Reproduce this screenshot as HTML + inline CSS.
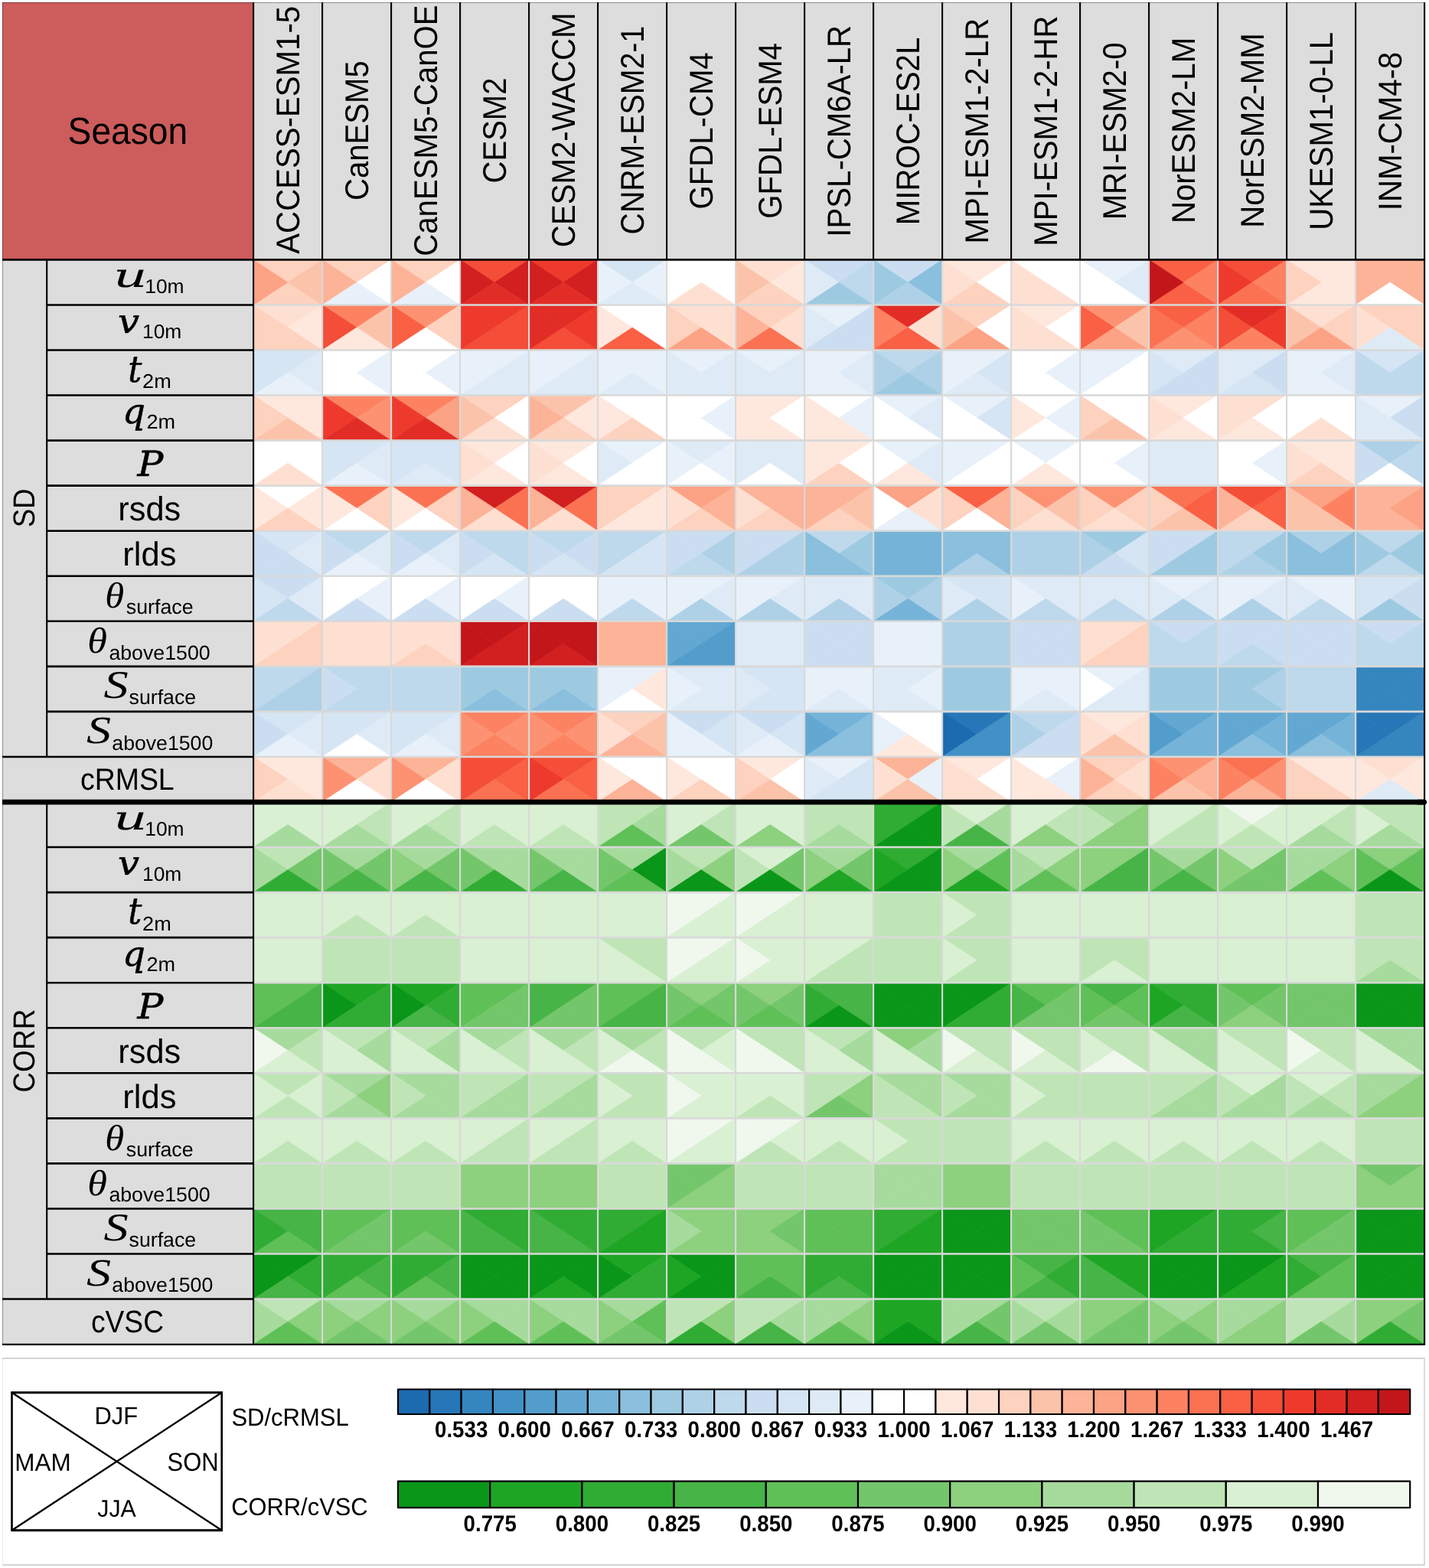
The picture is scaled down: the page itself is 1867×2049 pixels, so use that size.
<!DOCTYPE html>
<html lang="en"><head><meta charset="utf-8"><title>Seasonal performance matrix</title>
<style>html,body{margin:0;padding:0;background:#fff}svg{display:block}text{font-family:"Liberation Sans",Arial,Helvetica,sans-serif;fill:#000;text-rendering:geometricPrecision}.m{font-family:"Liberation Serif","DejaVu Serif",serif;font-style:italic}.d{font-family:"DejaVu Serif","Liberation Serif",serif;font-style:italic}.b{font-weight:bold}</style></head><body>
<svg width="1867" height="2049" viewBox="0 0 1867 2049">
<rect x="0" y="0" width="1867" height="2049" fill="#fff"/>
<g transform="translate(0 0)">
<rect x="3.0" y="3.0" width="1858.1" height="336.4" fill="#dddddd"/>
<rect x="3.0" y="3.0" width="328.1" height="336.4" fill="#cd5c5c"/>
<rect x="3.0" y="339.4" width="328.1" height="1417.2" fill="#dddddd"/>
<g stroke-width="0.6" stroke-linejoin="round">
<rect x="331.1" y="339.40" width="90.0" height="59.05" fill="#fdd2bf" stroke="#fdd2bf"/>
<path d="M331.1 339.40L376.1 368.92L331.1 398.45Z" fill="#fca285" stroke="#fca285"/>
<path d="M421.1 339.40L376.1 368.92L421.1 398.45Z" fill="#fcc3ab" stroke="#fcc3ab"/>
<rect x="421.1" y="339.40" width="90.0" height="59.05" fill="#fdd2bf" stroke="#fdd2bf"/>
<path d="M421.1 339.40L466.1 368.92L421.1 398.45Z" fill="#fcb398" stroke="#fcb398"/>
<path d="M511.1 339.40L466.1 368.92L511.1 398.45Z" fill="#ffffff" stroke="#ffffff"/>
<path d="M421.1 398.45L466.1 368.92L511.1 398.45Z" fill="#e8f1fa" stroke="#e8f1fa"/>
<rect x="511.1" y="339.40" width="90.0" height="59.05" fill="#fdd2bf" stroke="#fdd2bf"/>
<path d="M511.1 339.40L556.1 368.92L511.1 398.45Z" fill="#fcb398" stroke="#fcb398"/>
<path d="M601.1 339.40L556.1 368.92L601.1 398.45Z" fill="#ffffff" stroke="#ffffff"/>
<path d="M511.1 398.45L556.1 368.92L601.1 398.45Z" fill="#e8f1fa" stroke="#e8f1fa"/>
<rect x="601.1" y="339.40" width="90.0" height="59.05" fill="#f44d38" stroke="#f44d38"/>
<path d="M601.1 339.40L646.1 368.92L601.1 398.45Z" fill="#d21f20" stroke="#d21f20"/>
<path d="M691.1 339.40L646.1 368.92L691.1 398.45Z" fill="#d21f20" stroke="#d21f20"/>
<path d="M601.1 398.45L646.1 368.92L691.1 398.45Z" fill="#e12d26" stroke="#e12d26"/>
<rect x="691.1" y="339.40" width="90.0" height="59.05" fill="#ee3a2c" stroke="#ee3a2c"/>
<path d="M691.1 339.40L736.1 368.92L691.1 398.45Z" fill="#d21f20" stroke="#d21f20"/>
<path d="M781.1 339.40L736.1 368.92L781.1 398.45Z" fill="#d21f20" stroke="#d21f20"/>
<path d="M691.1 398.45L736.1 368.92L781.1 398.45Z" fill="#e12d26" stroke="#e12d26"/>
<rect x="781.1" y="339.40" width="90.0" height="59.05" fill="#d5e5f4" stroke="#d5e5f4"/>
<path d="M781.1 339.40L826.1 368.92L781.1 398.45Z" fill="#e8f1fa" stroke="#e8f1fa"/>
<path d="M871.1 339.40L826.1 368.92L871.1 398.45Z" fill="#e8f1fa" stroke="#e8f1fa"/>
<path d="M781.1 398.45L826.1 368.92L871.1 398.45Z" fill="#deebf7" stroke="#deebf7"/>
<rect x="871.1" y="339.40" width="90.0" height="59.05" fill="#ffffff" stroke="#ffffff"/>
<path d="M871.1 398.45L916.1 368.92L961.1 398.45Z" fill="#fee0d2" stroke="#fee0d2"/>
<rect x="961.1" y="339.40" width="90.0" height="59.05" fill="#fee0d2" stroke="#fee0d2"/>
<path d="M961.1 339.40L1006.1 368.92L961.1 398.45Z" fill="#fcc3ab" stroke="#fcc3ab"/>
<path d="M1051.1 339.40L1006.1 368.92L1051.1 398.45Z" fill="#fee8de" stroke="#fee8de"/>
<path d="M961.1 398.45L1006.1 368.92L1051.1 398.45Z" fill="#fdd2bf" stroke="#fdd2bf"/>
<rect x="1051.1" y="339.40" width="90.0" height="59.05" fill="#cbdef1" stroke="#cbdef1"/>
<path d="M1051.1 339.40L1096.1 368.92L1051.1 398.45Z" fill="#deebf7" stroke="#deebf7"/>
<path d="M1141.1 339.40L1096.1 368.92L1141.1 398.45Z" fill="#bed8ec" stroke="#bed8ec"/>
<path d="M1051.1 398.45L1096.1 368.92L1141.1 398.45Z" fill="#9dcae1" stroke="#9dcae1"/>
<rect x="1141.1" y="339.40" width="90.0" height="59.05" fill="#cbdef1" stroke="#cbdef1"/>
<path d="M1141.1 339.40L1186.1 368.92L1141.1 398.45Z" fill="#9dcae1" stroke="#9dcae1"/>
<path d="M1231.1 339.40L1186.1 368.92L1231.1 398.45Z" fill="#8abfdd" stroke="#8abfdd"/>
<path d="M1141.1 398.45L1186.1 368.92L1231.1 398.45Z" fill="#aed1e7" stroke="#aed1e7"/>
<rect x="1231.1" y="339.40" width="90.0" height="59.05" fill="#fee8de" stroke="#fee8de"/>
<path d="M1231.1 339.40L1276.1 368.92L1231.1 398.45Z" fill="#fee0d2" stroke="#fee0d2"/>
<path d="M1321.1 339.40L1276.1 368.92L1321.1 398.45Z" fill="#ffffff" stroke="#ffffff"/>
<path d="M1231.1 398.45L1276.1 368.92L1321.1 398.45Z" fill="#fdd2bf" stroke="#fdd2bf"/>
<rect x="1321.1" y="339.40" width="90.0" height="59.05" fill="#ffffff" stroke="#ffffff"/>
<path d="M1321.1 339.40L1366.1 368.92L1321.1 398.45Z" fill="#fee0d2" stroke="#fee0d2"/>
<path d="M1321.1 398.45L1366.1 368.92L1411.1 398.45Z" fill="#fee0d2" stroke="#fee0d2"/>
<rect x="1411.1" y="339.40" width="90.0" height="59.05" fill="#e8f1fa" stroke="#e8f1fa"/>
<path d="M1411.1 339.40L1456.1 368.92L1411.1 398.45Z" fill="#ffffff" stroke="#ffffff"/>
<path d="M1501.1 339.40L1456.1 368.92L1501.1 398.45Z" fill="#deebf7" stroke="#deebf7"/>
<path d="M1411.1 398.45L1456.1 368.92L1501.1 398.45Z" fill="#ffffff" stroke="#ffffff"/>
<rect x="1501.1" y="339.40" width="90.0" height="59.05" fill="#f96044" stroke="#f96044"/>
<path d="M1501.1 339.40L1546.1 368.92L1501.1 398.45Z" fill="#c3161b" stroke="#c3161b"/>
<path d="M1591.1 339.40L1546.1 368.92L1591.1 398.45Z" fill="#fc8262" stroke="#fc8262"/>
<rect x="1591.1" y="339.40" width="90.0" height="59.05" fill="#f44d38" stroke="#f44d38"/>
<path d="M1591.1 339.40L1636.1 368.92L1591.1 398.45Z" fill="#ee3a2c" stroke="#ee3a2c"/>
<path d="M1681.1 339.40L1636.1 368.92L1681.1 398.45Z" fill="#fc8262" stroke="#fc8262"/>
<path d="M1591.1 398.45L1636.1 368.92L1681.1 398.45Z" fill="#fb7252" stroke="#fb7252"/>
<rect x="1681.1" y="339.40" width="90.0" height="59.05" fill="#fee8de" stroke="#fee8de"/>
<path d="M1681.1 339.40L1726.1 368.92L1681.1 398.45Z" fill="#fdd2bf" stroke="#fdd2bf"/>
<rect x="1771.1" y="339.40" width="90.0" height="59.05" fill="#fcb398" stroke="#fcb398"/>
<path d="M1771.1 398.45L1816.1 368.92L1861.1 398.45Z" fill="#ffffff" stroke="#ffffff"/>
<rect x="331.1" y="398.45" width="90.0" height="59.05" fill="#fee0d2" stroke="#fee0d2"/>
<path d="M331.1 398.45L376.1 427.98L331.1 457.50Z" fill="#fdd2bf" stroke="#fdd2bf"/>
<path d="M421.1 398.45L376.1 427.98L421.1 457.50Z" fill="#fee8de" stroke="#fee8de"/>
<path d="M331.1 457.50L376.1 427.98L421.1 457.50Z" fill="#fdd2bf" stroke="#fdd2bf"/>
<rect x="421.1" y="398.45" width="90.0" height="59.05" fill="#fc8262" stroke="#fc8262"/>
<path d="M421.1 398.45L466.1 427.98L421.1 457.50Z" fill="#f44d38" stroke="#f44d38"/>
<path d="M511.1 398.45L466.1 427.98L511.1 457.50Z" fill="#fcc3ab" stroke="#fcc3ab"/>
<path d="M421.1 457.50L466.1 427.98L511.1 457.50Z" fill="#fee8de" stroke="#fee8de"/>
<rect x="511.1" y="398.45" width="90.0" height="59.05" fill="#fc9272" stroke="#fc9272"/>
<path d="M511.1 398.45L556.1 427.98L511.1 457.50Z" fill="#f96044" stroke="#f96044"/>
<path d="M601.1 398.45L556.1 427.98L601.1 457.50Z" fill="#fdd2bf" stroke="#fdd2bf"/>
<path d="M511.1 457.50L556.1 427.98L601.1 457.50Z" fill="#ffffff" stroke="#ffffff"/>
<rect x="601.1" y="398.45" width="90.0" height="59.05" fill="#ee3a2c" stroke="#ee3a2c"/>
<path d="M691.1 398.45L646.1 427.98L691.1 457.50Z" fill="#f44d38" stroke="#f44d38"/>
<path d="M601.1 457.50L646.1 427.98L691.1 457.50Z" fill="#f44d38" stroke="#f44d38"/>
<rect x="691.1" y="398.45" width="90.0" height="59.05" fill="#e12d26" stroke="#e12d26"/>
<path d="M781.1 398.45L736.1 427.98L781.1 457.50Z" fill="#ee3a2c" stroke="#ee3a2c"/>
<path d="M691.1 457.50L736.1 427.98L781.1 457.50Z" fill="#f44d38" stroke="#f44d38"/>
<rect x="781.1" y="398.45" width="90.0" height="59.05" fill="#ffffff" stroke="#ffffff"/>
<path d="M781.1 398.45L826.1 427.98L781.1 457.50Z" fill="#fee8de" stroke="#fee8de"/>
<path d="M781.1 457.50L826.1 427.98L871.1 457.50Z" fill="#f96044" stroke="#f96044"/>
<rect x="871.1" y="398.45" width="90.0" height="59.05" fill="#fee0d2" stroke="#fee0d2"/>
<path d="M871.1 398.45L916.1 427.98L871.1 457.50Z" fill="#fdd2bf" stroke="#fdd2bf"/>
<path d="M871.1 457.50L916.1 427.98L961.1 457.50Z" fill="#fca285" stroke="#fca285"/>
<rect x="961.1" y="398.45" width="90.0" height="59.05" fill="#fdd2bf" stroke="#fdd2bf"/>
<path d="M961.1 398.45L1006.1 427.98L961.1 457.50Z" fill="#fcb398" stroke="#fcb398"/>
<path d="M1051.1 398.45L1006.1 427.98L1051.1 457.50Z" fill="#fee0d2" stroke="#fee0d2"/>
<path d="M961.1 457.50L1006.1 427.98L1051.1 457.50Z" fill="#fb7252" stroke="#fb7252"/>
<rect x="1051.1" y="398.45" width="90.0" height="59.05" fill="#e8f1fa" stroke="#e8f1fa"/>
<path d="M1051.1 398.45L1096.1 427.98L1051.1 457.50Z" fill="#deebf7" stroke="#deebf7"/>
<path d="M1141.1 398.45L1096.1 427.98L1141.1 457.50Z" fill="#cbdef1" stroke="#cbdef1"/>
<path d="M1051.1 457.50L1096.1 427.98L1141.1 457.50Z" fill="#cbdef1" stroke="#cbdef1"/>
<rect x="1141.1" y="398.45" width="90.0" height="59.05" fill="#e12d26" stroke="#e12d26"/>
<path d="M1141.1 398.45L1186.1 427.98L1141.1 457.50Z" fill="#fc8262" stroke="#fc8262"/>
<path d="M1231.1 398.45L1186.1 427.98L1231.1 457.50Z" fill="#fee0d2" stroke="#fee0d2"/>
<path d="M1141.1 457.50L1186.1 427.98L1231.1 457.50Z" fill="#f96044" stroke="#f96044"/>
<rect x="1231.1" y="398.45" width="90.0" height="59.05" fill="#fdd2bf" stroke="#fdd2bf"/>
<path d="M1231.1 398.45L1276.1 427.98L1231.1 457.50Z" fill="#fcc3ab" stroke="#fcc3ab"/>
<path d="M1321.1 398.45L1276.1 427.98L1321.1 457.50Z" fill="#ffffff" stroke="#ffffff"/>
<path d="M1231.1 457.50L1276.1 427.98L1321.1 457.50Z" fill="#fca285" stroke="#fca285"/>
<rect x="1321.1" y="398.45" width="90.0" height="59.05" fill="#fee8de" stroke="#fee8de"/>
<path d="M1321.1 398.45L1366.1 427.98L1321.1 457.50Z" fill="#fee0d2" stroke="#fee0d2"/>
<path d="M1411.1 398.45L1366.1 427.98L1411.1 457.50Z" fill="#ffffff" stroke="#ffffff"/>
<path d="M1321.1 457.50L1366.1 427.98L1411.1 457.50Z" fill="#fee0d2" stroke="#fee0d2"/>
<rect x="1411.1" y="398.45" width="90.0" height="59.05" fill="#fc9272" stroke="#fc9272"/>
<path d="M1411.1 398.45L1456.1 427.98L1411.1 457.50Z" fill="#f96044" stroke="#f96044"/>
<path d="M1501.1 398.45L1456.1 427.98L1501.1 457.50Z" fill="#fcc3ab" stroke="#fcc3ab"/>
<path d="M1411.1 457.50L1456.1 427.98L1501.1 457.50Z" fill="#fca285" stroke="#fca285"/>
<rect x="1501.1" y="398.45" width="90.0" height="59.05" fill="#f96044" stroke="#f96044"/>
<path d="M1501.1 398.45L1546.1 427.98L1501.1 457.50Z" fill="#fb7252" stroke="#fb7252"/>
<path d="M1591.1 398.45L1546.1 427.98L1591.1 457.50Z" fill="#fc8262" stroke="#fc8262"/>
<path d="M1501.1 457.50L1546.1 427.98L1591.1 457.50Z" fill="#fc9272" stroke="#fc9272"/>
<rect x="1591.1" y="398.45" width="90.0" height="59.05" fill="#e12d26" stroke="#e12d26"/>
<path d="M1591.1 398.45L1636.1 427.98L1591.1 457.50Z" fill="#f44d38" stroke="#f44d38"/>
<path d="M1681.1 398.45L1636.1 427.98L1681.1 457.50Z" fill="#ee3a2c" stroke="#ee3a2c"/>
<path d="M1591.1 457.50L1636.1 427.98L1681.1 457.50Z" fill="#fc8262" stroke="#fc8262"/>
<rect x="1681.1" y="398.45" width="90.0" height="59.05" fill="#fee0d2" stroke="#fee0d2"/>
<path d="M1681.1 398.45L1726.1 427.98L1681.1 457.50Z" fill="#fcc3ab" stroke="#fcc3ab"/>
<path d="M1771.1 398.45L1726.1 427.98L1771.1 457.50Z" fill="#fdd2bf" stroke="#fdd2bf"/>
<path d="M1681.1 457.50L1726.1 427.98L1771.1 457.50Z" fill="#fca285" stroke="#fca285"/>
<rect x="1771.1" y="398.45" width="90.0" height="59.05" fill="#fdd2bf" stroke="#fdd2bf"/>
<path d="M1771.1 398.45L1816.1 427.98L1771.1 457.50Z" fill="#fee0d2" stroke="#fee0d2"/>
<path d="M1771.1 457.50L1816.1 427.98L1861.1 457.50Z" fill="#deebf7" stroke="#deebf7"/>
<rect x="331.1" y="457.50" width="90.0" height="59.05" fill="#d5e5f4" stroke="#d5e5f4"/>
<path d="M421.1 457.50L376.1 487.02L421.1 516.55Z" fill="#deebf7" stroke="#deebf7"/>
<path d="M331.1 516.55L376.1 487.02L421.1 516.55Z" fill="#e8f1fa" stroke="#e8f1fa"/>
<rect x="421.1" y="457.50" width="90.0" height="59.05" fill="#ffffff" stroke="#ffffff"/>
<path d="M511.1 457.50L466.1 487.02L511.1 516.55Z" fill="#e8f1fa" stroke="#e8f1fa"/>
<rect x="511.1" y="457.50" width="90.0" height="59.05" fill="#ffffff" stroke="#ffffff"/>
<path d="M601.1 457.50L556.1 487.02L601.1 516.55Z" fill="#e8f1fa" stroke="#e8f1fa"/>
<rect x="601.1" y="457.50" width="90.0" height="59.05" fill="#e8f1fa" stroke="#e8f1fa"/>
<path d="M691.1 457.50L646.1 487.02L691.1 516.55Z" fill="#deebf7" stroke="#deebf7"/>
<path d="M601.1 516.55L646.1 487.02L691.1 516.55Z" fill="#deebf7" stroke="#deebf7"/>
<rect x="691.1" y="457.50" width="90.0" height="59.05" fill="#e8f1fa" stroke="#e8f1fa"/>
<path d="M781.1 457.50L736.1 487.02L781.1 516.55Z" fill="#deebf7" stroke="#deebf7"/>
<path d="M691.1 516.55L736.1 487.02L781.1 516.55Z" fill="#deebf7" stroke="#deebf7"/>
<rect x="781.1" y="457.50" width="90.0" height="59.05" fill="#e8f1fa" stroke="#e8f1fa"/>
<path d="M781.1 516.55L826.1 487.02L871.1 516.55Z" fill="#deebf7" stroke="#deebf7"/>
<rect x="871.1" y="457.50" width="90.0" height="59.05" fill="#e8f1fa" stroke="#e8f1fa"/>
<path d="M871.1 457.50L916.1 487.02L871.1 516.55Z" fill="#deebf7" stroke="#deebf7"/>
<path d="M961.1 457.50L916.1 487.02L961.1 516.55Z" fill="#deebf7" stroke="#deebf7"/>
<path d="M871.1 516.55L916.1 487.02L961.1 516.55Z" fill="#deebf7" stroke="#deebf7"/>
<rect x="961.1" y="457.50" width="90.0" height="59.05" fill="#e8f1fa" stroke="#e8f1fa"/>
<path d="M961.1 457.50L1006.1 487.02L961.1 516.55Z" fill="#deebf7" stroke="#deebf7"/>
<path d="M1051.1 457.50L1006.1 487.02L1051.1 516.55Z" fill="#deebf7" stroke="#deebf7"/>
<path d="M961.1 516.55L1006.1 487.02L1051.1 516.55Z" fill="#deebf7" stroke="#deebf7"/>
<rect x="1051.1" y="457.50" width="90.0" height="59.05" fill="#e8f1fa" stroke="#e8f1fa"/>
<path d="M1141.1 457.50L1096.1 487.02L1141.1 516.55Z" fill="#deebf7" stroke="#deebf7"/>
<rect x="1141.1" y="457.50" width="90.0" height="59.05" fill="#bed8ec" stroke="#bed8ec"/>
<path d="M1141.1 457.50L1186.1 487.02L1141.1 516.55Z" fill="#aed1e7" stroke="#aed1e7"/>
<path d="M1231.1 457.50L1186.1 487.02L1231.1 516.55Z" fill="#aed1e7" stroke="#aed1e7"/>
<path d="M1141.1 516.55L1186.1 487.02L1231.1 516.55Z" fill="#9dcae1" stroke="#9dcae1"/>
<rect x="1231.1" y="457.50" width="90.0" height="59.05" fill="#e8f1fa" stroke="#e8f1fa"/>
<path d="M1321.1 457.50L1276.1 487.02L1321.1 516.55Z" fill="#d5e5f4" stroke="#d5e5f4"/>
<path d="M1231.1 516.55L1276.1 487.02L1321.1 516.55Z" fill="#deebf7" stroke="#deebf7"/>
<rect x="1321.1" y="457.50" width="90.0" height="59.05" fill="#ffffff" stroke="#ffffff"/>
<path d="M1411.1 457.50L1366.1 487.02L1411.1 516.55Z" fill="#e8f1fa" stroke="#e8f1fa"/>
<rect x="1411.1" y="457.50" width="90.0" height="59.05" fill="#e8f1fa" stroke="#e8f1fa"/>
<path d="M1501.1 457.50L1456.1 487.02L1501.1 516.55Z" fill="#ffffff" stroke="#ffffff"/>
<path d="M1411.1 516.55L1456.1 487.02L1501.1 516.55Z" fill="#ffffff" stroke="#ffffff"/>
<rect x="1501.1" y="457.50" width="90.0" height="59.05" fill="#deebf7" stroke="#deebf7"/>
<path d="M1501.1 457.50L1546.1 487.02L1501.1 516.55Z" fill="#d5e5f4" stroke="#d5e5f4"/>
<path d="M1591.1 457.50L1546.1 487.02L1591.1 516.55Z" fill="#cbdef1" stroke="#cbdef1"/>
<path d="M1501.1 516.55L1546.1 487.02L1591.1 516.55Z" fill="#cbdef1" stroke="#cbdef1"/>
<rect x="1591.1" y="457.50" width="90.0" height="59.05" fill="#deebf7" stroke="#deebf7"/>
<path d="M1681.1 457.50L1636.1 487.02L1681.1 516.55Z" fill="#cbdef1" stroke="#cbdef1"/>
<path d="M1591.1 516.55L1636.1 487.02L1681.1 516.55Z" fill="#d5e5f4" stroke="#d5e5f4"/>
<rect x="1681.1" y="457.50" width="90.0" height="59.05" fill="#e8f1fa" stroke="#e8f1fa"/>
<path d="M1771.1 457.50L1726.1 487.02L1771.1 516.55Z" fill="#deebf7" stroke="#deebf7"/>
<rect x="1771.1" y="457.50" width="90.0" height="59.05" fill="#d5e5f4" stroke="#d5e5f4"/>
<path d="M1771.1 457.50L1816.1 487.02L1771.1 516.55Z" fill="#bed8ec" stroke="#bed8ec"/>
<path d="M1861.1 457.50L1816.1 487.02L1861.1 516.55Z" fill="#bed8ec" stroke="#bed8ec"/>
<path d="M1771.1 516.55L1816.1 487.02L1861.1 516.55Z" fill="#bed8ec" stroke="#bed8ec"/>
<rect x="331.1" y="516.55" width="90.0" height="59.05" fill="#fee8de" stroke="#fee8de"/>
<path d="M331.1 516.55L376.1 546.07L331.1 575.60Z" fill="#fdd2bf" stroke="#fdd2bf"/>
<path d="M331.1 575.60L376.1 546.07L421.1 575.60Z" fill="#fcc3ab" stroke="#fcc3ab"/>
<rect x="421.1" y="516.55" width="90.0" height="59.05" fill="#fc8262" stroke="#fc8262"/>
<path d="M421.1 516.55L466.1 546.07L421.1 575.60Z" fill="#ee3a2c" stroke="#ee3a2c"/>
<path d="M511.1 516.55L466.1 546.07L511.1 575.60Z" fill="#fc9272" stroke="#fc9272"/>
<path d="M421.1 575.60L466.1 546.07L511.1 575.60Z" fill="#e12d26" stroke="#e12d26"/>
<rect x="511.1" y="516.55" width="90.0" height="59.05" fill="#fc8262" stroke="#fc8262"/>
<path d="M511.1 516.55L556.1 546.07L511.1 575.60Z" fill="#ee3a2c" stroke="#ee3a2c"/>
<path d="M601.1 516.55L556.1 546.07L601.1 575.60Z" fill="#fca285" stroke="#fca285"/>
<path d="M511.1 575.60L556.1 546.07L601.1 575.60Z" fill="#e12d26" stroke="#e12d26"/>
<rect x="601.1" y="516.55" width="90.0" height="59.05" fill="#fdd2bf" stroke="#fdd2bf"/>
<path d="M601.1 516.55L646.1 546.07L601.1 575.60Z" fill="#fcc3ab" stroke="#fcc3ab"/>
<path d="M691.1 516.55L646.1 546.07L691.1 575.60Z" fill="#ffffff" stroke="#ffffff"/>
<path d="M601.1 575.60L646.1 546.07L691.1 575.60Z" fill="#fee0d2" stroke="#fee0d2"/>
<rect x="691.1" y="516.55" width="90.0" height="59.05" fill="#fcc3ab" stroke="#fcc3ab"/>
<path d="M691.1 516.55L736.1 546.07L691.1 575.60Z" fill="#fcb398" stroke="#fcb398"/>
<path d="M781.1 516.55L736.1 546.07L781.1 575.60Z" fill="#fee8de" stroke="#fee8de"/>
<path d="M691.1 575.60L736.1 546.07L781.1 575.60Z" fill="#fdd2bf" stroke="#fdd2bf"/>
<rect x="781.1" y="516.55" width="90.0" height="59.05" fill="#ffffff" stroke="#ffffff"/>
<path d="M781.1 516.55L826.1 546.07L781.1 575.60Z" fill="#fee8de" stroke="#fee8de"/>
<path d="M781.1 575.60L826.1 546.07L871.1 575.60Z" fill="#fdd2bf" stroke="#fdd2bf"/>
<rect x="871.1" y="516.55" width="90.0" height="59.05" fill="#ffffff" stroke="#ffffff"/>
<path d="M961.1 516.55L916.1 546.07L961.1 575.60Z" fill="#e8f1fa" stroke="#e8f1fa"/>
<rect x="961.1" y="516.55" width="90.0" height="59.05" fill="#fee8de" stroke="#fee8de"/>
<path d="M1051.1 516.55L1006.1 546.07L1051.1 575.60Z" fill="#ffffff" stroke="#ffffff"/>
<rect x="1051.1" y="516.55" width="90.0" height="59.05" fill="#ffffff" stroke="#ffffff"/>
<path d="M1051.1 516.55L1096.1 546.07L1051.1 575.60Z" fill="#fee8de" stroke="#fee8de"/>
<path d="M1141.1 516.55L1096.1 546.07L1141.1 575.60Z" fill="#e8f1fa" stroke="#e8f1fa"/>
<path d="M1051.1 575.60L1096.1 546.07L1141.1 575.60Z" fill="#fee8de" stroke="#fee8de"/>
<rect x="1141.1" y="516.55" width="90.0" height="59.05" fill="#e8f1fa" stroke="#e8f1fa"/>
<path d="M1141.1 516.55L1186.1 546.07L1141.1 575.60Z" fill="#ffffff" stroke="#ffffff"/>
<path d="M1231.1 516.55L1186.1 546.07L1231.1 575.60Z" fill="#deebf7" stroke="#deebf7"/>
<path d="M1141.1 575.60L1186.1 546.07L1231.1 575.60Z" fill="#ffffff" stroke="#ffffff"/>
<rect x="1231.1" y="516.55" width="90.0" height="59.05" fill="#e8f1fa" stroke="#e8f1fa"/>
<path d="M1231.1 516.55L1276.1 546.07L1231.1 575.60Z" fill="#ffffff" stroke="#ffffff"/>
<path d="M1321.1 516.55L1276.1 546.07L1321.1 575.60Z" fill="#d5e5f4" stroke="#d5e5f4"/>
<path d="M1231.1 575.60L1276.1 546.07L1321.1 575.60Z" fill="#ffffff" stroke="#ffffff"/>
<rect x="1321.1" y="516.55" width="90.0" height="59.05" fill="#ffffff" stroke="#ffffff"/>
<path d="M1321.1 516.55L1366.1 546.07L1321.1 575.60Z" fill="#fee8de" stroke="#fee8de"/>
<path d="M1411.1 516.55L1366.1 546.07L1411.1 575.60Z" fill="#e8f1fa" stroke="#e8f1fa"/>
<rect x="1411.1" y="516.55" width="90.0" height="59.05" fill="#ffffff" stroke="#ffffff"/>
<path d="M1411.1 516.55L1456.1 546.07L1411.1 575.60Z" fill="#fdd2bf" stroke="#fdd2bf"/>
<path d="M1411.1 575.60L1456.1 546.07L1501.1 575.60Z" fill="#fcc3ab" stroke="#fcc3ab"/>
<rect x="1501.1" y="516.55" width="90.0" height="59.05" fill="#fee8de" stroke="#fee8de"/>
<path d="M1501.1 516.55L1546.1 546.07L1501.1 575.60Z" fill="#fee0d2" stroke="#fee0d2"/>
<path d="M1591.1 516.55L1546.1 546.07L1591.1 575.60Z" fill="#ffffff" stroke="#ffffff"/>
<rect x="1591.1" y="516.55" width="90.0" height="59.05" fill="#fee0d2" stroke="#fee0d2"/>
<path d="M1681.1 516.55L1636.1 546.07L1681.1 575.60Z" fill="#ffffff" stroke="#ffffff"/>
<path d="M1591.1 575.60L1636.1 546.07L1681.1 575.60Z" fill="#fee8de" stroke="#fee8de"/>
<rect x="1681.1" y="516.55" width="90.0" height="59.05" fill="#ffffff" stroke="#ffffff"/>
<path d="M1681.1 575.60L1726.1 546.07L1771.1 575.60Z" fill="#fee0d2" stroke="#fee0d2"/>
<rect x="1771.1" y="516.55" width="90.0" height="59.05" fill="#e8f1fa" stroke="#e8f1fa"/>
<path d="M1771.1 516.55L1816.1 546.07L1771.1 575.60Z" fill="#deebf7" stroke="#deebf7"/>
<path d="M1861.1 516.55L1816.1 546.07L1861.1 575.60Z" fill="#cbdef1" stroke="#cbdef1"/>
<path d="M1771.1 575.60L1816.1 546.07L1861.1 575.60Z" fill="#deebf7" stroke="#deebf7"/>
<rect x="331.1" y="575.60" width="90.0" height="59.05" fill="#ffffff" stroke="#ffffff"/>
<path d="M331.1 634.65L376.1 605.12L421.1 634.65Z" fill="#fee0d2" stroke="#fee0d2"/>
<rect x="421.1" y="575.60" width="90.0" height="59.05" fill="#d5e5f4" stroke="#d5e5f4"/>
<path d="M511.1 575.60L466.1 605.12L511.1 634.65Z" fill="#deebf7" stroke="#deebf7"/>
<path d="M421.1 634.65L466.1 605.12L511.1 634.65Z" fill="#e8f1fa" stroke="#e8f1fa"/>
<rect x="511.1" y="575.60" width="90.0" height="59.05" fill="#d5e5f4" stroke="#d5e5f4"/>
<path d="M511.1 634.65L556.1 605.12L601.1 634.65Z" fill="#deebf7" stroke="#deebf7"/>
<rect x="601.1" y="575.60" width="90.0" height="59.05" fill="#fee8de" stroke="#fee8de"/>
<path d="M601.1 575.60L646.1 605.12L601.1 634.65Z" fill="#fee0d2" stroke="#fee0d2"/>
<path d="M691.1 575.60L646.1 605.12L691.1 634.65Z" fill="#ffffff" stroke="#ffffff"/>
<rect x="691.1" y="575.60" width="90.0" height="59.05" fill="#fee8de" stroke="#fee8de"/>
<path d="M691.1 575.60L736.1 605.12L691.1 634.65Z" fill="#fee0d2" stroke="#fee0d2"/>
<path d="M781.1 575.60L736.1 605.12L781.1 634.65Z" fill="#ffffff" stroke="#ffffff"/>
<rect x="781.1" y="575.60" width="90.0" height="59.05" fill="#e8f1fa" stroke="#e8f1fa"/>
<path d="M781.1 575.60L826.1 605.12L781.1 634.65Z" fill="#deebf7" stroke="#deebf7"/>
<path d="M871.1 575.60L826.1 605.12L871.1 634.65Z" fill="#ffffff" stroke="#ffffff"/>
<path d="M781.1 634.65L826.1 605.12L871.1 634.65Z" fill="#ffffff" stroke="#ffffff"/>
<rect x="871.1" y="575.60" width="90.0" height="59.05" fill="#deebf7" stroke="#deebf7"/>
<path d="M871.1 575.60L916.1 605.12L871.1 634.65Z" fill="#e8f1fa" stroke="#e8f1fa"/>
<path d="M961.1 575.60L916.1 605.12L961.1 634.65Z" fill="#e8f1fa" stroke="#e8f1fa"/>
<path d="M871.1 634.65L916.1 605.12L961.1 634.65Z" fill="#ffffff" stroke="#ffffff"/>
<rect x="961.1" y="575.60" width="90.0" height="59.05" fill="#deebf7" stroke="#deebf7"/>
<path d="M961.1 634.65L1006.1 605.12L1051.1 634.65Z" fill="#ffffff" stroke="#ffffff"/>
<rect x="1051.1" y="575.60" width="90.0" height="59.05" fill="#fee8de" stroke="#fee8de"/>
<path d="M1141.1 575.60L1096.1 605.12L1141.1 634.65Z" fill="#ffffff" stroke="#ffffff"/>
<path d="M1051.1 634.65L1096.1 605.12L1141.1 634.65Z" fill="#fdd2bf" stroke="#fdd2bf"/>
<rect x="1141.1" y="575.60" width="90.0" height="59.05" fill="#e8f1fa" stroke="#e8f1fa"/>
<path d="M1141.1 575.60L1186.1 605.12L1141.1 634.65Z" fill="#ffffff" stroke="#ffffff"/>
<path d="M1231.1 575.60L1186.1 605.12L1231.1 634.65Z" fill="#deebf7" stroke="#deebf7"/>
<path d="M1141.1 634.65L1186.1 605.12L1231.1 634.65Z" fill="#fee8de" stroke="#fee8de"/>
<rect x="1231.1" y="575.60" width="90.0" height="59.05" fill="#e8f1fa" stroke="#e8f1fa"/>
<path d="M1321.1 575.60L1276.1 605.12L1321.1 634.65Z" fill="#ffffff" stroke="#ffffff"/>
<path d="M1231.1 634.65L1276.1 605.12L1321.1 634.65Z" fill="#ffffff" stroke="#ffffff"/>
<rect x="1321.1" y="575.60" width="90.0" height="59.05" fill="#e8f1fa" stroke="#e8f1fa"/>
<path d="M1321.1 575.60L1366.1 605.12L1321.1 634.65Z" fill="#ffffff" stroke="#ffffff"/>
<path d="M1411.1 575.60L1366.1 605.12L1411.1 634.65Z" fill="#ffffff" stroke="#ffffff"/>
<path d="M1321.1 634.65L1366.1 605.12L1411.1 634.65Z" fill="#fee8de" stroke="#fee8de"/>
<rect x="1411.1" y="575.60" width="90.0" height="59.05" fill="#ffffff" stroke="#ffffff"/>
<path d="M1501.1 575.60L1456.1 605.12L1501.1 634.65Z" fill="#e8f1fa" stroke="#e8f1fa"/>
<rect x="1501.1" y="575.60" width="90.0" height="59.05" fill="#deebf7" stroke="#deebf7"/>
<rect x="1591.1" y="575.60" width="90.0" height="59.05" fill="#ffffff" stroke="#ffffff"/>
<path d="M1681.1 575.60L1636.1 605.12L1681.1 634.65Z" fill="#e8f1fa" stroke="#e8f1fa"/>
<rect x="1681.1" y="575.60" width="90.0" height="59.05" fill="#fee8de" stroke="#fee8de"/>
<path d="M1681.1 575.60L1726.1 605.12L1681.1 634.65Z" fill="#fee0d2" stroke="#fee0d2"/>
<path d="M1681.1 634.65L1726.1 605.12L1771.1 634.65Z" fill="#fdd2bf" stroke="#fdd2bf"/>
<rect x="1771.1" y="575.60" width="90.0" height="59.05" fill="#aed1e7" stroke="#aed1e7"/>
<path d="M1771.1 575.60L1816.1 605.12L1771.1 634.65Z" fill="#cbdef1" stroke="#cbdef1"/>
<path d="M1861.1 575.60L1816.1 605.12L1861.1 634.65Z" fill="#bed8ec" stroke="#bed8ec"/>
<path d="M1771.1 634.65L1816.1 605.12L1861.1 634.65Z" fill="#ffffff" stroke="#ffffff"/>
<rect x="331.1" y="634.65" width="90.0" height="59.05" fill="#ffffff" stroke="#ffffff"/>
<path d="M331.1 634.65L376.1 664.17L331.1 693.70Z" fill="#fee8de" stroke="#fee8de"/>
<path d="M421.1 634.65L376.1 664.17L421.1 693.70Z" fill="#fee8de" stroke="#fee8de"/>
<path d="M331.1 693.70L376.1 664.17L421.1 693.70Z" fill="#fdd2bf" stroke="#fdd2bf"/>
<rect x="421.1" y="634.65" width="90.0" height="59.05" fill="#fb7252" stroke="#fb7252"/>
<path d="M421.1 634.65L466.1 664.17L421.1 693.70Z" fill="#fee8de" stroke="#fee8de"/>
<path d="M511.1 634.65L466.1 664.17L511.1 693.70Z" fill="#fdd2bf" stroke="#fdd2bf"/>
<path d="M421.1 693.70L466.1 664.17L511.1 693.70Z" fill="#ffffff" stroke="#ffffff"/>
<rect x="511.1" y="634.65" width="90.0" height="59.05" fill="#fb7252" stroke="#fb7252"/>
<path d="M511.1 634.65L556.1 664.17L511.1 693.70Z" fill="#fee8de" stroke="#fee8de"/>
<path d="M601.1 634.65L556.1 664.17L601.1 693.70Z" fill="#fdd2bf" stroke="#fdd2bf"/>
<path d="M511.1 693.70L556.1 664.17L601.1 693.70Z" fill="#ffffff" stroke="#ffffff"/>
<rect x="601.1" y="634.65" width="90.0" height="59.05" fill="#d21f20" stroke="#d21f20"/>
<path d="M601.1 634.65L646.1 664.17L601.1 693.70Z" fill="#fcb398" stroke="#fcb398"/>
<path d="M691.1 634.65L646.1 664.17L691.1 693.70Z" fill="#fb7252" stroke="#fb7252"/>
<path d="M601.1 693.70L646.1 664.17L691.1 693.70Z" fill="#fee0d2" stroke="#fee0d2"/>
<rect x="691.1" y="634.65" width="90.0" height="59.05" fill="#d21f20" stroke="#d21f20"/>
<path d="M691.1 634.65L736.1 664.17L691.1 693.70Z" fill="#fcb398" stroke="#fcb398"/>
<path d="M781.1 634.65L736.1 664.17L781.1 693.70Z" fill="#fb7252" stroke="#fb7252"/>
<path d="M691.1 693.70L736.1 664.17L781.1 693.70Z" fill="#fee0d2" stroke="#fee0d2"/>
<rect x="781.1" y="634.65" width="90.0" height="59.05" fill="#fdd2bf" stroke="#fdd2bf"/>
<path d="M871.1 634.65L826.1 664.17L871.1 693.70Z" fill="#fee8de" stroke="#fee8de"/>
<path d="M781.1 693.70L826.1 664.17L871.1 693.70Z" fill="#fee8de" stroke="#fee8de"/>
<rect x="871.1" y="634.65" width="90.0" height="59.05" fill="#fca285" stroke="#fca285"/>
<path d="M871.1 634.65L916.1 664.17L871.1 693.70Z" fill="#fee0d2" stroke="#fee0d2"/>
<path d="M961.1 634.65L916.1 664.17L961.1 693.70Z" fill="#fcb398" stroke="#fcb398"/>
<path d="M871.1 693.70L916.1 664.17L961.1 693.70Z" fill="#fdd2bf" stroke="#fdd2bf"/>
<rect x="961.1" y="634.65" width="90.0" height="59.05" fill="#fcb398" stroke="#fcb398"/>
<path d="M961.1 634.65L1006.1 664.17L961.1 693.70Z" fill="#fee0d2" stroke="#fee0d2"/>
<path d="M961.1 693.70L1006.1 664.17L1051.1 693.70Z" fill="#fdd2bf" stroke="#fdd2bf"/>
<rect x="1051.1" y="634.65" width="90.0" height="59.05" fill="#fcb398" stroke="#fcb398"/>
<path d="M1141.1 634.65L1096.1 664.17L1141.1 693.70Z" fill="#fcc3ab" stroke="#fcc3ab"/>
<path d="M1051.1 693.70L1096.1 664.17L1141.1 693.70Z" fill="#fdd2bf" stroke="#fdd2bf"/>
<rect x="1141.1" y="634.65" width="90.0" height="59.05" fill="#fca285" stroke="#fca285"/>
<path d="M1141.1 634.65L1186.1 664.17L1141.1 693.70Z" fill="#ffffff" stroke="#ffffff"/>
<path d="M1231.1 634.65L1186.1 664.17L1231.1 693.70Z" fill="#fee0d2" stroke="#fee0d2"/>
<path d="M1141.1 693.70L1186.1 664.17L1231.1 693.70Z" fill="#e8f1fa" stroke="#e8f1fa"/>
<rect x="1231.1" y="634.65" width="90.0" height="59.05" fill="#f96044" stroke="#f96044"/>
<path d="M1231.1 634.65L1276.1 664.17L1231.1 693.70Z" fill="#fdd2bf" stroke="#fdd2bf"/>
<path d="M1321.1 634.65L1276.1 664.17L1321.1 693.70Z" fill="#fcb398" stroke="#fcb398"/>
<path d="M1231.1 693.70L1276.1 664.17L1321.1 693.70Z" fill="#ffffff" stroke="#ffffff"/>
<rect x="1321.1" y="634.65" width="90.0" height="59.05" fill="#fc9272" stroke="#fc9272"/>
<path d="M1321.1 634.65L1366.1 664.17L1321.1 693.70Z" fill="#fdd2bf" stroke="#fdd2bf"/>
<path d="M1411.1 634.65L1366.1 664.17L1411.1 693.70Z" fill="#fcc3ab" stroke="#fcc3ab"/>
<path d="M1321.1 693.70L1366.1 664.17L1411.1 693.70Z" fill="#fee0d2" stroke="#fee0d2"/>
<rect x="1411.1" y="634.65" width="90.0" height="59.05" fill="#fc9272" stroke="#fc9272"/>
<path d="M1411.1 634.65L1456.1 664.17L1411.1 693.70Z" fill="#fdd2bf" stroke="#fdd2bf"/>
<path d="M1501.1 634.65L1456.1 664.17L1501.1 693.70Z" fill="#fdd2bf" stroke="#fdd2bf"/>
<path d="M1411.1 693.70L1456.1 664.17L1501.1 693.70Z" fill="#fee0d2" stroke="#fee0d2"/>
<rect x="1501.1" y="634.65" width="90.0" height="59.05" fill="#fb7252" stroke="#fb7252"/>
<path d="M1501.1 634.65L1546.1 664.17L1501.1 693.70Z" fill="#fdd2bf" stroke="#fdd2bf"/>
<path d="M1591.1 634.65L1546.1 664.17L1591.1 693.70Z" fill="#f96044" stroke="#f96044"/>
<path d="M1501.1 693.70L1546.1 664.17L1591.1 693.70Z" fill="#fcc3ab" stroke="#fcc3ab"/>
<rect x="1591.1" y="634.65" width="90.0" height="59.05" fill="#f44d38" stroke="#f44d38"/>
<path d="M1591.1 634.65L1636.1 664.17L1591.1 693.70Z" fill="#fcb398" stroke="#fcb398"/>
<path d="M1681.1 634.65L1636.1 664.17L1681.1 693.70Z" fill="#f96044" stroke="#f96044"/>
<path d="M1591.1 693.70L1636.1 664.17L1681.1 693.70Z" fill="#fdd2bf" stroke="#fdd2bf"/>
<rect x="1681.1" y="634.65" width="90.0" height="59.05" fill="#fca285" stroke="#fca285"/>
<path d="M1681.1 634.65L1726.1 664.17L1681.1 693.70Z" fill="#fcc3ab" stroke="#fcc3ab"/>
<path d="M1771.1 634.65L1726.1 664.17L1771.1 693.70Z" fill="#fc8262" stroke="#fc8262"/>
<path d="M1681.1 693.70L1726.1 664.17L1771.1 693.70Z" fill="#fcc3ab" stroke="#fcc3ab"/>
<rect x="1771.1" y="634.65" width="90.0" height="59.05" fill="#fcb398" stroke="#fcb398"/>
<path d="M1861.1 634.65L1816.1 664.17L1861.1 693.70Z" fill="#fca285" stroke="#fca285"/>
<rect x="331.1" y="693.70" width="90.0" height="59.05" fill="#d5e5f4" stroke="#d5e5f4"/>
<path d="M331.1 693.70L376.1 723.22L331.1 752.75Z" fill="#cbdef1" stroke="#cbdef1"/>
<path d="M421.1 693.70L376.1 723.22L421.1 752.75Z" fill="#deebf7" stroke="#deebf7"/>
<path d="M331.1 752.75L376.1 723.22L421.1 752.75Z" fill="#cbdef1" stroke="#cbdef1"/>
<rect x="421.1" y="693.70" width="90.0" height="59.05" fill="#bed8ec" stroke="#bed8ec"/>
<path d="M421.1 693.70L466.1 723.22L421.1 752.75Z" fill="#cbdef1" stroke="#cbdef1"/>
<path d="M511.1 693.70L466.1 723.22L511.1 752.75Z" fill="#deebf7" stroke="#deebf7"/>
<path d="M421.1 752.75L466.1 723.22L511.1 752.75Z" fill="#e8f1fa" stroke="#e8f1fa"/>
<rect x="511.1" y="693.70" width="90.0" height="59.05" fill="#bed8ec" stroke="#bed8ec"/>
<path d="M511.1 693.70L556.1 723.22L511.1 752.75Z" fill="#cbdef1" stroke="#cbdef1"/>
<path d="M601.1 693.70L556.1 723.22L601.1 752.75Z" fill="#deebf7" stroke="#deebf7"/>
<path d="M511.1 752.75L556.1 723.22L601.1 752.75Z" fill="#e8f1fa" stroke="#e8f1fa"/>
<rect x="601.1" y="693.70" width="90.0" height="59.05" fill="#bed8ec" stroke="#bed8ec"/>
<path d="M601.1 693.70L646.1 723.22L601.1 752.75Z" fill="#cbdef1" stroke="#cbdef1"/>
<path d="M601.1 752.75L646.1 723.22L691.1 752.75Z" fill="#d5e5f4" stroke="#d5e5f4"/>
<rect x="691.1" y="693.70" width="90.0" height="59.05" fill="#bed8ec" stroke="#bed8ec"/>
<path d="M691.1 693.70L736.1 723.22L691.1 752.75Z" fill="#cbdef1" stroke="#cbdef1"/>
<path d="M781.1 693.70L736.1 723.22L781.1 752.75Z" fill="#cbdef1" stroke="#cbdef1"/>
<path d="M691.1 752.75L736.1 723.22L781.1 752.75Z" fill="#d5e5f4" stroke="#d5e5f4"/>
<rect x="781.1" y="693.70" width="90.0" height="59.05" fill="#bed8ec" stroke="#bed8ec"/>
<path d="M871.1 693.70L826.1 723.22L871.1 752.75Z" fill="#d5e5f4" stroke="#d5e5f4"/>
<path d="M781.1 752.75L826.1 723.22L871.1 752.75Z" fill="#d5e5f4" stroke="#d5e5f4"/>
<rect x="871.1" y="693.70" width="90.0" height="59.05" fill="#cbdef1" stroke="#cbdef1"/>
<path d="M961.1 693.70L916.1 723.22L961.1 752.75Z" fill="#aed1e7" stroke="#aed1e7"/>
<path d="M871.1 752.75L916.1 723.22L961.1 752.75Z" fill="#bed8ec" stroke="#bed8ec"/>
<rect x="961.1" y="693.70" width="90.0" height="59.05" fill="#cbdef1" stroke="#cbdef1"/>
<path d="M1051.1 693.70L1006.1 723.22L1051.1 752.75Z" fill="#aed1e7" stroke="#aed1e7"/>
<path d="M961.1 752.75L1006.1 723.22L1051.1 752.75Z" fill="#aed1e7" stroke="#aed1e7"/>
<rect x="1051.1" y="693.70" width="90.0" height="59.05" fill="#bed8ec" stroke="#bed8ec"/>
<path d="M1051.1 693.70L1096.1 723.22L1051.1 752.75Z" fill="#8abfdd" stroke="#8abfdd"/>
<path d="M1141.1 693.70L1096.1 723.22L1141.1 752.75Z" fill="#9dcae1" stroke="#9dcae1"/>
<path d="M1051.1 752.75L1096.1 723.22L1141.1 752.75Z" fill="#8abfdd" stroke="#8abfdd"/>
<rect x="1141.1" y="693.70" width="90.0" height="59.05" fill="#75b4d8" stroke="#75b4d8"/>
<rect x="1231.1" y="693.70" width="90.0" height="59.05" fill="#8abfdd" stroke="#8abfdd"/>
<path d="M1231.1 752.75L1276.1 723.22L1321.1 752.75Z" fill="#aed1e7" stroke="#aed1e7"/>
<rect x="1321.1" y="693.70" width="90.0" height="59.05" fill="#aed1e7" stroke="#aed1e7"/>
<rect x="1411.1" y="693.70" width="90.0" height="59.05" fill="#9dcae1" stroke="#9dcae1"/>
<path d="M1411.1 693.70L1456.1 723.22L1411.1 752.75Z" fill="#aed1e7" stroke="#aed1e7"/>
<path d="M1501.1 693.70L1456.1 723.22L1501.1 752.75Z" fill="#d5e5f4" stroke="#d5e5f4"/>
<path d="M1411.1 752.75L1456.1 723.22L1501.1 752.75Z" fill="#cbdef1" stroke="#cbdef1"/>
<rect x="1501.1" y="693.70" width="90.0" height="59.05" fill="#cbdef1" stroke="#cbdef1"/>
<path d="M1591.1 693.70L1546.1 723.22L1591.1 752.75Z" fill="#9dcae1" stroke="#9dcae1"/>
<path d="M1501.1 752.75L1546.1 723.22L1591.1 752.75Z" fill="#9dcae1" stroke="#9dcae1"/>
<rect x="1591.1" y="693.70" width="90.0" height="59.05" fill="#bed8ec" stroke="#bed8ec"/>
<path d="M1681.1 693.70L1636.1 723.22L1681.1 752.75Z" fill="#9dcae1" stroke="#9dcae1"/>
<path d="M1591.1 752.75L1636.1 723.22L1681.1 752.75Z" fill="#aed1e7" stroke="#aed1e7"/>
<rect x="1681.1" y="693.70" width="90.0" height="59.05" fill="#aed1e7" stroke="#aed1e7"/>
<path d="M1681.1 693.70L1726.1 723.22L1681.1 752.75Z" fill="#8abfdd" stroke="#8abfdd"/>
<path d="M1771.1 693.70L1726.1 723.22L1771.1 752.75Z" fill="#8abfdd" stroke="#8abfdd"/>
<path d="M1681.1 752.75L1726.1 723.22L1771.1 752.75Z" fill="#8abfdd" stroke="#8abfdd"/>
<rect x="1771.1" y="693.70" width="90.0" height="59.05" fill="#bed8ec" stroke="#bed8ec"/>
<path d="M1771.1 693.70L1816.1 723.22L1771.1 752.75Z" fill="#9dcae1" stroke="#9dcae1"/>
<path d="M1861.1 693.70L1816.1 723.22L1861.1 752.75Z" fill="#9dcae1" stroke="#9dcae1"/>
<rect x="331.1" y="752.75" width="90.0" height="59.05" fill="#cbdef1" stroke="#cbdef1"/>
<path d="M331.1 752.75L376.1 782.27L331.1 811.80Z" fill="#d5e5f4" stroke="#d5e5f4"/>
<path d="M421.1 752.75L376.1 782.27L421.1 811.80Z" fill="#deebf7" stroke="#deebf7"/>
<path d="M331.1 811.80L376.1 782.27L421.1 811.80Z" fill="#bed8ec" stroke="#bed8ec"/>
<rect x="421.1" y="752.75" width="90.0" height="59.05" fill="#ffffff" stroke="#ffffff"/>
<path d="M511.1 752.75L466.1 782.27L511.1 811.80Z" fill="#e8f1fa" stroke="#e8f1fa"/>
<path d="M421.1 811.80L466.1 782.27L511.1 811.80Z" fill="#cbdef1" stroke="#cbdef1"/>
<rect x="511.1" y="752.75" width="90.0" height="59.05" fill="#ffffff" stroke="#ffffff"/>
<path d="M601.1 752.75L556.1 782.27L601.1 811.80Z" fill="#e8f1fa" stroke="#e8f1fa"/>
<path d="M511.1 811.80L556.1 782.27L601.1 811.80Z" fill="#cbdef1" stroke="#cbdef1"/>
<rect x="601.1" y="752.75" width="90.0" height="59.05" fill="#ffffff" stroke="#ffffff"/>
<path d="M691.1 752.75L646.1 782.27L691.1 811.80Z" fill="#e8f1fa" stroke="#e8f1fa"/>
<path d="M601.1 811.80L646.1 782.27L691.1 811.80Z" fill="#cbdef1" stroke="#cbdef1"/>
<rect x="691.1" y="752.75" width="90.0" height="59.05" fill="#ffffff" stroke="#ffffff"/>
<path d="M691.1 811.80L736.1 782.27L781.1 811.80Z" fill="#cbdef1" stroke="#cbdef1"/>
<rect x="781.1" y="752.75" width="90.0" height="59.05" fill="#e8f1fa" stroke="#e8f1fa"/>
<path d="M781.1 811.80L826.1 782.27L871.1 811.80Z" fill="#bed8ec" stroke="#bed8ec"/>
<rect x="871.1" y="752.75" width="90.0" height="59.05" fill="#e8f1fa" stroke="#e8f1fa"/>
<path d="M961.1 752.75L916.1 782.27L961.1 811.80Z" fill="#deebf7" stroke="#deebf7"/>
<path d="M871.1 811.80L916.1 782.27L961.1 811.80Z" fill="#aed1e7" stroke="#aed1e7"/>
<rect x="961.1" y="752.75" width="90.0" height="59.05" fill="#e8f1fa" stroke="#e8f1fa"/>
<path d="M1051.1 752.75L1006.1 782.27L1051.1 811.80Z" fill="#deebf7" stroke="#deebf7"/>
<path d="M961.1 811.80L1006.1 782.27L1051.1 811.80Z" fill="#aed1e7" stroke="#aed1e7"/>
<rect x="1051.1" y="752.75" width="90.0" height="59.05" fill="#deebf7" stroke="#deebf7"/>
<path d="M1051.1 811.80L1096.1 782.27L1141.1 811.80Z" fill="#aed1e7" stroke="#aed1e7"/>
<rect x="1141.1" y="752.75" width="90.0" height="59.05" fill="#9dcae1" stroke="#9dcae1"/>
<path d="M1141.1 752.75L1186.1 782.27L1141.1 811.80Z" fill="#aed1e7" stroke="#aed1e7"/>
<path d="M1231.1 752.75L1186.1 782.27L1231.1 811.80Z" fill="#aed1e7" stroke="#aed1e7"/>
<path d="M1141.1 811.80L1186.1 782.27L1231.1 811.80Z" fill="#75b4d8" stroke="#75b4d8"/>
<rect x="1231.1" y="752.75" width="90.0" height="59.05" fill="#d5e5f4" stroke="#d5e5f4"/>
<path d="M1231.1 752.75L1276.1 782.27L1231.1 811.80Z" fill="#deebf7" stroke="#deebf7"/>
<path d="M1231.1 811.80L1276.1 782.27L1321.1 811.80Z" fill="#aed1e7" stroke="#aed1e7"/>
<rect x="1321.1" y="752.75" width="90.0" height="59.05" fill="#deebf7" stroke="#deebf7"/>
<path d="M1321.1 752.75L1366.1 782.27L1321.1 811.80Z" fill="#e8f1fa" stroke="#e8f1fa"/>
<path d="M1321.1 811.80L1366.1 782.27L1411.1 811.80Z" fill="#bed8ec" stroke="#bed8ec"/>
<rect x="1411.1" y="752.75" width="90.0" height="59.05" fill="#deebf7" stroke="#deebf7"/>
<path d="M1411.1 811.80L1456.1 782.27L1501.1 811.80Z" fill="#bed8ec" stroke="#bed8ec"/>
<rect x="1501.1" y="752.75" width="90.0" height="59.05" fill="#e8f1fa" stroke="#e8f1fa"/>
<path d="M1501.1 752.75L1546.1 782.27L1501.1 811.80Z" fill="#deebf7" stroke="#deebf7"/>
<path d="M1591.1 752.75L1546.1 782.27L1591.1 811.80Z" fill="#deebf7" stroke="#deebf7"/>
<path d="M1501.1 811.80L1546.1 782.27L1591.1 811.80Z" fill="#aed1e7" stroke="#aed1e7"/>
<rect x="1591.1" y="752.75" width="90.0" height="59.05" fill="#e8f1fa" stroke="#e8f1fa"/>
<path d="M1681.1 752.75L1636.1 782.27L1681.1 811.80Z" fill="#deebf7" stroke="#deebf7"/>
<path d="M1591.1 811.80L1636.1 782.27L1681.1 811.80Z" fill="#aed1e7" stroke="#aed1e7"/>
<rect x="1681.1" y="752.75" width="90.0" height="59.05" fill="#e8f1fa" stroke="#e8f1fa"/>
<path d="M1681.1 752.75L1726.1 782.27L1681.1 811.80Z" fill="#deebf7" stroke="#deebf7"/>
<path d="M1681.1 811.80L1726.1 782.27L1771.1 811.80Z" fill="#bed8ec" stroke="#bed8ec"/>
<rect x="1771.1" y="752.75" width="90.0" height="59.05" fill="#d5e5f4" stroke="#d5e5f4"/>
<path d="M1861.1 752.75L1816.1 782.27L1861.1 811.80Z" fill="#cbdef1" stroke="#cbdef1"/>
<path d="M1771.1 811.80L1816.1 782.27L1861.1 811.80Z" fill="#9dcae1" stroke="#9dcae1"/>
<rect x="331.1" y="811.80" width="90.0" height="59.05" fill="#fee0d2" stroke="#fee0d2"/>
<path d="M421.1 811.80L376.1 841.32L421.1 870.85Z" fill="#fdd2bf" stroke="#fdd2bf"/>
<path d="M331.1 870.85L376.1 841.32L421.1 870.85Z" fill="#fdd2bf" stroke="#fdd2bf"/>
<rect x="421.1" y="811.80" width="90.0" height="59.05" fill="#fee0d2" stroke="#fee0d2"/>
<rect x="511.1" y="811.80" width="90.0" height="59.05" fill="#fee0d2" stroke="#fee0d2"/>
<path d="M511.1 870.85L556.1 841.32L601.1 870.85Z" fill="#fdd2bf" stroke="#fdd2bf"/>
<rect x="601.1" y="811.80" width="90.0" height="59.05" fill="#c3161b" stroke="#c3161b"/>
<path d="M691.1 811.80L646.1 841.32L691.1 870.85Z" fill="#d21f20" stroke="#d21f20"/>
<path d="M601.1 870.85L646.1 841.32L691.1 870.85Z" fill="#d21f20" stroke="#d21f20"/>
<rect x="691.1" y="811.80" width="90.0" height="59.05" fill="#c3161b" stroke="#c3161b"/>
<path d="M691.1 870.85L736.1 841.32L781.1 870.85Z" fill="#d21f20" stroke="#d21f20"/>
<rect x="781.1" y="811.80" width="90.0" height="59.05" fill="#fcb398" stroke="#fcb398"/>
<rect x="871.1" y="811.80" width="90.0" height="59.05" fill="#63a8d3" stroke="#63a8d3"/>
<path d="M961.1 811.80L916.1 841.32L961.1 870.85Z" fill="#529dcc" stroke="#529dcc"/>
<path d="M871.1 870.85L916.1 841.32L961.1 870.85Z" fill="#529dcc" stroke="#529dcc"/>
<rect x="961.1" y="811.80" width="90.0" height="59.05" fill="#deebf7" stroke="#deebf7"/>
<rect x="1051.1" y="811.80" width="90.0" height="59.05" fill="#cbdef1" stroke="#cbdef1"/>
<rect x="1141.1" y="811.80" width="90.0" height="59.05" fill="#e8f1fa" stroke="#e8f1fa"/>
<rect x="1231.1" y="811.80" width="90.0" height="59.05" fill="#aed1e7" stroke="#aed1e7"/>
<rect x="1321.1" y="811.80" width="90.0" height="59.05" fill="#cbdef1" stroke="#cbdef1"/>
<rect x="1411.1" y="811.80" width="90.0" height="59.05" fill="#fee0d2" stroke="#fee0d2"/>
<path d="M1501.1 811.80L1456.1 841.32L1501.1 870.85Z" fill="#fdd2bf" stroke="#fdd2bf"/>
<path d="M1411.1 870.85L1456.1 841.32L1501.1 870.85Z" fill="#fdd2bf" stroke="#fdd2bf"/>
<rect x="1501.1" y="811.80" width="90.0" height="59.05" fill="#cbdef1" stroke="#cbdef1"/>
<path d="M1501.1 811.80L1546.1 841.32L1501.1 870.85Z" fill="#bed8ec" stroke="#bed8ec"/>
<path d="M1591.1 811.80L1546.1 841.32L1591.1 870.85Z" fill="#bed8ec" stroke="#bed8ec"/>
<path d="M1501.1 870.85L1546.1 841.32L1591.1 870.85Z" fill="#bed8ec" stroke="#bed8ec"/>
<rect x="1591.1" y="811.80" width="90.0" height="59.05" fill="#cbdef1" stroke="#cbdef1"/>
<path d="M1591.1 870.85L1636.1 841.32L1681.1 870.85Z" fill="#bed8ec" stroke="#bed8ec"/>
<rect x="1681.1" y="811.80" width="90.0" height="59.05" fill="#cbdef1" stroke="#cbdef1"/>
<rect x="1771.1" y="811.80" width="90.0" height="59.05" fill="#cbdef1" stroke="#cbdef1"/>
<path d="M1771.1 811.80L1816.1 841.32L1771.1 870.85Z" fill="#bed8ec" stroke="#bed8ec"/>
<path d="M1861.1 811.80L1816.1 841.32L1861.1 870.85Z" fill="#bed8ec" stroke="#bed8ec"/>
<path d="M1771.1 870.85L1816.1 841.32L1861.1 870.85Z" fill="#bed8ec" stroke="#bed8ec"/>
<rect x="331.1" y="870.85" width="90.0" height="59.05" fill="#bed8ec" stroke="#bed8ec"/>
<path d="M421.1 870.85L376.1 900.37L421.1 929.90Z" fill="#aed1e7" stroke="#aed1e7"/>
<path d="M331.1 929.90L376.1 900.37L421.1 929.90Z" fill="#aed1e7" stroke="#aed1e7"/>
<rect x="421.1" y="870.85" width="90.0" height="59.05" fill="#bed8ec" stroke="#bed8ec"/>
<path d="M421.1 870.85L466.1 900.37L421.1 929.90Z" fill="#cbdef1" stroke="#cbdef1"/>
<rect x="511.1" y="870.85" width="90.0" height="59.05" fill="#bed8ec" stroke="#bed8ec"/>
<rect x="601.1" y="870.85" width="90.0" height="59.05" fill="#9dcae1" stroke="#9dcae1"/>
<path d="M601.1 929.90L646.1 900.37L691.1 929.90Z" fill="#8abfdd" stroke="#8abfdd"/>
<rect x="691.1" y="870.85" width="90.0" height="59.05" fill="#9dcae1" stroke="#9dcae1"/>
<path d="M691.1 929.90L736.1 900.37L781.1 929.90Z" fill="#8abfdd" stroke="#8abfdd"/>
<rect x="781.1" y="870.85" width="90.0" height="59.05" fill="#e8f1fa" stroke="#e8f1fa"/>
<path d="M871.1 870.85L826.1 900.37L871.1 929.90Z" fill="#fee8de" stroke="#fee8de"/>
<path d="M781.1 929.90L826.1 900.37L871.1 929.90Z" fill="#ffffff" stroke="#ffffff"/>
<rect x="871.1" y="870.85" width="90.0" height="59.05" fill="#deebf7" stroke="#deebf7"/>
<path d="M871.1 870.85L916.1 900.37L871.1 929.90Z" fill="#e8f1fa" stroke="#e8f1fa"/>
<rect x="961.1" y="870.85" width="90.0" height="59.05" fill="#d5e5f4" stroke="#d5e5f4"/>
<path d="M961.1 870.85L1006.1 900.37L961.1 929.90Z" fill="#deebf7" stroke="#deebf7"/>
<rect x="1051.1" y="870.85" width="90.0" height="59.05" fill="#e8f1fa" stroke="#e8f1fa"/>
<path d="M1051.1 929.90L1096.1 900.37L1141.1 929.90Z" fill="#deebf7" stroke="#deebf7"/>
<rect x="1141.1" y="870.85" width="90.0" height="59.05" fill="#deebf7" stroke="#deebf7"/>
<path d="M1231.1 870.85L1186.1 900.37L1231.1 929.90Z" fill="#e8f1fa" stroke="#e8f1fa"/>
<rect x="1231.1" y="870.85" width="90.0" height="59.05" fill="#9dcae1" stroke="#9dcae1"/>
<rect x="1321.1" y="870.85" width="90.0" height="59.05" fill="#e8f1fa" stroke="#e8f1fa"/>
<path d="M1321.1 929.90L1366.1 900.37L1411.1 929.90Z" fill="#deebf7" stroke="#deebf7"/>
<rect x="1411.1" y="870.85" width="90.0" height="59.05" fill="#e8f1fa" stroke="#e8f1fa"/>
<path d="M1411.1 870.85L1456.1 900.37L1411.1 929.90Z" fill="#ffffff" stroke="#ffffff"/>
<path d="M1501.1 870.85L1456.1 900.37L1501.1 929.90Z" fill="#deebf7" stroke="#deebf7"/>
<path d="M1411.1 929.90L1456.1 900.37L1501.1 929.90Z" fill="#deebf7" stroke="#deebf7"/>
<rect x="1501.1" y="870.85" width="90.0" height="59.05" fill="#9dcae1" stroke="#9dcae1"/>
<rect x="1591.1" y="870.85" width="90.0" height="59.05" fill="#9dcae1" stroke="#9dcae1"/>
<path d="M1681.1 870.85L1636.1 900.37L1681.1 929.90Z" fill="#aed1e7" stroke="#aed1e7"/>
<rect x="1681.1" y="870.85" width="90.0" height="59.05" fill="#bed8ec" stroke="#bed8ec"/>
<rect x="1771.1" y="870.85" width="90.0" height="59.05" fill="#3585bf" stroke="#3585bf"/>
<rect x="331.1" y="929.90" width="90.0" height="59.05" fill="#d5e5f4" stroke="#d5e5f4"/>
<path d="M331.1 929.90L376.1 959.42L331.1 988.95Z" fill="#cbdef1" stroke="#cbdef1"/>
<path d="M421.1 929.90L376.1 959.42L421.1 988.95Z" fill="#deebf7" stroke="#deebf7"/>
<path d="M331.1 988.95L376.1 959.42L421.1 988.95Z" fill="#e8f1fa" stroke="#e8f1fa"/>
<rect x="421.1" y="929.90" width="90.0" height="59.05" fill="#d5e5f4" stroke="#d5e5f4"/>
<path d="M511.1 929.90L466.1 959.42L511.1 988.95Z" fill="#deebf7" stroke="#deebf7"/>
<path d="M421.1 988.95L466.1 959.42L511.1 988.95Z" fill="#ffffff" stroke="#ffffff"/>
<rect x="511.1" y="929.90" width="90.0" height="59.05" fill="#d5e5f4" stroke="#d5e5f4"/>
<path d="M601.1 929.90L556.1 959.42L601.1 988.95Z" fill="#deebf7" stroke="#deebf7"/>
<path d="M511.1 988.95L556.1 959.42L601.1 988.95Z" fill="#e8f1fa" stroke="#e8f1fa"/>
<rect x="601.1" y="929.90" width="90.0" height="59.05" fill="#fc8262" stroke="#fc8262"/>
<path d="M601.1 929.90L646.1 959.42L601.1 988.95Z" fill="#fc9272" stroke="#fc9272"/>
<path d="M691.1 929.90L646.1 959.42L691.1 988.95Z" fill="#fc9272" stroke="#fc9272"/>
<rect x="691.1" y="929.90" width="90.0" height="59.05" fill="#fc8262" stroke="#fc8262"/>
<path d="M691.1 929.90L736.1 959.42L691.1 988.95Z" fill="#fc9272" stroke="#fc9272"/>
<path d="M781.1 929.90L736.1 959.42L781.1 988.95Z" fill="#fc9272" stroke="#fc9272"/>
<rect x="781.1" y="929.90" width="90.0" height="59.05" fill="#fdd2bf" stroke="#fdd2bf"/>
<path d="M781.1 929.90L826.1 959.42L781.1 988.95Z" fill="#fee0d2" stroke="#fee0d2"/>
<path d="M871.1 929.90L826.1 959.42L871.1 988.95Z" fill="#fcc3ab" stroke="#fcc3ab"/>
<path d="M781.1 988.95L826.1 959.42L871.1 988.95Z" fill="#fcb398" stroke="#fcb398"/>
<rect x="871.1" y="929.90" width="90.0" height="59.05" fill="#cbdef1" stroke="#cbdef1"/>
<path d="M871.1 929.90L916.1 959.42L871.1 988.95Z" fill="#e8f1fa" stroke="#e8f1fa"/>
<path d="M961.1 929.90L916.1 959.42L961.1 988.95Z" fill="#d5e5f4" stroke="#d5e5f4"/>
<path d="M871.1 988.95L916.1 959.42L961.1 988.95Z" fill="#e8f1fa" stroke="#e8f1fa"/>
<rect x="961.1" y="929.90" width="90.0" height="59.05" fill="#cbdef1" stroke="#cbdef1"/>
<path d="M961.1 929.90L1006.1 959.42L961.1 988.95Z" fill="#deebf7" stroke="#deebf7"/>
<path d="M1051.1 929.90L1006.1 959.42L1051.1 988.95Z" fill="#d5e5f4" stroke="#d5e5f4"/>
<path d="M961.1 988.95L1006.1 959.42L1051.1 988.95Z" fill="#e8f1fa" stroke="#e8f1fa"/>
<rect x="1051.1" y="929.90" width="90.0" height="59.05" fill="#75b4d8" stroke="#75b4d8"/>
<path d="M1051.1 929.90L1096.1 959.42L1051.1 988.95Z" fill="#63a8d3" stroke="#63a8d3"/>
<path d="M1141.1 929.90L1096.1 959.42L1141.1 988.95Z" fill="#8abfdd" stroke="#8abfdd"/>
<path d="M1051.1 988.95L1096.1 959.42L1141.1 988.95Z" fill="#8abfdd" stroke="#8abfdd"/>
<rect x="1141.1" y="929.90" width="90.0" height="59.05" fill="#ffffff" stroke="#ffffff"/>
<path d="M1141.1 929.90L1186.1 959.42L1141.1 988.95Z" fill="#e8f1fa" stroke="#e8f1fa"/>
<path d="M1141.1 988.95L1186.1 959.42L1231.1 988.95Z" fill="#fee8de" stroke="#fee8de"/>
<rect x="1231.1" y="929.90" width="90.0" height="59.05" fill="#2777b8" stroke="#2777b8"/>
<path d="M1231.1 929.90L1276.1 959.42L1231.1 988.95Z" fill="#1c6ab0" stroke="#1c6ab0"/>
<path d="M1321.1 929.90L1276.1 959.42L1321.1 988.95Z" fill="#4191c6" stroke="#4191c6"/>
<path d="M1231.1 988.95L1276.1 959.42L1321.1 988.95Z" fill="#4191c6" stroke="#4191c6"/>
<rect x="1321.1" y="929.90" width="90.0" height="59.05" fill="#bed8ec" stroke="#bed8ec"/>
<path d="M1321.1 929.90L1366.1 959.42L1321.1 988.95Z" fill="#aed1e7" stroke="#aed1e7"/>
<path d="M1411.1 929.90L1366.1 959.42L1411.1 988.95Z" fill="#cbdef1" stroke="#cbdef1"/>
<path d="M1321.1 988.95L1366.1 959.42L1411.1 988.95Z" fill="#cbdef1" stroke="#cbdef1"/>
<rect x="1411.1" y="929.90" width="90.0" height="59.05" fill="#fee8de" stroke="#fee8de"/>
<path d="M1411.1 929.90L1456.1 959.42L1411.1 988.95Z" fill="#fee0d2" stroke="#fee0d2"/>
<path d="M1501.1 929.90L1456.1 959.42L1501.1 988.95Z" fill="#fee0d2" stroke="#fee0d2"/>
<path d="M1411.1 988.95L1456.1 959.42L1501.1 988.95Z" fill="#fcc3ab" stroke="#fcc3ab"/>
<rect x="1501.1" y="929.90" width="90.0" height="59.05" fill="#63a8d3" stroke="#63a8d3"/>
<path d="M1501.1 929.90L1546.1 959.42L1501.1 988.95Z" fill="#529dcc" stroke="#529dcc"/>
<path d="M1591.1 929.90L1546.1 959.42L1591.1 988.95Z" fill="#75b4d8" stroke="#75b4d8"/>
<path d="M1501.1 988.95L1546.1 959.42L1591.1 988.95Z" fill="#75b4d8" stroke="#75b4d8"/>
<rect x="1591.1" y="929.90" width="90.0" height="59.05" fill="#63a8d3" stroke="#63a8d3"/>
<path d="M1681.1 929.90L1636.1 959.42L1681.1 988.95Z" fill="#75b4d8" stroke="#75b4d8"/>
<path d="M1591.1 988.95L1636.1 959.42L1681.1 988.95Z" fill="#8abfdd" stroke="#8abfdd"/>
<rect x="1681.1" y="929.90" width="90.0" height="59.05" fill="#63a8d3" stroke="#63a8d3"/>
<path d="M1771.1 929.90L1726.1 959.42L1771.1 988.95Z" fill="#75b4d8" stroke="#75b4d8"/>
<path d="M1681.1 988.95L1726.1 959.42L1771.1 988.95Z" fill="#8abfdd" stroke="#8abfdd"/>
<rect x="1771.1" y="929.90" width="90.0" height="59.05" fill="#2777b8" stroke="#2777b8"/>
<path d="M1861.1 929.90L1816.1 959.42L1861.1 988.95Z" fill="#3585bf" stroke="#3585bf"/>
<path d="M1771.1 988.95L1816.1 959.42L1861.1 988.95Z" fill="#3585bf" stroke="#3585bf"/>
<rect x="331.1" y="988.95" width="90.0" height="59.05" fill="#fee8de" stroke="#fee8de"/>
<path d="M331.1 988.95L376.1 1018.47L331.1 1048.00Z" fill="#fdd2bf" stroke="#fdd2bf"/>
<path d="M331.1 1048.00L376.1 1018.47L421.1 1048.00Z" fill="#fee0d2" stroke="#fee0d2"/>
<rect x="421.1" y="988.95" width="90.0" height="59.05" fill="#fcb398" stroke="#fcb398"/>
<path d="M421.1 988.95L466.1 1018.47L421.1 1048.00Z" fill="#fc9272" stroke="#fc9272"/>
<path d="M511.1 988.95L466.1 1018.47L511.1 1048.00Z" fill="#fee0d2" stroke="#fee0d2"/>
<path d="M421.1 1048.00L466.1 1018.47L511.1 1048.00Z" fill="#ffffff" stroke="#ffffff"/>
<rect x="511.1" y="988.95" width="90.0" height="59.05" fill="#fcb398" stroke="#fcb398"/>
<path d="M511.1 988.95L556.1 1018.47L511.1 1048.00Z" fill="#fc9272" stroke="#fc9272"/>
<path d="M601.1 988.95L556.1 1018.47L601.1 1048.00Z" fill="#fee0d2" stroke="#fee0d2"/>
<path d="M511.1 1048.00L556.1 1018.47L601.1 1048.00Z" fill="#ffffff" stroke="#ffffff"/>
<rect x="601.1" y="988.95" width="90.0" height="59.05" fill="#f44d38" stroke="#f44d38"/>
<path d="M691.1 988.95L646.1 1018.47L691.1 1048.00Z" fill="#f96044" stroke="#f96044"/>
<path d="M601.1 1048.00L646.1 1018.47L691.1 1048.00Z" fill="#fb7252" stroke="#fb7252"/>
<rect x="691.1" y="988.95" width="90.0" height="59.05" fill="#f44d38" stroke="#f44d38"/>
<path d="M691.1 988.95L736.1 1018.47L691.1 1048.00Z" fill="#ee3a2c" stroke="#ee3a2c"/>
<path d="M781.1 988.95L736.1 1018.47L781.1 1048.00Z" fill="#f96044" stroke="#f96044"/>
<path d="M691.1 1048.00L736.1 1018.47L781.1 1048.00Z" fill="#fb7252" stroke="#fb7252"/>
<rect x="781.1" y="988.95" width="90.0" height="59.05" fill="#ffffff" stroke="#ffffff"/>
<path d="M781.1 988.95L826.1 1018.47L781.1 1048.00Z" fill="#fee8de" stroke="#fee8de"/>
<path d="M781.1 1048.00L826.1 1018.47L871.1 1048.00Z" fill="#fcb398" stroke="#fcb398"/>
<rect x="871.1" y="988.95" width="90.0" height="59.05" fill="#ffffff" stroke="#ffffff"/>
<path d="M871.1 988.95L916.1 1018.47L871.1 1048.00Z" fill="#fee8de" stroke="#fee8de"/>
<path d="M871.1 1048.00L916.1 1018.47L961.1 1048.00Z" fill="#fdd2bf" stroke="#fdd2bf"/>
<rect x="961.1" y="988.95" width="90.0" height="59.05" fill="#fee8de" stroke="#fee8de"/>
<path d="M961.1 988.95L1006.1 1018.47L961.1 1048.00Z" fill="#fdd2bf" stroke="#fdd2bf"/>
<path d="M1051.1 988.95L1006.1 1018.47L1051.1 1048.00Z" fill="#ffffff" stroke="#ffffff"/>
<path d="M961.1 1048.00L1006.1 1018.47L1051.1 1048.00Z" fill="#fcc3ab" stroke="#fcc3ab"/>
<rect x="1051.1" y="988.95" width="90.0" height="59.05" fill="#e8f1fa" stroke="#e8f1fa"/>
<path d="M1051.1 988.95L1096.1 1018.47L1051.1 1048.00Z" fill="#deebf7" stroke="#deebf7"/>
<path d="M1141.1 988.95L1096.1 1018.47L1141.1 1048.00Z" fill="#d5e5f4" stroke="#d5e5f4"/>
<path d="M1051.1 1048.00L1096.1 1018.47L1141.1 1048.00Z" fill="#d5e5f4" stroke="#d5e5f4"/>
<rect x="1141.1" y="988.95" width="90.0" height="59.05" fill="#fcb398" stroke="#fcb398"/>
<path d="M1141.1 988.95L1186.1 1018.47L1141.1 1048.00Z" fill="#fee0d2" stroke="#fee0d2"/>
<path d="M1231.1 988.95L1186.1 1018.47L1231.1 1048.00Z" fill="#e8f1fa" stroke="#e8f1fa"/>
<path d="M1141.1 1048.00L1186.1 1018.47L1231.1 1048.00Z" fill="#fcc3ab" stroke="#fcc3ab"/>
<rect x="1231.1" y="988.95" width="90.0" height="59.05" fill="#fee8de" stroke="#fee8de"/>
<path d="M1231.1 988.95L1276.1 1018.47L1231.1 1048.00Z" fill="#fee0d2" stroke="#fee0d2"/>
<path d="M1321.1 988.95L1276.1 1018.47L1321.1 1048.00Z" fill="#ffffff" stroke="#ffffff"/>
<path d="M1231.1 1048.00L1276.1 1018.47L1321.1 1048.00Z" fill="#fee0d2" stroke="#fee0d2"/>
<rect x="1321.1" y="988.95" width="90.0" height="59.05" fill="#ffffff" stroke="#ffffff"/>
<path d="M1321.1 988.95L1366.1 1018.47L1321.1 1048.00Z" fill="#fee8de" stroke="#fee8de"/>
<path d="M1411.1 988.95L1366.1 1018.47L1411.1 1048.00Z" fill="#e8f1fa" stroke="#e8f1fa"/>
<path d="M1321.1 1048.00L1366.1 1018.47L1411.1 1048.00Z" fill="#fee8de" stroke="#fee8de"/>
<rect x="1411.1" y="988.95" width="90.0" height="59.05" fill="#fdd2bf" stroke="#fdd2bf"/>
<path d="M1411.1 988.95L1456.1 1018.47L1411.1 1048.00Z" fill="#fcb398" stroke="#fcb398"/>
<path d="M1501.1 988.95L1456.1 1018.47L1501.1 1048.00Z" fill="#fee0d2" stroke="#fee0d2"/>
<rect x="1501.1" y="988.95" width="90.0" height="59.05" fill="#fc9272" stroke="#fc9272"/>
<path d="M1501.1 988.95L1546.1 1018.47L1501.1 1048.00Z" fill="#fc8262" stroke="#fc8262"/>
<path d="M1591.1 988.95L1546.1 1018.47L1591.1 1048.00Z" fill="#fcb398" stroke="#fcb398"/>
<path d="M1501.1 1048.00L1546.1 1018.47L1591.1 1048.00Z" fill="#fcc3ab" stroke="#fcc3ab"/>
<rect x="1591.1" y="988.95" width="90.0" height="59.05" fill="#fb7252" stroke="#fb7252"/>
<path d="M1591.1 988.95L1636.1 1018.47L1591.1 1048.00Z" fill="#fc8262" stroke="#fc8262"/>
<path d="M1681.1 988.95L1636.1 1018.47L1681.1 1048.00Z" fill="#fc9272" stroke="#fc9272"/>
<path d="M1591.1 1048.00L1636.1 1018.47L1681.1 1048.00Z" fill="#fcb398" stroke="#fcb398"/>
<rect x="1681.1" y="988.95" width="90.0" height="59.05" fill="#fee8de" stroke="#fee8de"/>
<path d="M1681.1 988.95L1726.1 1018.47L1681.1 1048.00Z" fill="#fdd2bf" stroke="#fdd2bf"/>
<path d="M1681.1 1048.00L1726.1 1018.47L1771.1 1048.00Z" fill="#fdd2bf" stroke="#fdd2bf"/>
<rect x="1771.1" y="988.95" width="90.0" height="59.05" fill="#fee0d2" stroke="#fee0d2"/>
<path d="M1771.1 988.95L1816.1 1018.47L1771.1 1048.00Z" fill="#fee8de" stroke="#fee8de"/>
<path d="M1861.1 988.95L1816.1 1018.47L1861.1 1048.00Z" fill="#fee8de" stroke="#fee8de"/>
<path d="M1771.1 1048.00L1816.1 1018.47L1861.1 1048.00Z" fill="#deebf7" stroke="#deebf7"/>
<rect x="331.1" y="1048.00" width="90.0" height="59.05" fill="#d9f0d3" stroke="#d9f0d3"/>
<path d="M331.1 1107.05L376.1 1077.53L421.1 1107.05Z" fill="#a6db9d" stroke="#a6db9d"/>
<rect x="421.1" y="1048.00" width="90.0" height="59.05" fill="#d9f0d3" stroke="#d9f0d3"/>
<path d="M511.1 1048.00L466.1 1077.53L511.1 1107.05Z" fill="#bfe5b6" stroke="#bfe5b6"/>
<path d="M421.1 1107.05L466.1 1077.53L511.1 1107.05Z" fill="#a6db9d" stroke="#a6db9d"/>
<rect x="511.1" y="1048.00" width="90.0" height="59.05" fill="#d9f0d3" stroke="#d9f0d3"/>
<path d="M601.1 1048.00L556.1 1077.53L601.1 1107.05Z" fill="#bfe5b6" stroke="#bfe5b6"/>
<path d="M511.1 1107.05L556.1 1077.53L601.1 1107.05Z" fill="#a6db9d" stroke="#a6db9d"/>
<rect x="601.1" y="1048.00" width="90.0" height="59.05" fill="#d9f0d3" stroke="#d9f0d3"/>
<path d="M601.1 1107.05L646.1 1077.53L691.1 1107.05Z" fill="#bfe5b6" stroke="#bfe5b6"/>
<rect x="691.1" y="1048.00" width="90.0" height="59.05" fill="#d9f0d3" stroke="#d9f0d3"/>
<path d="M691.1 1107.05L736.1 1077.53L781.1 1107.05Z" fill="#bfe5b6" stroke="#bfe5b6"/>
<rect x="781.1" y="1048.00" width="90.0" height="59.05" fill="#bfe5b6" stroke="#bfe5b6"/>
<path d="M871.1 1048.00L826.1 1077.53L871.1 1107.05Z" fill="#a6db9d" stroke="#a6db9d"/>
<path d="M781.1 1107.05L826.1 1077.53L871.1 1107.05Z" fill="#60c058" stroke="#60c058"/>
<rect x="871.1" y="1048.00" width="90.0" height="59.05" fill="#d9f0d3" stroke="#d9f0d3"/>
<path d="M961.1 1048.00L916.1 1077.53L961.1 1107.05Z" fill="#bfe5b6" stroke="#bfe5b6"/>
<path d="M871.1 1107.05L916.1 1077.53L961.1 1107.05Z" fill="#74c66b" stroke="#74c66b"/>
<rect x="961.1" y="1048.00" width="90.0" height="59.05" fill="#d9f0d3" stroke="#d9f0d3"/>
<path d="M961.1 1107.05L1006.1 1077.53L1051.1 1107.05Z" fill="#8dd07e" stroke="#8dd07e"/>
<rect x="1051.1" y="1048.00" width="90.0" height="59.05" fill="#bfe5b6" stroke="#bfe5b6"/>
<path d="M1051.1 1107.05L1096.1 1077.53L1141.1 1107.05Z" fill="#a6db9d" stroke="#a6db9d"/>
<rect x="1141.1" y="1048.00" width="90.0" height="59.05" fill="#30ac34" stroke="#30ac34"/>
<path d="M1231.1 1048.00L1186.1 1077.53L1231.1 1107.05Z" fill="#0a9619" stroke="#0a9619"/>
<path d="M1141.1 1107.05L1186.1 1077.53L1231.1 1107.05Z" fill="#0a9619" stroke="#0a9619"/>
<rect x="1231.1" y="1048.00" width="90.0" height="59.05" fill="#d9f0d3" stroke="#d9f0d3"/>
<path d="M1231.1 1048.00L1276.1 1077.53L1231.1 1107.05Z" fill="#bfe5b6" stroke="#bfe5b6"/>
<path d="M1321.1 1048.00L1276.1 1077.53L1321.1 1107.05Z" fill="#a6db9d" stroke="#a6db9d"/>
<path d="M1231.1 1107.05L1276.1 1077.53L1321.1 1107.05Z" fill="#46b446" stroke="#46b446"/>
<rect x="1321.1" y="1048.00" width="90.0" height="59.05" fill="#d9f0d3" stroke="#d9f0d3"/>
<path d="M1411.1 1048.00L1366.1 1077.53L1411.1 1107.05Z" fill="#bfe5b6" stroke="#bfe5b6"/>
<path d="M1321.1 1107.05L1366.1 1077.53L1411.1 1107.05Z" fill="#8dd07e" stroke="#8dd07e"/>
<rect x="1411.1" y="1048.00" width="90.0" height="59.05" fill="#a6db9d" stroke="#a6db9d"/>
<path d="M1411.1 1048.00L1456.1 1077.53L1411.1 1107.05Z" fill="#bfe5b6" stroke="#bfe5b6"/>
<path d="M1501.1 1048.00L1456.1 1077.53L1501.1 1107.05Z" fill="#8dd07e" stroke="#8dd07e"/>
<path d="M1411.1 1107.05L1456.1 1077.53L1501.1 1107.05Z" fill="#8dd07e" stroke="#8dd07e"/>
<rect x="1501.1" y="1048.00" width="90.0" height="59.05" fill="#d9f0d3" stroke="#d9f0d3"/>
<path d="M1591.1 1048.00L1546.1 1077.53L1591.1 1107.05Z" fill="#bfe5b6" stroke="#bfe5b6"/>
<path d="M1501.1 1107.05L1546.1 1077.53L1591.1 1107.05Z" fill="#bfe5b6" stroke="#bfe5b6"/>
<rect x="1591.1" y="1048.00" width="90.0" height="59.05" fill="#f0f8ee" stroke="#f0f8ee"/>
<path d="M1591.1 1048.00L1636.1 1077.53L1591.1 1107.05Z" fill="#d9f0d3" stroke="#d9f0d3"/>
<path d="M1681.1 1048.00L1636.1 1077.53L1681.1 1107.05Z" fill="#d9f0d3" stroke="#d9f0d3"/>
<path d="M1591.1 1107.05L1636.1 1077.53L1681.1 1107.05Z" fill="#bfe5b6" stroke="#bfe5b6"/>
<rect x="1681.1" y="1048.00" width="90.0" height="59.05" fill="#d9f0d3" stroke="#d9f0d3"/>
<path d="M1771.1 1048.00L1726.1 1077.53L1771.1 1107.05Z" fill="#bfe5b6" stroke="#bfe5b6"/>
<path d="M1681.1 1107.05L1726.1 1077.53L1771.1 1107.05Z" fill="#a6db9d" stroke="#a6db9d"/>
<rect x="1771.1" y="1048.00" width="90.0" height="59.05" fill="#bfe5b6" stroke="#bfe5b6"/>
<path d="M1771.1 1048.00L1816.1 1077.53L1771.1 1107.05Z" fill="#d9f0d3" stroke="#d9f0d3"/>
<path d="M1771.1 1107.05L1816.1 1077.53L1861.1 1107.05Z" fill="#a6db9d" stroke="#a6db9d"/>
<rect x="331.1" y="1107.05" width="90.0" height="59.05" fill="#bfe5b6" stroke="#bfe5b6"/>
<path d="M331.1 1107.05L376.1 1136.57L331.1 1166.10Z" fill="#a6db9d" stroke="#a6db9d"/>
<path d="M421.1 1107.05L376.1 1136.57L421.1 1166.10Z" fill="#74c66b" stroke="#74c66b"/>
<path d="M331.1 1166.10L376.1 1136.57L421.1 1166.10Z" fill="#30ac34" stroke="#30ac34"/>
<rect x="421.1" y="1107.05" width="90.0" height="59.05" fill="#a6db9d" stroke="#a6db9d"/>
<path d="M421.1 1107.05L466.1 1136.57L421.1 1166.10Z" fill="#74c66b" stroke="#74c66b"/>
<path d="M511.1 1107.05L466.1 1136.57L511.1 1166.10Z" fill="#74c66b" stroke="#74c66b"/>
<path d="M421.1 1166.10L466.1 1136.57L511.1 1166.10Z" fill="#46b446" stroke="#46b446"/>
<rect x="511.1" y="1107.05" width="90.0" height="59.05" fill="#a6db9d" stroke="#a6db9d"/>
<path d="M511.1 1107.05L556.1 1136.57L511.1 1166.10Z" fill="#8dd07e" stroke="#8dd07e"/>
<path d="M601.1 1107.05L556.1 1136.57L601.1 1166.10Z" fill="#74c66b" stroke="#74c66b"/>
<path d="M511.1 1166.10L556.1 1136.57L601.1 1166.10Z" fill="#46b446" stroke="#46b446"/>
<rect x="601.1" y="1107.05" width="90.0" height="59.05" fill="#a6db9d" stroke="#a6db9d"/>
<path d="M601.1 1107.05L646.1 1136.57L601.1 1166.10Z" fill="#74c66b" stroke="#74c66b"/>
<path d="M601.1 1166.10L646.1 1136.57L691.1 1166.10Z" fill="#30ac34" stroke="#30ac34"/>
<rect x="691.1" y="1107.05" width="90.0" height="59.05" fill="#a6db9d" stroke="#a6db9d"/>
<path d="M691.1 1107.05L736.1 1136.57L691.1 1166.10Z" fill="#74c66b" stroke="#74c66b"/>
<path d="M691.1 1166.10L736.1 1136.57L781.1 1166.10Z" fill="#46b446" stroke="#46b446"/>
<rect x="781.1" y="1107.05" width="90.0" height="59.05" fill="#a6db9d" stroke="#a6db9d"/>
<path d="M781.1 1107.05L826.1 1136.57L781.1 1166.10Z" fill="#74c66b" stroke="#74c66b"/>
<path d="M871.1 1107.05L826.1 1136.57L871.1 1166.10Z" fill="#0a9619" stroke="#0a9619"/>
<path d="M781.1 1166.10L826.1 1136.57L871.1 1166.10Z" fill="#60c058" stroke="#60c058"/>
<rect x="871.1" y="1107.05" width="90.0" height="59.05" fill="#bfe5b6" stroke="#bfe5b6"/>
<path d="M871.1 1107.05L916.1 1136.57L871.1 1166.10Z" fill="#a6db9d" stroke="#a6db9d"/>
<path d="M961.1 1107.05L916.1 1136.57L961.1 1166.10Z" fill="#8dd07e" stroke="#8dd07e"/>
<path d="M871.1 1166.10L916.1 1136.57L961.1 1166.10Z" fill="#0a9619" stroke="#0a9619"/>
<rect x="961.1" y="1107.05" width="90.0" height="59.05" fill="#d9f0d3" stroke="#d9f0d3"/>
<path d="M961.1 1107.05L1006.1 1136.57L961.1 1166.10Z" fill="#bfe5b6" stroke="#bfe5b6"/>
<path d="M1051.1 1107.05L1006.1 1136.57L1051.1 1166.10Z" fill="#74c66b" stroke="#74c66b"/>
<path d="M961.1 1166.10L1006.1 1136.57L1051.1 1166.10Z" fill="#0a9619" stroke="#0a9619"/>
<rect x="1051.1" y="1107.05" width="90.0" height="59.05" fill="#a6db9d" stroke="#a6db9d"/>
<path d="M1051.1 1107.05L1096.1 1136.57L1051.1 1166.10Z" fill="#8dd07e" stroke="#8dd07e"/>
<path d="M1141.1 1107.05L1096.1 1136.57L1141.1 1166.10Z" fill="#74c66b" stroke="#74c66b"/>
<path d="M1051.1 1166.10L1096.1 1136.57L1141.1 1166.10Z" fill="#1ea524" stroke="#1ea524"/>
<rect x="1141.1" y="1107.05" width="90.0" height="59.05" fill="#30ac34" stroke="#30ac34"/>
<path d="M1141.1 1107.05L1186.1 1136.57L1141.1 1166.10Z" fill="#1ea524" stroke="#1ea524"/>
<path d="M1231.1 1107.05L1186.1 1136.57L1231.1 1166.10Z" fill="#0a9619" stroke="#0a9619"/>
<path d="M1141.1 1166.10L1186.1 1136.57L1231.1 1166.10Z" fill="#0a9619" stroke="#0a9619"/>
<rect x="1231.1" y="1107.05" width="90.0" height="59.05" fill="#a6db9d" stroke="#a6db9d"/>
<path d="M1231.1 1107.05L1276.1 1136.57L1231.1 1166.10Z" fill="#8dd07e" stroke="#8dd07e"/>
<path d="M1321.1 1107.05L1276.1 1136.57L1321.1 1166.10Z" fill="#60c058" stroke="#60c058"/>
<path d="M1231.1 1166.10L1276.1 1136.57L1321.1 1166.10Z" fill="#1ea524" stroke="#1ea524"/>
<rect x="1321.1" y="1107.05" width="90.0" height="59.05" fill="#bfe5b6" stroke="#bfe5b6"/>
<path d="M1321.1 1107.05L1366.1 1136.57L1321.1 1166.10Z" fill="#a6db9d" stroke="#a6db9d"/>
<path d="M1411.1 1107.05L1366.1 1136.57L1411.1 1166.10Z" fill="#8dd07e" stroke="#8dd07e"/>
<path d="M1321.1 1166.10L1366.1 1136.57L1411.1 1166.10Z" fill="#60c058" stroke="#60c058"/>
<rect x="1411.1" y="1107.05" width="90.0" height="59.05" fill="#8dd07e" stroke="#8dd07e"/>
<path d="M1501.1 1107.05L1456.1 1136.57L1501.1 1166.10Z" fill="#46b446" stroke="#46b446"/>
<path d="M1411.1 1166.10L1456.1 1136.57L1501.1 1166.10Z" fill="#46b446" stroke="#46b446"/>
<rect x="1501.1" y="1107.05" width="90.0" height="59.05" fill="#a6db9d" stroke="#a6db9d"/>
<path d="M1501.1 1107.05L1546.1 1136.57L1501.1 1166.10Z" fill="#74c66b" stroke="#74c66b"/>
<path d="M1591.1 1107.05L1546.1 1136.57L1591.1 1166.10Z" fill="#74c66b" stroke="#74c66b"/>
<path d="M1501.1 1166.10L1546.1 1136.57L1591.1 1166.10Z" fill="#46b446" stroke="#46b446"/>
<rect x="1591.1" y="1107.05" width="90.0" height="59.05" fill="#bfe5b6" stroke="#bfe5b6"/>
<path d="M1591.1 1107.05L1636.1 1136.57L1591.1 1166.10Z" fill="#8dd07e" stroke="#8dd07e"/>
<path d="M1681.1 1107.05L1636.1 1136.57L1681.1 1166.10Z" fill="#74c66b" stroke="#74c66b"/>
<path d="M1591.1 1166.10L1636.1 1136.57L1681.1 1166.10Z" fill="#74c66b" stroke="#74c66b"/>
<rect x="1681.1" y="1107.05" width="90.0" height="59.05" fill="#a6db9d" stroke="#a6db9d"/>
<path d="M1771.1 1107.05L1726.1 1136.57L1771.1 1166.10Z" fill="#8dd07e" stroke="#8dd07e"/>
<path d="M1681.1 1166.10L1726.1 1136.57L1771.1 1166.10Z" fill="#60c058" stroke="#60c058"/>
<rect x="1771.1" y="1107.05" width="90.0" height="59.05" fill="#8dd07e" stroke="#8dd07e"/>
<path d="M1771.1 1107.05L1816.1 1136.57L1771.1 1166.10Z" fill="#60c058" stroke="#60c058"/>
<path d="M1861.1 1107.05L1816.1 1136.57L1861.1 1166.10Z" fill="#60c058" stroke="#60c058"/>
<path d="M1771.1 1166.10L1816.1 1136.57L1861.1 1166.10Z" fill="#0a9619" stroke="#0a9619"/>
<rect x="331.1" y="1166.10" width="90.0" height="59.05" fill="#d9f0d3" stroke="#d9f0d3"/>
<rect x="421.1" y="1166.10" width="90.0" height="59.05" fill="#d9f0d3" stroke="#d9f0d3"/>
<path d="M421.1 1225.15L466.1 1195.62L511.1 1225.15Z" fill="#bfe5b6" stroke="#bfe5b6"/>
<rect x="511.1" y="1166.10" width="90.0" height="59.05" fill="#d9f0d3" stroke="#d9f0d3"/>
<path d="M511.1 1225.15L556.1 1195.62L601.1 1225.15Z" fill="#bfe5b6" stroke="#bfe5b6"/>
<rect x="601.1" y="1166.10" width="90.0" height="59.05" fill="#d9f0d3" stroke="#d9f0d3"/>
<rect x="691.1" y="1166.10" width="90.0" height="59.05" fill="#d9f0d3" stroke="#d9f0d3"/>
<rect x="781.1" y="1166.10" width="90.0" height="59.05" fill="#d9f0d3" stroke="#d9f0d3"/>
<rect x="871.1" y="1166.10" width="90.0" height="59.05" fill="#f0f8ee" stroke="#f0f8ee"/>
<path d="M961.1 1166.10L916.1 1195.62L961.1 1225.15Z" fill="#d9f0d3" stroke="#d9f0d3"/>
<path d="M871.1 1225.15L916.1 1195.62L961.1 1225.15Z" fill="#d9f0d3" stroke="#d9f0d3"/>
<rect x="961.1" y="1166.10" width="90.0" height="59.05" fill="#f0f8ee" stroke="#f0f8ee"/>
<path d="M1051.1 1166.10L1006.1 1195.62L1051.1 1225.15Z" fill="#d9f0d3" stroke="#d9f0d3"/>
<path d="M961.1 1225.15L1006.1 1195.62L1051.1 1225.15Z" fill="#d9f0d3" stroke="#d9f0d3"/>
<rect x="1051.1" y="1166.10" width="90.0" height="59.05" fill="#d9f0d3" stroke="#d9f0d3"/>
<rect x="1141.1" y="1166.10" width="90.0" height="59.05" fill="#bfe5b6" stroke="#bfe5b6"/>
<rect x="1231.1" y="1166.10" width="90.0" height="59.05" fill="#bfe5b6" stroke="#bfe5b6"/>
<path d="M1231.1 1166.10L1276.1 1195.62L1231.1 1225.15Z" fill="#d9f0d3" stroke="#d9f0d3"/>
<rect x="1321.1" y="1166.10" width="90.0" height="59.05" fill="#d9f0d3" stroke="#d9f0d3"/>
<rect x="1411.1" y="1166.10" width="90.0" height="59.05" fill="#d9f0d3" stroke="#d9f0d3"/>
<rect x="1501.1" y="1166.10" width="90.0" height="59.05" fill="#d9f0d3" stroke="#d9f0d3"/>
<rect x="1591.1" y="1166.10" width="90.0" height="59.05" fill="#d9f0d3" stroke="#d9f0d3"/>
<rect x="1681.1" y="1166.10" width="90.0" height="59.05" fill="#d9f0d3" stroke="#d9f0d3"/>
<rect x="1771.1" y="1166.10" width="90.0" height="59.05" fill="#bfe5b6" stroke="#bfe5b6"/>
<rect x="331.1" y="1225.15" width="90.0" height="59.05" fill="#d9f0d3" stroke="#d9f0d3"/>
<rect x="421.1" y="1225.15" width="90.0" height="59.05" fill="#bfe5b6" stroke="#bfe5b6"/>
<rect x="511.1" y="1225.15" width="90.0" height="59.05" fill="#bfe5b6" stroke="#bfe5b6"/>
<rect x="601.1" y="1225.15" width="90.0" height="59.05" fill="#d9f0d3" stroke="#d9f0d3"/>
<rect x="691.1" y="1225.15" width="90.0" height="59.05" fill="#d9f0d3" stroke="#d9f0d3"/>
<rect x="781.1" y="1225.15" width="90.0" height="59.05" fill="#bfe5b6" stroke="#bfe5b6"/>
<path d="M781.1 1225.15L826.1 1254.68L781.1 1284.20Z" fill="#d9f0d3" stroke="#d9f0d3"/>
<path d="M781.1 1284.20L826.1 1254.68L871.1 1284.20Z" fill="#d9f0d3" stroke="#d9f0d3"/>
<rect x="871.1" y="1225.15" width="90.0" height="59.05" fill="#f0f8ee" stroke="#f0f8ee"/>
<path d="M961.1 1225.15L916.1 1254.68L961.1 1284.20Z" fill="#d9f0d3" stroke="#d9f0d3"/>
<path d="M871.1 1284.20L916.1 1254.68L961.1 1284.20Z" fill="#d9f0d3" stroke="#d9f0d3"/>
<rect x="961.1" y="1225.15" width="90.0" height="59.05" fill="#d9f0d3" stroke="#d9f0d3"/>
<path d="M961.1 1225.15L1006.1 1254.68L961.1 1284.20Z" fill="#f0f8ee" stroke="#f0f8ee"/>
<rect x="1051.1" y="1225.15" width="90.0" height="59.05" fill="#d9f0d3" stroke="#d9f0d3"/>
<path d="M1141.1 1225.15L1096.1 1254.68L1141.1 1284.20Z" fill="#bfe5b6" stroke="#bfe5b6"/>
<path d="M1051.1 1284.20L1096.1 1254.68L1141.1 1284.20Z" fill="#bfe5b6" stroke="#bfe5b6"/>
<rect x="1141.1" y="1225.15" width="90.0" height="59.05" fill="#bfe5b6" stroke="#bfe5b6"/>
<rect x="1231.1" y="1225.15" width="90.0" height="59.05" fill="#bfe5b6" stroke="#bfe5b6"/>
<path d="M1231.1 1225.15L1276.1 1254.68L1231.1 1284.20Z" fill="#d9f0d3" stroke="#d9f0d3"/>
<rect x="1321.1" y="1225.15" width="90.0" height="59.05" fill="#d9f0d3" stroke="#d9f0d3"/>
<rect x="1411.1" y="1225.15" width="90.0" height="59.05" fill="#bfe5b6" stroke="#bfe5b6"/>
<path d="M1411.1 1284.20L1456.1 1254.68L1501.1 1284.20Z" fill="#d9f0d3" stroke="#d9f0d3"/>
<rect x="1501.1" y="1225.15" width="90.0" height="59.05" fill="#d9f0d3" stroke="#d9f0d3"/>
<rect x="1591.1" y="1225.15" width="90.0" height="59.05" fill="#d9f0d3" stroke="#d9f0d3"/>
<rect x="1681.1" y="1225.15" width="90.0" height="59.05" fill="#d9f0d3" stroke="#d9f0d3"/>
<rect x="1771.1" y="1225.15" width="90.0" height="59.05" fill="#bfe5b6" stroke="#bfe5b6"/>
<path d="M1771.1 1284.20L1816.1 1254.68L1861.1 1284.20Z" fill="#a6db9d" stroke="#a6db9d"/>
<rect x="331.1" y="1284.20" width="90.0" height="59.05" fill="#60c058" stroke="#60c058"/>
<path d="M421.1 1284.20L376.1 1313.72L421.1 1343.25Z" fill="#46b446" stroke="#46b446"/>
<path d="M331.1 1343.25L376.1 1313.72L421.1 1343.25Z" fill="#46b446" stroke="#46b446"/>
<rect x="421.1" y="1284.20" width="90.0" height="59.05" fill="#1ea524" stroke="#1ea524"/>
<path d="M421.1 1284.20L466.1 1313.72L421.1 1343.25Z" fill="#0a9619" stroke="#0a9619"/>
<path d="M511.1 1284.20L466.1 1313.72L511.1 1343.25Z" fill="#30ac34" stroke="#30ac34"/>
<path d="M421.1 1343.25L466.1 1313.72L511.1 1343.25Z" fill="#30ac34" stroke="#30ac34"/>
<rect x="511.1" y="1284.20" width="90.0" height="59.05" fill="#1ea524" stroke="#1ea524"/>
<path d="M511.1 1284.20L556.1 1313.72L511.1 1343.25Z" fill="#0a9619" stroke="#0a9619"/>
<path d="M601.1 1284.20L556.1 1313.72L601.1 1343.25Z" fill="#30ac34" stroke="#30ac34"/>
<path d="M511.1 1343.25L556.1 1313.72L601.1 1343.25Z" fill="#46b446" stroke="#46b446"/>
<rect x="601.1" y="1284.20" width="90.0" height="59.05" fill="#60c058" stroke="#60c058"/>
<path d="M691.1 1284.20L646.1 1313.72L691.1 1343.25Z" fill="#74c66b" stroke="#74c66b"/>
<path d="M601.1 1343.25L646.1 1313.72L691.1 1343.25Z" fill="#74c66b" stroke="#74c66b"/>
<rect x="691.1" y="1284.20" width="90.0" height="59.05" fill="#46b446" stroke="#46b446"/>
<path d="M781.1 1284.20L736.1 1313.72L781.1 1343.25Z" fill="#74c66b" stroke="#74c66b"/>
<path d="M691.1 1343.25L736.1 1313.72L781.1 1343.25Z" fill="#74c66b" stroke="#74c66b"/>
<rect x="781.1" y="1284.20" width="90.0" height="59.05" fill="#60c058" stroke="#60c058"/>
<path d="M871.1 1284.20L826.1 1313.72L871.1 1343.25Z" fill="#46b446" stroke="#46b446"/>
<path d="M781.1 1343.25L826.1 1313.72L871.1 1343.25Z" fill="#46b446" stroke="#46b446"/>
<rect x="871.1" y="1284.20" width="90.0" height="59.05" fill="#8dd07e" stroke="#8dd07e"/>
<path d="M871.1 1284.20L916.1 1313.72L871.1 1343.25Z" fill="#74c66b" stroke="#74c66b"/>
<path d="M961.1 1284.20L916.1 1313.72L961.1 1343.25Z" fill="#74c66b" stroke="#74c66b"/>
<path d="M871.1 1343.25L916.1 1313.72L961.1 1343.25Z" fill="#60c058" stroke="#60c058"/>
<rect x="961.1" y="1284.20" width="90.0" height="59.05" fill="#8dd07e" stroke="#8dd07e"/>
<path d="M961.1 1284.20L1006.1 1313.72L961.1 1343.25Z" fill="#74c66b" stroke="#74c66b"/>
<path d="M1051.1 1284.20L1006.1 1313.72L1051.1 1343.25Z" fill="#74c66b" stroke="#74c66b"/>
<path d="M961.1 1343.25L1006.1 1313.72L1051.1 1343.25Z" fill="#60c058" stroke="#60c058"/>
<rect x="1051.1" y="1284.20" width="90.0" height="59.05" fill="#46b446" stroke="#46b446"/>
<path d="M1051.1 1284.20L1096.1 1313.72L1051.1 1343.25Z" fill="#30ac34" stroke="#30ac34"/>
<path d="M1051.1 1343.25L1096.1 1313.72L1141.1 1343.25Z" fill="#0a9619" stroke="#0a9619"/>
<rect x="1141.1" y="1284.20" width="90.0" height="59.05" fill="#0a9619" stroke="#0a9619"/>
<rect x="1231.1" y="1284.20" width="90.0" height="59.05" fill="#0a9619" stroke="#0a9619"/>
<path d="M1321.1 1284.20L1276.1 1313.72L1321.1 1343.25Z" fill="#30ac34" stroke="#30ac34"/>
<path d="M1231.1 1343.25L1276.1 1313.72L1321.1 1343.25Z" fill="#30ac34" stroke="#30ac34"/>
<rect x="1321.1" y="1284.20" width="90.0" height="59.05" fill="#60c058" stroke="#60c058"/>
<path d="M1321.1 1284.20L1366.1 1313.72L1321.1 1343.25Z" fill="#46b446" stroke="#46b446"/>
<path d="M1411.1 1284.20L1366.1 1313.72L1411.1 1343.25Z" fill="#74c66b" stroke="#74c66b"/>
<path d="M1321.1 1343.25L1366.1 1313.72L1411.1 1343.25Z" fill="#74c66b" stroke="#74c66b"/>
<rect x="1411.1" y="1284.20" width="90.0" height="59.05" fill="#46b446" stroke="#46b446"/>
<path d="M1411.1 1284.20L1456.1 1313.72L1411.1 1343.25Z" fill="#60c058" stroke="#60c058"/>
<path d="M1501.1 1284.20L1456.1 1313.72L1501.1 1343.25Z" fill="#60c058" stroke="#60c058"/>
<path d="M1411.1 1343.25L1456.1 1313.72L1501.1 1343.25Z" fill="#74c66b" stroke="#74c66b"/>
<rect x="1501.1" y="1284.20" width="90.0" height="59.05" fill="#30ac34" stroke="#30ac34"/>
<path d="M1501.1 1284.20L1546.1 1313.72L1501.1 1343.25Z" fill="#1ea524" stroke="#1ea524"/>
<path d="M1501.1 1343.25L1546.1 1313.72L1591.1 1343.25Z" fill="#46b446" stroke="#46b446"/>
<rect x="1591.1" y="1284.20" width="90.0" height="59.05" fill="#60c058" stroke="#60c058"/>
<path d="M1591.1 1284.20L1636.1 1313.72L1591.1 1343.25Z" fill="#74c66b" stroke="#74c66b"/>
<path d="M1681.1 1284.20L1636.1 1313.72L1681.1 1343.25Z" fill="#74c66b" stroke="#74c66b"/>
<path d="M1591.1 1343.25L1636.1 1313.72L1681.1 1343.25Z" fill="#8dd07e" stroke="#8dd07e"/>
<rect x="1681.1" y="1284.20" width="90.0" height="59.05" fill="#74c66b" stroke="#74c66b"/>
<rect x="1771.1" y="1284.20" width="90.0" height="59.05" fill="#0a9619" stroke="#0a9619"/>
<rect x="331.1" y="1343.25" width="90.0" height="59.05" fill="#a6db9d" stroke="#a6db9d"/>
<path d="M331.1 1343.25L376.1 1372.78L331.1 1402.30Z" fill="#f0f8ee" stroke="#f0f8ee"/>
<path d="M421.1 1343.25L376.1 1372.78L421.1 1402.30Z" fill="#bfe5b6" stroke="#bfe5b6"/>
<path d="M331.1 1402.30L376.1 1372.78L421.1 1402.30Z" fill="#d9f0d3" stroke="#d9f0d3"/>
<rect x="421.1" y="1343.25" width="90.0" height="59.05" fill="#bfe5b6" stroke="#bfe5b6"/>
<path d="M421.1 1343.25L466.1 1372.78L421.1 1402.30Z" fill="#d9f0d3" stroke="#d9f0d3"/>
<path d="M511.1 1343.25L466.1 1372.78L511.1 1402.30Z" fill="#a6db9d" stroke="#a6db9d"/>
<path d="M421.1 1402.30L466.1 1372.78L511.1 1402.30Z" fill="#d9f0d3" stroke="#d9f0d3"/>
<rect x="511.1" y="1343.25" width="90.0" height="59.05" fill="#bfe5b6" stroke="#bfe5b6"/>
<path d="M511.1 1343.25L556.1 1372.78L511.1 1402.30Z" fill="#d9f0d3" stroke="#d9f0d3"/>
<path d="M601.1 1343.25L556.1 1372.78L601.1 1402.30Z" fill="#a6db9d" stroke="#a6db9d"/>
<path d="M511.1 1402.30L556.1 1372.78L601.1 1402.30Z" fill="#d9f0d3" stroke="#d9f0d3"/>
<rect x="601.1" y="1343.25" width="90.0" height="59.05" fill="#a6db9d" stroke="#a6db9d"/>
<path d="M601.1 1343.25L646.1 1372.78L601.1 1402.30Z" fill="#d9f0d3" stroke="#d9f0d3"/>
<path d="M691.1 1343.25L646.1 1372.78L691.1 1402.30Z" fill="#bfe5b6" stroke="#bfe5b6"/>
<path d="M601.1 1402.30L646.1 1372.78L691.1 1402.30Z" fill="#d9f0d3" stroke="#d9f0d3"/>
<rect x="691.1" y="1343.25" width="90.0" height="59.05" fill="#a6db9d" stroke="#a6db9d"/>
<path d="M691.1 1343.25L736.1 1372.78L691.1 1402.30Z" fill="#d9f0d3" stroke="#d9f0d3"/>
<path d="M781.1 1343.25L736.1 1372.78L781.1 1402.30Z" fill="#bfe5b6" stroke="#bfe5b6"/>
<path d="M691.1 1402.30L736.1 1372.78L781.1 1402.30Z" fill="#d9f0d3" stroke="#d9f0d3"/>
<rect x="781.1" y="1343.25" width="90.0" height="59.05" fill="#a6db9d" stroke="#a6db9d"/>
<path d="M781.1 1343.25L826.1 1372.78L781.1 1402.30Z" fill="#d9f0d3" stroke="#d9f0d3"/>
<path d="M871.1 1343.25L826.1 1372.78L871.1 1402.30Z" fill="#bfe5b6" stroke="#bfe5b6"/>
<path d="M781.1 1402.30L826.1 1372.78L871.1 1402.30Z" fill="#f0f8ee" stroke="#f0f8ee"/>
<rect x="871.1" y="1343.25" width="90.0" height="59.05" fill="#bfe5b6" stroke="#bfe5b6"/>
<path d="M871.1 1343.25L916.1 1372.78L871.1 1402.30Z" fill="#f0f8ee" stroke="#f0f8ee"/>
<path d="M961.1 1343.25L916.1 1372.78L961.1 1402.30Z" fill="#d9f0d3" stroke="#d9f0d3"/>
<path d="M871.1 1402.30L916.1 1372.78L961.1 1402.30Z" fill="#f0f8ee" stroke="#f0f8ee"/>
<rect x="961.1" y="1343.25" width="90.0" height="59.05" fill="#bfe5b6" stroke="#bfe5b6"/>
<path d="M961.1 1343.25L1006.1 1372.78L961.1 1402.30Z" fill="#f0f8ee" stroke="#f0f8ee"/>
<path d="M961.1 1402.30L1006.1 1372.78L1051.1 1402.30Z" fill="#f0f8ee" stroke="#f0f8ee"/>
<rect x="1051.1" y="1343.25" width="90.0" height="59.05" fill="#bfe5b6" stroke="#bfe5b6"/>
<path d="M1051.1 1343.25L1096.1 1372.78L1051.1 1402.30Z" fill="#d9f0d3" stroke="#d9f0d3"/>
<path d="M1141.1 1343.25L1096.1 1372.78L1141.1 1402.30Z" fill="#a6db9d" stroke="#a6db9d"/>
<path d="M1051.1 1402.30L1096.1 1372.78L1141.1 1402.30Z" fill="#d9f0d3" stroke="#d9f0d3"/>
<rect x="1141.1" y="1343.25" width="90.0" height="59.05" fill="#8dd07e" stroke="#8dd07e"/>
<path d="M1141.1 1343.25L1186.1 1372.78L1141.1 1402.30Z" fill="#d9f0d3" stroke="#d9f0d3"/>
<path d="M1231.1 1343.25L1186.1 1372.78L1231.1 1402.30Z" fill="#a6db9d" stroke="#a6db9d"/>
<path d="M1141.1 1402.30L1186.1 1372.78L1231.1 1402.30Z" fill="#d9f0d3" stroke="#d9f0d3"/>
<rect x="1231.1" y="1343.25" width="90.0" height="59.05" fill="#bfe5b6" stroke="#bfe5b6"/>
<path d="M1231.1 1343.25L1276.1 1372.78L1231.1 1402.30Z" fill="#f0f8ee" stroke="#f0f8ee"/>
<path d="M1231.1 1402.30L1276.1 1372.78L1321.1 1402.30Z" fill="#d9f0d3" stroke="#d9f0d3"/>
<rect x="1321.1" y="1343.25" width="90.0" height="59.05" fill="#bfe5b6" stroke="#bfe5b6"/>
<path d="M1321.1 1343.25L1366.1 1372.78L1321.1 1402.30Z" fill="#f0f8ee" stroke="#f0f8ee"/>
<path d="M1321.1 1402.30L1366.1 1372.78L1411.1 1402.30Z" fill="#d9f0d3" stroke="#d9f0d3"/>
<rect x="1411.1" y="1343.25" width="90.0" height="59.05" fill="#bfe5b6" stroke="#bfe5b6"/>
<path d="M1411.1 1343.25L1456.1 1372.78L1411.1 1402.30Z" fill="#d9f0d3" stroke="#d9f0d3"/>
<path d="M1411.1 1402.30L1456.1 1372.78L1501.1 1402.30Z" fill="#f0f8ee" stroke="#f0f8ee"/>
<rect x="1501.1" y="1343.25" width="90.0" height="59.05" fill="#a6db9d" stroke="#a6db9d"/>
<path d="M1501.1 1343.25L1546.1 1372.78L1501.1 1402.30Z" fill="#d9f0d3" stroke="#d9f0d3"/>
<path d="M1501.1 1402.30L1546.1 1372.78L1591.1 1402.30Z" fill="#d9f0d3" stroke="#d9f0d3"/>
<rect x="1591.1" y="1343.25" width="90.0" height="59.05" fill="#bfe5b6" stroke="#bfe5b6"/>
<path d="M1591.1 1343.25L1636.1 1372.78L1591.1 1402.30Z" fill="#d9f0d3" stroke="#d9f0d3"/>
<path d="M1591.1 1402.30L1636.1 1372.78L1681.1 1402.30Z" fill="#d9f0d3" stroke="#d9f0d3"/>
<rect x="1681.1" y="1343.25" width="90.0" height="59.05" fill="#bfe5b6" stroke="#bfe5b6"/>
<path d="M1681.1 1343.25L1726.1 1372.78L1681.1 1402.30Z" fill="#f0f8ee" stroke="#f0f8ee"/>
<path d="M1681.1 1402.30L1726.1 1372.78L1771.1 1402.30Z" fill="#d9f0d3" stroke="#d9f0d3"/>
<rect x="1771.1" y="1343.25" width="90.0" height="59.05" fill="#a6db9d" stroke="#a6db9d"/>
<path d="M1771.1 1343.25L1816.1 1372.78L1771.1 1402.30Z" fill="#d9f0d3" stroke="#d9f0d3"/>
<path d="M1771.1 1402.30L1816.1 1372.78L1861.1 1402.30Z" fill="#d9f0d3" stroke="#d9f0d3"/>
<rect x="331.1" y="1402.30" width="90.0" height="59.05" fill="#bfe5b6" stroke="#bfe5b6"/>
<path d="M331.1 1402.30L376.1 1431.82L331.1 1461.35Z" fill="#d9f0d3" stroke="#d9f0d3"/>
<path d="M421.1 1402.30L376.1 1431.82L421.1 1461.35Z" fill="#d9f0d3" stroke="#d9f0d3"/>
<rect x="421.1" y="1402.30" width="90.0" height="59.05" fill="#a6db9d" stroke="#a6db9d"/>
<path d="M421.1 1402.30L466.1 1431.82L421.1 1461.35Z" fill="#bfe5b6" stroke="#bfe5b6"/>
<path d="M511.1 1402.30L466.1 1431.82L511.1 1461.35Z" fill="#8dd07e" stroke="#8dd07e"/>
<rect x="511.1" y="1402.30" width="90.0" height="59.05" fill="#a6db9d" stroke="#a6db9d"/>
<path d="M511.1 1402.30L556.1 1431.82L511.1 1461.35Z" fill="#bfe5b6" stroke="#bfe5b6"/>
<rect x="601.1" y="1402.30" width="90.0" height="59.05" fill="#bfe5b6" stroke="#bfe5b6"/>
<path d="M691.1 1402.30L646.1 1431.82L691.1 1461.35Z" fill="#a6db9d" stroke="#a6db9d"/>
<path d="M601.1 1461.35L646.1 1431.82L691.1 1461.35Z" fill="#a6db9d" stroke="#a6db9d"/>
<rect x="691.1" y="1402.30" width="90.0" height="59.05" fill="#bfe5b6" stroke="#bfe5b6"/>
<path d="M781.1 1402.30L736.1 1431.82L781.1 1461.35Z" fill="#a6db9d" stroke="#a6db9d"/>
<path d="M691.1 1461.35L736.1 1431.82L781.1 1461.35Z" fill="#a6db9d" stroke="#a6db9d"/>
<rect x="781.1" y="1402.30" width="90.0" height="59.05" fill="#bfe5b6" stroke="#bfe5b6"/>
<path d="M781.1 1402.30L826.1 1431.82L781.1 1461.35Z" fill="#d9f0d3" stroke="#d9f0d3"/>
<rect x="871.1" y="1402.30" width="90.0" height="59.05" fill="#d9f0d3" stroke="#d9f0d3"/>
<path d="M871.1 1402.30L916.1 1431.82L871.1 1461.35Z" fill="#f0f8ee" stroke="#f0f8ee"/>
<rect x="961.1" y="1402.30" width="90.0" height="59.05" fill="#d9f0d3" stroke="#d9f0d3"/>
<path d="M961.1 1461.35L1006.1 1431.82L1051.1 1461.35Z" fill="#bfe5b6" stroke="#bfe5b6"/>
<rect x="1051.1" y="1402.30" width="90.0" height="59.05" fill="#bfe5b6" stroke="#bfe5b6"/>
<path d="M1141.1 1402.30L1096.1 1431.82L1141.1 1461.35Z" fill="#8dd07e" stroke="#8dd07e"/>
<path d="M1051.1 1461.35L1096.1 1431.82L1141.1 1461.35Z" fill="#74c66b" stroke="#74c66b"/>
<rect x="1141.1" y="1402.30" width="90.0" height="59.05" fill="#a6db9d" stroke="#a6db9d"/>
<path d="M1141.1 1402.30L1186.1 1431.82L1141.1 1461.35Z" fill="#bfe5b6" stroke="#bfe5b6"/>
<path d="M1141.1 1461.35L1186.1 1431.82L1231.1 1461.35Z" fill="#bfe5b6" stroke="#bfe5b6"/>
<rect x="1231.1" y="1402.30" width="90.0" height="59.05" fill="#a6db9d" stroke="#a6db9d"/>
<path d="M1231.1 1402.30L1276.1 1431.82L1231.1 1461.35Z" fill="#bfe5b6" stroke="#bfe5b6"/>
<rect x="1321.1" y="1402.30" width="90.0" height="59.05" fill="#bfe5b6" stroke="#bfe5b6"/>
<path d="M1321.1 1402.30L1366.1 1431.82L1321.1 1461.35Z" fill="#d9f0d3" stroke="#d9f0d3"/>
<rect x="1411.1" y="1402.30" width="90.0" height="59.05" fill="#bfe5b6" stroke="#bfe5b6"/>
<rect x="1501.1" y="1402.30" width="90.0" height="59.05" fill="#bfe5b6" stroke="#bfe5b6"/>
<path d="M1591.1 1402.30L1546.1 1431.82L1591.1 1461.35Z" fill="#a6db9d" stroke="#a6db9d"/>
<path d="M1501.1 1461.35L1546.1 1431.82L1591.1 1461.35Z" fill="#a6db9d" stroke="#a6db9d"/>
<rect x="1591.1" y="1402.30" width="90.0" height="59.05" fill="#d9f0d3" stroke="#d9f0d3"/>
<path d="M1591.1 1402.30L1636.1 1431.82L1591.1 1461.35Z" fill="#bfe5b6" stroke="#bfe5b6"/>
<path d="M1681.1 1402.30L1636.1 1431.82L1681.1 1461.35Z" fill="#a6db9d" stroke="#a6db9d"/>
<path d="M1591.1 1461.35L1636.1 1431.82L1681.1 1461.35Z" fill="#a6db9d" stroke="#a6db9d"/>
<rect x="1681.1" y="1402.30" width="90.0" height="59.05" fill="#d9f0d3" stroke="#d9f0d3"/>
<path d="M1681.1 1402.30L1726.1 1431.82L1681.1 1461.35Z" fill="#bfe5b6" stroke="#bfe5b6"/>
<path d="M1771.1 1402.30L1726.1 1431.82L1771.1 1461.35Z" fill="#bfe5b6" stroke="#bfe5b6"/>
<path d="M1681.1 1461.35L1726.1 1431.82L1771.1 1461.35Z" fill="#a6db9d" stroke="#a6db9d"/>
<rect x="1771.1" y="1402.30" width="90.0" height="59.05" fill="#a6db9d" stroke="#a6db9d"/>
<path d="M1861.1 1402.30L1816.1 1431.82L1861.1 1461.35Z" fill="#8dd07e" stroke="#8dd07e"/>
<path d="M1771.1 1461.35L1816.1 1431.82L1861.1 1461.35Z" fill="#8dd07e" stroke="#8dd07e"/>
<rect x="331.1" y="1461.35" width="90.0" height="59.05" fill="#d9f0d3" stroke="#d9f0d3"/>
<path d="M331.1 1520.40L376.1 1490.88L421.1 1520.40Z" fill="#bfe5b6" stroke="#bfe5b6"/>
<rect x="421.1" y="1461.35" width="90.0" height="59.05" fill="#d9f0d3" stroke="#d9f0d3"/>
<path d="M421.1 1520.40L466.1 1490.88L511.1 1520.40Z" fill="#bfe5b6" stroke="#bfe5b6"/>
<rect x="511.1" y="1461.35" width="90.0" height="59.05" fill="#d9f0d3" stroke="#d9f0d3"/>
<path d="M511.1 1520.40L556.1 1490.88L601.1 1520.40Z" fill="#bfe5b6" stroke="#bfe5b6"/>
<rect x="601.1" y="1461.35" width="90.0" height="59.05" fill="#d9f0d3" stroke="#d9f0d3"/>
<path d="M691.1 1461.35L646.1 1490.88L691.1 1520.40Z" fill="#bfe5b6" stroke="#bfe5b6"/>
<path d="M601.1 1520.40L646.1 1490.88L691.1 1520.40Z" fill="#bfe5b6" stroke="#bfe5b6"/>
<rect x="691.1" y="1461.35" width="90.0" height="59.05" fill="#d9f0d3" stroke="#d9f0d3"/>
<path d="M781.1 1461.35L736.1 1490.88L781.1 1520.40Z" fill="#bfe5b6" stroke="#bfe5b6"/>
<path d="M691.1 1520.40L736.1 1490.88L781.1 1520.40Z" fill="#bfe5b6" stroke="#bfe5b6"/>
<rect x="781.1" y="1461.35" width="90.0" height="59.05" fill="#d9f0d3" stroke="#d9f0d3"/>
<path d="M781.1 1520.40L826.1 1490.88L871.1 1520.40Z" fill="#bfe5b6" stroke="#bfe5b6"/>
<rect x="871.1" y="1461.35" width="90.0" height="59.05" fill="#f0f8ee" stroke="#f0f8ee"/>
<path d="M961.1 1461.35L916.1 1490.88L961.1 1520.40Z" fill="#d9f0d3" stroke="#d9f0d3"/>
<path d="M871.1 1520.40L916.1 1490.88L961.1 1520.40Z" fill="#d9f0d3" stroke="#d9f0d3"/>
<rect x="961.1" y="1461.35" width="90.0" height="59.05" fill="#f0f8ee" stroke="#f0f8ee"/>
<path d="M1051.1 1461.35L1006.1 1490.88L1051.1 1520.40Z" fill="#d9f0d3" stroke="#d9f0d3"/>
<path d="M961.1 1520.40L1006.1 1490.88L1051.1 1520.40Z" fill="#bfe5b6" stroke="#bfe5b6"/>
<rect x="1051.1" y="1461.35" width="90.0" height="59.05" fill="#d9f0d3" stroke="#d9f0d3"/>
<path d="M1051.1 1520.40L1096.1 1490.88L1141.1 1520.40Z" fill="#bfe5b6" stroke="#bfe5b6"/>
<rect x="1141.1" y="1461.35" width="90.0" height="59.05" fill="#bfe5b6" stroke="#bfe5b6"/>
<path d="M1141.1 1461.35L1186.1 1490.88L1141.1 1520.40Z" fill="#d9f0d3" stroke="#d9f0d3"/>
<rect x="1231.1" y="1461.35" width="90.0" height="59.05" fill="#bfe5b6" stroke="#bfe5b6"/>
<rect x="1321.1" y="1461.35" width="90.0" height="59.05" fill="#d9f0d3" stroke="#d9f0d3"/>
<path d="M1321.1 1520.40L1366.1 1490.88L1411.1 1520.40Z" fill="#bfe5b6" stroke="#bfe5b6"/>
<rect x="1411.1" y="1461.35" width="90.0" height="59.05" fill="#d9f0d3" stroke="#d9f0d3"/>
<path d="M1411.1 1520.40L1456.1 1490.88L1501.1 1520.40Z" fill="#bfe5b6" stroke="#bfe5b6"/>
<rect x="1501.1" y="1461.35" width="90.0" height="59.05" fill="#d9f0d3" stroke="#d9f0d3"/>
<path d="M1501.1 1520.40L1546.1 1490.88L1591.1 1520.40Z" fill="#bfe5b6" stroke="#bfe5b6"/>
<rect x="1591.1" y="1461.35" width="90.0" height="59.05" fill="#d9f0d3" stroke="#d9f0d3"/>
<path d="M1591.1 1520.40L1636.1 1490.88L1681.1 1520.40Z" fill="#bfe5b6" stroke="#bfe5b6"/>
<rect x="1681.1" y="1461.35" width="90.0" height="59.05" fill="#d9f0d3" stroke="#d9f0d3"/>
<path d="M1681.1 1520.40L1726.1 1490.88L1771.1 1520.40Z" fill="#bfe5b6" stroke="#bfe5b6"/>
<rect x="1771.1" y="1461.35" width="90.0" height="59.05" fill="#bfe5b6" stroke="#bfe5b6"/>
<rect x="331.1" y="1520.40" width="90.0" height="59.05" fill="#bfe5b6" stroke="#bfe5b6"/>
<rect x="421.1" y="1520.40" width="90.0" height="59.05" fill="#bfe5b6" stroke="#bfe5b6"/>
<rect x="511.1" y="1520.40" width="90.0" height="59.05" fill="#bfe5b6" stroke="#bfe5b6"/>
<rect x="601.1" y="1520.40" width="90.0" height="59.05" fill="#8dd07e" stroke="#8dd07e"/>
<rect x="691.1" y="1520.40" width="90.0" height="59.05" fill="#8dd07e" stroke="#8dd07e"/>
<rect x="781.1" y="1520.40" width="90.0" height="59.05" fill="#bfe5b6" stroke="#bfe5b6"/>
<rect x="871.1" y="1520.40" width="90.0" height="59.05" fill="#74c66b" stroke="#74c66b"/>
<path d="M961.1 1520.40L916.1 1549.93L961.1 1579.45Z" fill="#8dd07e" stroke="#8dd07e"/>
<path d="M871.1 1579.45L916.1 1549.93L961.1 1579.45Z" fill="#8dd07e" stroke="#8dd07e"/>
<rect x="961.1" y="1520.40" width="90.0" height="59.05" fill="#bfe5b6" stroke="#bfe5b6"/>
<rect x="1051.1" y="1520.40" width="90.0" height="59.05" fill="#bfe5b6" stroke="#bfe5b6"/>
<rect x="1141.1" y="1520.40" width="90.0" height="59.05" fill="#a6db9d" stroke="#a6db9d"/>
<rect x="1231.1" y="1520.40" width="90.0" height="59.05" fill="#8dd07e" stroke="#8dd07e"/>
<rect x="1321.1" y="1520.40" width="90.0" height="59.05" fill="#bfe5b6" stroke="#bfe5b6"/>
<rect x="1411.1" y="1520.40" width="90.0" height="59.05" fill="#bfe5b6" stroke="#bfe5b6"/>
<rect x="1501.1" y="1520.40" width="90.0" height="59.05" fill="#bfe5b6" stroke="#bfe5b6"/>
<rect x="1591.1" y="1520.40" width="90.0" height="59.05" fill="#bfe5b6" stroke="#bfe5b6"/>
<rect x="1681.1" y="1520.40" width="90.0" height="59.05" fill="#bfe5b6" stroke="#bfe5b6"/>
<rect x="1771.1" y="1520.40" width="90.0" height="59.05" fill="#74c66b" stroke="#74c66b"/>
<path d="M1771.1 1520.40L1816.1 1549.93L1771.1 1579.45Z" fill="#8dd07e" stroke="#8dd07e"/>
<path d="M1861.1 1520.40L1816.1 1549.93L1861.1 1579.45Z" fill="#8dd07e" stroke="#8dd07e"/>
<path d="M1771.1 1579.45L1816.1 1549.93L1861.1 1579.45Z" fill="#8dd07e" stroke="#8dd07e"/>
<rect x="331.1" y="1579.45" width="90.0" height="59.05" fill="#46b446" stroke="#46b446"/>
<path d="M331.1 1579.45L376.1 1608.97L331.1 1638.50Z" fill="#30ac34" stroke="#30ac34"/>
<path d="M331.1 1638.50L376.1 1608.97L421.1 1638.50Z" fill="#60c058" stroke="#60c058"/>
<rect x="421.1" y="1579.45" width="90.0" height="59.05" fill="#60c058" stroke="#60c058"/>
<path d="M511.1 1579.45L466.1 1608.97L511.1 1638.50Z" fill="#74c66b" stroke="#74c66b"/>
<path d="M421.1 1638.50L466.1 1608.97L511.1 1638.50Z" fill="#74c66b" stroke="#74c66b"/>
<rect x="511.1" y="1579.45" width="90.0" height="59.05" fill="#60c058" stroke="#60c058"/>
<path d="M511.1 1638.50L556.1 1608.97L601.1 1638.50Z" fill="#74c66b" stroke="#74c66b"/>
<rect x="601.1" y="1579.45" width="90.0" height="59.05" fill="#30ac34" stroke="#30ac34"/>
<path d="M601.1 1579.45L646.1 1608.97L601.1 1638.50Z" fill="#46b446" stroke="#46b446"/>
<path d="M601.1 1638.50L646.1 1608.97L691.1 1638.50Z" fill="#46b446" stroke="#46b446"/>
<rect x="691.1" y="1579.45" width="90.0" height="59.05" fill="#30ac34" stroke="#30ac34"/>
<path d="M691.1 1579.45L736.1 1608.97L691.1 1638.50Z" fill="#46b446" stroke="#46b446"/>
<path d="M691.1 1638.50L736.1 1608.97L781.1 1638.50Z" fill="#46b446" stroke="#46b446"/>
<rect x="781.1" y="1579.45" width="90.0" height="59.05" fill="#30ac34" stroke="#30ac34"/>
<path d="M871.1 1579.45L826.1 1608.97L871.1 1638.50Z" fill="#1ea524" stroke="#1ea524"/>
<path d="M781.1 1638.50L826.1 1608.97L871.1 1638.50Z" fill="#1ea524" stroke="#1ea524"/>
<rect x="871.1" y="1579.45" width="90.0" height="59.05" fill="#8dd07e" stroke="#8dd07e"/>
<path d="M871.1 1579.45L916.1 1608.97L871.1 1638.50Z" fill="#a6db9d" stroke="#a6db9d"/>
<rect x="961.1" y="1579.45" width="90.0" height="59.05" fill="#8dd07e" stroke="#8dd07e"/>
<path d="M1051.1 1579.45L1006.1 1608.97L1051.1 1638.50Z" fill="#74c66b" stroke="#74c66b"/>
<rect x="1051.1" y="1579.45" width="90.0" height="59.05" fill="#60c058" stroke="#60c058"/>
<rect x="1141.1" y="1579.45" width="90.0" height="59.05" fill="#30ac34" stroke="#30ac34"/>
<path d="M1231.1 1579.45L1186.1 1608.97L1231.1 1638.50Z" fill="#1ea524" stroke="#1ea524"/>
<path d="M1141.1 1638.50L1186.1 1608.97L1231.1 1638.50Z" fill="#1ea524" stroke="#1ea524"/>
<rect x="1231.1" y="1579.45" width="90.0" height="59.05" fill="#0a9619" stroke="#0a9619"/>
<rect x="1321.1" y="1579.45" width="90.0" height="59.05" fill="#74c66b" stroke="#74c66b"/>
<rect x="1411.1" y="1579.45" width="90.0" height="59.05" fill="#60c058" stroke="#60c058"/>
<path d="M1411.1 1579.45L1456.1 1608.97L1411.1 1638.50Z" fill="#74c66b" stroke="#74c66b"/>
<path d="M1411.1 1638.50L1456.1 1608.97L1501.1 1638.50Z" fill="#74c66b" stroke="#74c66b"/>
<rect x="1501.1" y="1579.45" width="90.0" height="59.05" fill="#1ea524" stroke="#1ea524"/>
<path d="M1591.1 1579.45L1546.1 1608.97L1591.1 1638.50Z" fill="#30ac34" stroke="#30ac34"/>
<path d="M1501.1 1638.50L1546.1 1608.97L1591.1 1638.50Z" fill="#30ac34" stroke="#30ac34"/>
<rect x="1591.1" y="1579.45" width="90.0" height="59.05" fill="#30ac34" stroke="#30ac34"/>
<path d="M1681.1 1579.45L1636.1 1608.97L1681.1 1638.50Z" fill="#46b446" stroke="#46b446"/>
<rect x="1681.1" y="1579.45" width="90.0" height="59.05" fill="#60c058" stroke="#60c058"/>
<path d="M1771.1 1579.45L1726.1 1608.97L1771.1 1638.50Z" fill="#74c66b" stroke="#74c66b"/>
<path d="M1681.1 1638.50L1726.1 1608.97L1771.1 1638.50Z" fill="#74c66b" stroke="#74c66b"/>
<rect x="1771.1" y="1579.45" width="90.0" height="59.05" fill="#0a9619" stroke="#0a9619"/>
<rect x="331.1" y="1638.50" width="90.0" height="59.05" fill="#0a9619" stroke="#0a9619"/>
<path d="M421.1 1638.50L376.1 1668.03L421.1 1697.55Z" fill="#30ac34" stroke="#30ac34"/>
<path d="M331.1 1697.55L376.1 1668.03L421.1 1697.55Z" fill="#46b446" stroke="#46b446"/>
<rect x="421.1" y="1638.50" width="90.0" height="59.05" fill="#30ac34" stroke="#30ac34"/>
<path d="M511.1 1638.50L466.1 1668.03L511.1 1697.55Z" fill="#46b446" stroke="#46b446"/>
<path d="M421.1 1697.55L466.1 1668.03L511.1 1697.55Z" fill="#60c058" stroke="#60c058"/>
<rect x="511.1" y="1638.50" width="90.0" height="59.05" fill="#30ac34" stroke="#30ac34"/>
<path d="M601.1 1638.50L556.1 1668.03L601.1 1697.55Z" fill="#46b446" stroke="#46b446"/>
<path d="M511.1 1697.55L556.1 1668.03L601.1 1697.55Z" fill="#60c058" stroke="#60c058"/>
<rect x="601.1" y="1638.50" width="90.0" height="59.05" fill="#0a9619" stroke="#0a9619"/>
<rect x="691.1" y="1638.50" width="90.0" height="59.05" fill="#0a9619" stroke="#0a9619"/>
<path d="M691.1 1697.55L736.1 1668.03L781.1 1697.55Z" fill="#1ea524" stroke="#1ea524"/>
<rect x="781.1" y="1638.50" width="90.0" height="59.05" fill="#1ea524" stroke="#1ea524"/>
<path d="M781.1 1638.50L826.1 1668.03L781.1 1697.55Z" fill="#0a9619" stroke="#0a9619"/>
<path d="M871.1 1638.50L826.1 1668.03L871.1 1697.55Z" fill="#30ac34" stroke="#30ac34"/>
<path d="M781.1 1697.55L826.1 1668.03L871.1 1697.55Z" fill="#30ac34" stroke="#30ac34"/>
<rect x="871.1" y="1638.50" width="90.0" height="59.05" fill="#0a9619" stroke="#0a9619"/>
<path d="M871.1 1638.50L916.1 1668.03L871.1 1697.55Z" fill="#1ea524" stroke="#1ea524"/>
<rect x="961.1" y="1638.50" width="90.0" height="59.05" fill="#60c058" stroke="#60c058"/>
<path d="M961.1 1697.55L1006.1 1668.03L1051.1 1697.55Z" fill="#46b446" stroke="#46b446"/>
<rect x="1051.1" y="1638.50" width="90.0" height="59.05" fill="#30ac34" stroke="#30ac34"/>
<path d="M1051.1 1697.55L1096.1 1668.03L1141.1 1697.55Z" fill="#46b446" stroke="#46b446"/>
<rect x="1141.1" y="1638.50" width="90.0" height="59.05" fill="#0a9619" stroke="#0a9619"/>
<rect x="1231.1" y="1638.50" width="90.0" height="59.05" fill="#0a9619" stroke="#0a9619"/>
<rect x="1321.1" y="1638.50" width="90.0" height="59.05" fill="#46b446" stroke="#46b446"/>
<path d="M1321.1 1638.50L1366.1 1668.03L1321.1 1697.55Z" fill="#60c058" stroke="#60c058"/>
<path d="M1411.1 1638.50L1366.1 1668.03L1411.1 1697.55Z" fill="#30ac34" stroke="#30ac34"/>
<rect x="1411.1" y="1638.50" width="90.0" height="59.05" fill="#1ea524" stroke="#1ea524"/>
<path d="M1411.1 1638.50L1456.1 1668.03L1411.1 1697.55Z" fill="#46b446" stroke="#46b446"/>
<path d="M1411.1 1697.55L1456.1 1668.03L1501.1 1697.55Z" fill="#46b446" stroke="#46b446"/>
<rect x="1501.1" y="1638.50" width="90.0" height="59.05" fill="#0a9619" stroke="#0a9619"/>
<rect x="1591.1" y="1638.50" width="90.0" height="59.05" fill="#0a9619" stroke="#0a9619"/>
<path d="M1681.1 1638.50L1636.1 1668.03L1681.1 1697.55Z" fill="#1ea524" stroke="#1ea524"/>
<path d="M1591.1 1697.55L1636.1 1668.03L1681.1 1697.55Z" fill="#1ea524" stroke="#1ea524"/>
<rect x="1681.1" y="1638.50" width="90.0" height="59.05" fill="#46b446" stroke="#46b446"/>
<path d="M1681.1 1638.50L1726.1 1668.03L1681.1 1697.55Z" fill="#30ac34" stroke="#30ac34"/>
<path d="M1771.1 1638.50L1726.1 1668.03L1771.1 1697.55Z" fill="#60c058" stroke="#60c058"/>
<path d="M1681.1 1697.55L1726.1 1668.03L1771.1 1697.55Z" fill="#60c058" stroke="#60c058"/>
<rect x="1771.1" y="1638.50" width="90.0" height="59.05" fill="#0a9619" stroke="#0a9619"/>
<rect x="331.1" y="1697.55" width="90.0" height="59.05" fill="#bfe5b6" stroke="#bfe5b6"/>
<path d="M331.1 1697.55L376.1 1727.07L331.1 1756.60Z" fill="#a6db9d" stroke="#a6db9d"/>
<path d="M421.1 1697.55L376.1 1727.07L421.1 1756.60Z" fill="#8dd07e" stroke="#8dd07e"/>
<path d="M331.1 1756.60L376.1 1727.07L421.1 1756.60Z" fill="#60c058" stroke="#60c058"/>
<rect x="421.1" y="1697.55" width="90.0" height="59.05" fill="#a6db9d" stroke="#a6db9d"/>
<path d="M421.1 1697.55L466.1 1727.07L421.1 1756.60Z" fill="#8dd07e" stroke="#8dd07e"/>
<path d="M511.1 1697.55L466.1 1727.07L511.1 1756.60Z" fill="#8dd07e" stroke="#8dd07e"/>
<path d="M421.1 1756.60L466.1 1727.07L511.1 1756.60Z" fill="#74c66b" stroke="#74c66b"/>
<rect x="511.1" y="1697.55" width="90.0" height="59.05" fill="#a6db9d" stroke="#a6db9d"/>
<path d="M511.1 1697.55L556.1 1727.07L511.1 1756.60Z" fill="#8dd07e" stroke="#8dd07e"/>
<path d="M601.1 1697.55L556.1 1727.07L601.1 1756.60Z" fill="#8dd07e" stroke="#8dd07e"/>
<path d="M511.1 1756.60L556.1 1727.07L601.1 1756.60Z" fill="#74c66b" stroke="#74c66b"/>
<rect x="601.1" y="1697.55" width="90.0" height="59.05" fill="#a6db9d" stroke="#a6db9d"/>
<path d="M601.1 1697.55L646.1 1727.07L601.1 1756.60Z" fill="#8dd07e" stroke="#8dd07e"/>
<path d="M601.1 1756.60L646.1 1727.07L691.1 1756.60Z" fill="#60c058" stroke="#60c058"/>
<rect x="691.1" y="1697.55" width="90.0" height="59.05" fill="#a6db9d" stroke="#a6db9d"/>
<path d="M691.1 1697.55L736.1 1727.07L691.1 1756.60Z" fill="#8dd07e" stroke="#8dd07e"/>
<path d="M691.1 1756.60L736.1 1727.07L781.1 1756.60Z" fill="#60c058" stroke="#60c058"/>
<rect x="781.1" y="1697.55" width="90.0" height="59.05" fill="#a6db9d" stroke="#a6db9d"/>
<path d="M781.1 1697.55L826.1 1727.07L781.1 1756.60Z" fill="#8dd07e" stroke="#8dd07e"/>
<path d="M871.1 1697.55L826.1 1727.07L871.1 1756.60Z" fill="#60c058" stroke="#60c058"/>
<path d="M781.1 1756.60L826.1 1727.07L871.1 1756.60Z" fill="#74c66b" stroke="#74c66b"/>
<rect x="871.1" y="1697.55" width="90.0" height="59.05" fill="#bfe5b6" stroke="#bfe5b6"/>
<path d="M961.1 1697.55L916.1 1727.07L961.1 1756.60Z" fill="#8dd07e" stroke="#8dd07e"/>
<path d="M871.1 1756.60L916.1 1727.07L961.1 1756.60Z" fill="#30ac34" stroke="#30ac34"/>
<rect x="961.1" y="1697.55" width="90.0" height="59.05" fill="#bfe5b6" stroke="#bfe5b6"/>
<path d="M1051.1 1697.55L1006.1 1727.07L1051.1 1756.60Z" fill="#a6db9d" stroke="#a6db9d"/>
<path d="M961.1 1756.60L1006.1 1727.07L1051.1 1756.60Z" fill="#46b446" stroke="#46b446"/>
<rect x="1051.1" y="1697.55" width="90.0" height="59.05" fill="#a6db9d" stroke="#a6db9d"/>
<path d="M1141.1 1697.55L1096.1 1727.07L1141.1 1756.60Z" fill="#8dd07e" stroke="#8dd07e"/>
<path d="M1051.1 1756.60L1096.1 1727.07L1141.1 1756.60Z" fill="#60c058" stroke="#60c058"/>
<rect x="1141.1" y="1697.55" width="90.0" height="59.05" fill="#1ea524" stroke="#1ea524"/>
<path d="M1141.1 1756.60L1186.1 1727.07L1231.1 1756.60Z" fill="#0a9619" stroke="#0a9619"/>
<rect x="1231.1" y="1697.55" width="90.0" height="59.05" fill="#a6db9d" stroke="#a6db9d"/>
<path d="M1321.1 1697.55L1276.1 1727.07L1321.1 1756.60Z" fill="#74c66b" stroke="#74c66b"/>
<path d="M1231.1 1756.60L1276.1 1727.07L1321.1 1756.60Z" fill="#46b446" stroke="#46b446"/>
<rect x="1321.1" y="1697.55" width="90.0" height="59.05" fill="#bfe5b6" stroke="#bfe5b6"/>
<path d="M1321.1 1697.55L1366.1 1727.07L1321.1 1756.60Z" fill="#a6db9d" stroke="#a6db9d"/>
<path d="M1411.1 1697.55L1366.1 1727.07L1411.1 1756.60Z" fill="#a6db9d" stroke="#a6db9d"/>
<path d="M1321.1 1756.60L1366.1 1727.07L1411.1 1756.60Z" fill="#74c66b" stroke="#74c66b"/>
<rect x="1411.1" y="1697.55" width="90.0" height="59.05" fill="#8dd07e" stroke="#8dd07e"/>
<path d="M1501.1 1697.55L1456.1 1727.07L1501.1 1756.60Z" fill="#74c66b" stroke="#74c66b"/>
<path d="M1411.1 1756.60L1456.1 1727.07L1501.1 1756.60Z" fill="#74c66b" stroke="#74c66b"/>
<rect x="1501.1" y="1697.55" width="90.0" height="59.05" fill="#a6db9d" stroke="#a6db9d"/>
<path d="M1501.1 1697.55L1546.1 1727.07L1501.1 1756.60Z" fill="#8dd07e" stroke="#8dd07e"/>
<path d="M1591.1 1697.55L1546.1 1727.07L1591.1 1756.60Z" fill="#8dd07e" stroke="#8dd07e"/>
<path d="M1501.1 1756.60L1546.1 1727.07L1591.1 1756.60Z" fill="#74c66b" stroke="#74c66b"/>
<rect x="1591.1" y="1697.55" width="90.0" height="59.05" fill="#a6db9d" stroke="#a6db9d"/>
<path d="M1681.1 1697.55L1636.1 1727.07L1681.1 1756.60Z" fill="#8dd07e" stroke="#8dd07e"/>
<path d="M1591.1 1756.60L1636.1 1727.07L1681.1 1756.60Z" fill="#8dd07e" stroke="#8dd07e"/>
<rect x="1681.1" y="1697.55" width="90.0" height="59.05" fill="#bfe5b6" stroke="#bfe5b6"/>
<path d="M1771.1 1697.55L1726.1 1727.07L1771.1 1756.60Z" fill="#a6db9d" stroke="#a6db9d"/>
<path d="M1681.1 1756.60L1726.1 1727.07L1771.1 1756.60Z" fill="#74c66b" stroke="#74c66b"/>
<rect x="1771.1" y="1697.55" width="90.0" height="59.05" fill="#8dd07e" stroke="#8dd07e"/>
<path d="M1861.1 1697.55L1816.1 1727.07L1861.1 1756.60Z" fill="#74c66b" stroke="#74c66b"/>
<path d="M1771.1 1756.60L1816.1 1727.07L1861.1 1756.60Z" fill="#30ac34" stroke="#30ac34"/>
</g>
<path d="M331.1 339.40L421.1 398.45M421.1 339.40L331.1 398.45M421.1 339.40L511.1 398.45M511.1 339.40L421.1 398.45M511.1 339.40L601.1 398.45M601.1 339.40L511.1 398.45M601.1 339.40L691.1 398.45M691.1 339.40L601.1 398.45M691.1 339.40L781.1 398.45M781.1 339.40L691.1 398.45M781.1 339.40L871.1 398.45M871.1 339.40L781.1 398.45M871.1 339.40L961.1 398.45M961.1 339.40L871.1 398.45M961.1 339.40L1051.1 398.45M1051.1 339.40L961.1 398.45M1051.1 339.40L1141.1 398.45M1141.1 339.40L1051.1 398.45M1141.1 339.40L1231.1 398.45M1231.1 339.40L1141.1 398.45M1231.1 339.40L1321.1 398.45M1321.1 339.40L1231.1 398.45M1321.1 339.40L1411.1 398.45M1411.1 339.40L1321.1 398.45M1411.1 339.40L1501.1 398.45M1501.1 339.40L1411.1 398.45M1501.1 339.40L1591.1 398.45M1591.1 339.40L1501.1 398.45M1591.1 339.40L1681.1 398.45M1681.1 339.40L1591.1 398.45M1681.1 339.40L1771.1 398.45M1771.1 339.40L1681.1 398.45M1771.1 339.40L1861.1 398.45M1861.1 339.40L1771.1 398.45M331.1 398.45L421.1 457.50M421.1 398.45L331.1 457.50M421.1 398.45L511.1 457.50M511.1 398.45L421.1 457.50M511.1 398.45L601.1 457.50M601.1 398.45L511.1 457.50M601.1 398.45L691.1 457.50M691.1 398.45L601.1 457.50M691.1 398.45L781.1 457.50M781.1 398.45L691.1 457.50M781.1 398.45L871.1 457.50M871.1 398.45L781.1 457.50M871.1 398.45L961.1 457.50M961.1 398.45L871.1 457.50M961.1 398.45L1051.1 457.50M1051.1 398.45L961.1 457.50M1051.1 398.45L1141.1 457.50M1141.1 398.45L1051.1 457.50M1141.1 398.45L1231.1 457.50M1231.1 398.45L1141.1 457.50M1231.1 398.45L1321.1 457.50M1321.1 398.45L1231.1 457.50M1321.1 398.45L1411.1 457.50M1411.1 398.45L1321.1 457.50M1411.1 398.45L1501.1 457.50M1501.1 398.45L1411.1 457.50M1501.1 398.45L1591.1 457.50M1591.1 398.45L1501.1 457.50M1591.1 398.45L1681.1 457.50M1681.1 398.45L1591.1 457.50M1681.1 398.45L1771.1 457.50M1771.1 398.45L1681.1 457.50M1771.1 398.45L1861.1 457.50M1861.1 398.45L1771.1 457.50M331.1 457.50L421.1 516.55M421.1 457.50L331.1 516.55M421.1 457.50L511.1 516.55M511.1 457.50L421.1 516.55M511.1 457.50L601.1 516.55M601.1 457.50L511.1 516.55M601.1 457.50L691.1 516.55M691.1 457.50L601.1 516.55M691.1 457.50L781.1 516.55M781.1 457.50L691.1 516.55M781.1 457.50L871.1 516.55M871.1 457.50L781.1 516.55M871.1 457.50L961.1 516.55M961.1 457.50L871.1 516.55M961.1 457.50L1051.1 516.55M1051.1 457.50L961.1 516.55M1051.1 457.50L1141.1 516.55M1141.1 457.50L1051.1 516.55M1141.1 457.50L1231.1 516.55M1231.1 457.50L1141.1 516.55M1231.1 457.50L1321.1 516.55M1321.1 457.50L1231.1 516.55M1321.1 457.50L1411.1 516.55M1411.1 457.50L1321.1 516.55M1411.1 457.50L1501.1 516.55M1501.1 457.50L1411.1 516.55M1501.1 457.50L1591.1 516.55M1591.1 457.50L1501.1 516.55M1591.1 457.50L1681.1 516.55M1681.1 457.50L1591.1 516.55M1681.1 457.50L1771.1 516.55M1771.1 457.50L1681.1 516.55M1771.1 457.50L1861.1 516.55M1861.1 457.50L1771.1 516.55M331.1 516.55L421.1 575.60M421.1 516.55L331.1 575.60M421.1 516.55L511.1 575.60M511.1 516.55L421.1 575.60M511.1 516.55L601.1 575.60M601.1 516.55L511.1 575.60M601.1 516.55L691.1 575.60M691.1 516.55L601.1 575.60M691.1 516.55L781.1 575.60M781.1 516.55L691.1 575.60M781.1 516.55L871.1 575.60M871.1 516.55L781.1 575.60M871.1 516.55L961.1 575.60M961.1 516.55L871.1 575.60M961.1 516.55L1051.1 575.60M1051.1 516.55L961.1 575.60M1051.1 516.55L1141.1 575.60M1141.1 516.55L1051.1 575.60M1141.1 516.55L1231.1 575.60M1231.1 516.55L1141.1 575.60M1231.1 516.55L1321.1 575.60M1321.1 516.55L1231.1 575.60M1321.1 516.55L1411.1 575.60M1411.1 516.55L1321.1 575.60M1411.1 516.55L1501.1 575.60M1501.1 516.55L1411.1 575.60M1501.1 516.55L1591.1 575.60M1591.1 516.55L1501.1 575.60M1591.1 516.55L1681.1 575.60M1681.1 516.55L1591.1 575.60M1681.1 516.55L1771.1 575.60M1771.1 516.55L1681.1 575.60M1771.1 516.55L1861.1 575.60M1861.1 516.55L1771.1 575.60M331.1 575.60L421.1 634.65M421.1 575.60L331.1 634.65M421.1 575.60L511.1 634.65M511.1 575.60L421.1 634.65M511.1 575.60L601.1 634.65M601.1 575.60L511.1 634.65M601.1 575.60L691.1 634.65M691.1 575.60L601.1 634.65M691.1 575.60L781.1 634.65M781.1 575.60L691.1 634.65M781.1 575.60L871.1 634.65M871.1 575.60L781.1 634.65M871.1 575.60L961.1 634.65M961.1 575.60L871.1 634.65M961.1 575.60L1051.1 634.65M1051.1 575.60L961.1 634.65M1051.1 575.60L1141.1 634.65M1141.1 575.60L1051.1 634.65M1141.1 575.60L1231.1 634.65M1231.1 575.60L1141.1 634.65M1231.1 575.60L1321.1 634.65M1321.1 575.60L1231.1 634.65M1321.1 575.60L1411.1 634.65M1411.1 575.60L1321.1 634.65M1411.1 575.60L1501.1 634.65M1501.1 575.60L1411.1 634.65M1501.1 575.60L1591.1 634.65M1591.1 575.60L1501.1 634.65M1591.1 575.60L1681.1 634.65M1681.1 575.60L1591.1 634.65M1681.1 575.60L1771.1 634.65M1771.1 575.60L1681.1 634.65M1771.1 575.60L1861.1 634.65M1861.1 575.60L1771.1 634.65M331.1 634.65L421.1 693.70M421.1 634.65L331.1 693.70M421.1 634.65L511.1 693.70M511.1 634.65L421.1 693.70M511.1 634.65L601.1 693.70M601.1 634.65L511.1 693.70M601.1 634.65L691.1 693.70M691.1 634.65L601.1 693.70M691.1 634.65L781.1 693.70M781.1 634.65L691.1 693.70M781.1 634.65L871.1 693.70M871.1 634.65L781.1 693.70M871.1 634.65L961.1 693.70M961.1 634.65L871.1 693.70M961.1 634.65L1051.1 693.70M1051.1 634.65L961.1 693.70M1051.1 634.65L1141.1 693.70M1141.1 634.65L1051.1 693.70M1141.1 634.65L1231.1 693.70M1231.1 634.65L1141.1 693.70M1231.1 634.65L1321.1 693.70M1321.1 634.65L1231.1 693.70M1321.1 634.65L1411.1 693.70M1411.1 634.65L1321.1 693.70M1411.1 634.65L1501.1 693.70M1501.1 634.65L1411.1 693.70M1501.1 634.65L1591.1 693.70M1591.1 634.65L1501.1 693.70M1591.1 634.65L1681.1 693.70M1681.1 634.65L1591.1 693.70M1681.1 634.65L1771.1 693.70M1771.1 634.65L1681.1 693.70M1771.1 634.65L1861.1 693.70M1861.1 634.65L1771.1 693.70M331.1 693.70L421.1 752.75M421.1 693.70L331.1 752.75M421.1 693.70L511.1 752.75M511.1 693.70L421.1 752.75M511.1 693.70L601.1 752.75M601.1 693.70L511.1 752.75M601.1 693.70L691.1 752.75M691.1 693.70L601.1 752.75M691.1 693.70L781.1 752.75M781.1 693.70L691.1 752.75M781.1 693.70L871.1 752.75M871.1 693.70L781.1 752.75M871.1 693.70L961.1 752.75M961.1 693.70L871.1 752.75M961.1 693.70L1051.1 752.75M1051.1 693.70L961.1 752.75M1051.1 693.70L1141.1 752.75M1141.1 693.70L1051.1 752.75M1141.1 693.70L1231.1 752.75M1231.1 693.70L1141.1 752.75M1231.1 693.70L1321.1 752.75M1321.1 693.70L1231.1 752.75M1321.1 693.70L1411.1 752.75M1411.1 693.70L1321.1 752.75M1411.1 693.70L1501.1 752.75M1501.1 693.70L1411.1 752.75M1501.1 693.70L1591.1 752.75M1591.1 693.70L1501.1 752.75M1591.1 693.70L1681.1 752.75M1681.1 693.70L1591.1 752.75M1681.1 693.70L1771.1 752.75M1771.1 693.70L1681.1 752.75M1771.1 693.70L1861.1 752.75M1861.1 693.70L1771.1 752.75M331.1 752.75L421.1 811.80M421.1 752.75L331.1 811.80M421.1 752.75L511.1 811.80M511.1 752.75L421.1 811.80M511.1 752.75L601.1 811.80M601.1 752.75L511.1 811.80M601.1 752.75L691.1 811.80M691.1 752.75L601.1 811.80M691.1 752.75L781.1 811.80M781.1 752.75L691.1 811.80M781.1 752.75L871.1 811.80M871.1 752.75L781.1 811.80M871.1 752.75L961.1 811.80M961.1 752.75L871.1 811.80M961.1 752.75L1051.1 811.80M1051.1 752.75L961.1 811.80M1051.1 752.75L1141.1 811.80M1141.1 752.75L1051.1 811.80M1141.1 752.75L1231.1 811.80M1231.1 752.75L1141.1 811.80M1231.1 752.75L1321.1 811.80M1321.1 752.75L1231.1 811.80M1321.1 752.75L1411.1 811.80M1411.1 752.75L1321.1 811.80M1411.1 752.75L1501.1 811.80M1501.1 752.75L1411.1 811.80M1501.1 752.75L1591.1 811.80M1591.1 752.75L1501.1 811.80M1591.1 752.75L1681.1 811.80M1681.1 752.75L1591.1 811.80M1681.1 752.75L1771.1 811.80M1771.1 752.75L1681.1 811.80M1771.1 752.75L1861.1 811.80M1861.1 752.75L1771.1 811.80M331.1 811.80L421.1 870.85M421.1 811.80L331.1 870.85M421.1 811.80L511.1 870.85M511.1 811.80L421.1 870.85M511.1 811.80L601.1 870.85M601.1 811.80L511.1 870.85M601.1 811.80L691.1 870.85M691.1 811.80L601.1 870.85M691.1 811.80L781.1 870.85M781.1 811.80L691.1 870.85M781.1 811.80L871.1 870.85M871.1 811.80L781.1 870.85M871.1 811.80L961.1 870.85M961.1 811.80L871.1 870.85M961.1 811.80L1051.1 870.85M1051.1 811.80L961.1 870.85M1051.1 811.80L1141.1 870.85M1141.1 811.80L1051.1 870.85M1141.1 811.80L1231.1 870.85M1231.1 811.80L1141.1 870.85M1231.1 811.80L1321.1 870.85M1321.1 811.80L1231.1 870.85M1321.1 811.80L1411.1 870.85M1411.1 811.80L1321.1 870.85M1411.1 811.80L1501.1 870.85M1501.1 811.80L1411.1 870.85M1501.1 811.80L1591.1 870.85M1591.1 811.80L1501.1 870.85M1591.1 811.80L1681.1 870.85M1681.1 811.80L1591.1 870.85M1681.1 811.80L1771.1 870.85M1771.1 811.80L1681.1 870.85M1771.1 811.80L1861.1 870.85M1861.1 811.80L1771.1 870.85M331.1 870.85L421.1 929.90M421.1 870.85L331.1 929.90M421.1 870.85L511.1 929.90M511.1 870.85L421.1 929.90M511.1 870.85L601.1 929.90M601.1 870.85L511.1 929.90M601.1 870.85L691.1 929.90M691.1 870.85L601.1 929.90M691.1 870.85L781.1 929.90M781.1 870.85L691.1 929.90M781.1 870.85L871.1 929.90M871.1 870.85L781.1 929.90M871.1 870.85L961.1 929.90M961.1 870.85L871.1 929.90M961.1 870.85L1051.1 929.90M1051.1 870.85L961.1 929.90M1051.1 870.85L1141.1 929.90M1141.1 870.85L1051.1 929.90M1141.1 870.85L1231.1 929.90M1231.1 870.85L1141.1 929.90M1231.1 870.85L1321.1 929.90M1321.1 870.85L1231.1 929.90M1321.1 870.85L1411.1 929.90M1411.1 870.85L1321.1 929.90M1411.1 870.85L1501.1 929.90M1501.1 870.85L1411.1 929.90M1501.1 870.85L1591.1 929.90M1591.1 870.85L1501.1 929.90M1591.1 870.85L1681.1 929.90M1681.1 870.85L1591.1 929.90M1681.1 870.85L1771.1 929.90M1771.1 870.85L1681.1 929.90M1771.1 870.85L1861.1 929.90M1861.1 870.85L1771.1 929.90M331.1 929.90L421.1 988.95M421.1 929.90L331.1 988.95M421.1 929.90L511.1 988.95M511.1 929.90L421.1 988.95M511.1 929.90L601.1 988.95M601.1 929.90L511.1 988.95M601.1 929.90L691.1 988.95M691.1 929.90L601.1 988.95M691.1 929.90L781.1 988.95M781.1 929.90L691.1 988.95M781.1 929.90L871.1 988.95M871.1 929.90L781.1 988.95M871.1 929.90L961.1 988.95M961.1 929.90L871.1 988.95M961.1 929.90L1051.1 988.95M1051.1 929.90L961.1 988.95M1051.1 929.90L1141.1 988.95M1141.1 929.90L1051.1 988.95M1141.1 929.90L1231.1 988.95M1231.1 929.90L1141.1 988.95M1231.1 929.90L1321.1 988.95M1321.1 929.90L1231.1 988.95M1321.1 929.90L1411.1 988.95M1411.1 929.90L1321.1 988.95M1411.1 929.90L1501.1 988.95M1501.1 929.90L1411.1 988.95M1501.1 929.90L1591.1 988.95M1591.1 929.90L1501.1 988.95M1591.1 929.90L1681.1 988.95M1681.1 929.90L1591.1 988.95M1681.1 929.90L1771.1 988.95M1771.1 929.90L1681.1 988.95M1771.1 929.90L1861.1 988.95M1861.1 929.90L1771.1 988.95M331.1 988.95L421.1 1048.00M421.1 988.95L331.1 1048.00M421.1 988.95L511.1 1048.00M511.1 988.95L421.1 1048.00M511.1 988.95L601.1 1048.00M601.1 988.95L511.1 1048.00M601.1 988.95L691.1 1048.00M691.1 988.95L601.1 1048.00M691.1 988.95L781.1 1048.00M781.1 988.95L691.1 1048.00M781.1 988.95L871.1 1048.00M871.1 988.95L781.1 1048.00M871.1 988.95L961.1 1048.00M961.1 988.95L871.1 1048.00M961.1 988.95L1051.1 1048.00M1051.1 988.95L961.1 1048.00M1051.1 988.95L1141.1 1048.00M1141.1 988.95L1051.1 1048.00M1141.1 988.95L1231.1 1048.00M1231.1 988.95L1141.1 1048.00M1231.1 988.95L1321.1 1048.00M1321.1 988.95L1231.1 1048.00M1321.1 988.95L1411.1 1048.00M1411.1 988.95L1321.1 1048.00M1411.1 988.95L1501.1 1048.00M1501.1 988.95L1411.1 1048.00M1501.1 988.95L1591.1 1048.00M1591.1 988.95L1501.1 1048.00M1591.1 988.95L1681.1 1048.00M1681.1 988.95L1591.1 1048.00M1681.1 988.95L1771.1 1048.00M1771.1 988.95L1681.1 1048.00M1771.1 988.95L1861.1 1048.00M1861.1 988.95L1771.1 1048.00M331.1 1048.00L421.1 1107.05M421.1 1048.00L331.1 1107.05M421.1 1048.00L511.1 1107.05M511.1 1048.00L421.1 1107.05M511.1 1048.00L601.1 1107.05M601.1 1048.00L511.1 1107.05M601.1 1048.00L691.1 1107.05M691.1 1048.00L601.1 1107.05M691.1 1048.00L781.1 1107.05M781.1 1048.00L691.1 1107.05M781.1 1048.00L871.1 1107.05M871.1 1048.00L781.1 1107.05M871.1 1048.00L961.1 1107.05M961.1 1048.00L871.1 1107.05M961.1 1048.00L1051.1 1107.05M1051.1 1048.00L961.1 1107.05M1051.1 1048.00L1141.1 1107.05M1141.1 1048.00L1051.1 1107.05M1141.1 1048.00L1231.1 1107.05M1231.1 1048.00L1141.1 1107.05M1231.1 1048.00L1321.1 1107.05M1321.1 1048.00L1231.1 1107.05M1321.1 1048.00L1411.1 1107.05M1411.1 1048.00L1321.1 1107.05M1411.1 1048.00L1501.1 1107.05M1501.1 1048.00L1411.1 1107.05M1501.1 1048.00L1591.1 1107.05M1591.1 1048.00L1501.1 1107.05M1591.1 1048.00L1681.1 1107.05M1681.1 1048.00L1591.1 1107.05M1681.1 1048.00L1771.1 1107.05M1771.1 1048.00L1681.1 1107.05M1771.1 1048.00L1861.1 1107.05M1861.1 1048.00L1771.1 1107.05M331.1 1107.05L421.1 1166.10M421.1 1107.05L331.1 1166.10M421.1 1107.05L511.1 1166.10M511.1 1107.05L421.1 1166.10M511.1 1107.05L601.1 1166.10M601.1 1107.05L511.1 1166.10M601.1 1107.05L691.1 1166.10M691.1 1107.05L601.1 1166.10M691.1 1107.05L781.1 1166.10M781.1 1107.05L691.1 1166.10M781.1 1107.05L871.1 1166.10M871.1 1107.05L781.1 1166.10M871.1 1107.05L961.1 1166.10M961.1 1107.05L871.1 1166.10M961.1 1107.05L1051.1 1166.10M1051.1 1107.05L961.1 1166.10M1051.1 1107.05L1141.1 1166.10M1141.1 1107.05L1051.1 1166.10M1141.1 1107.05L1231.1 1166.10M1231.1 1107.05L1141.1 1166.10M1231.1 1107.05L1321.1 1166.10M1321.1 1107.05L1231.1 1166.10M1321.1 1107.05L1411.1 1166.10M1411.1 1107.05L1321.1 1166.10M1411.1 1107.05L1501.1 1166.10M1501.1 1107.05L1411.1 1166.10M1501.1 1107.05L1591.1 1166.10M1591.1 1107.05L1501.1 1166.10M1591.1 1107.05L1681.1 1166.10M1681.1 1107.05L1591.1 1166.10M1681.1 1107.05L1771.1 1166.10M1771.1 1107.05L1681.1 1166.10M1771.1 1107.05L1861.1 1166.10M1861.1 1107.05L1771.1 1166.10M331.1 1166.10L421.1 1225.15M421.1 1166.10L331.1 1225.15M421.1 1166.10L511.1 1225.15M511.1 1166.10L421.1 1225.15M511.1 1166.10L601.1 1225.15M601.1 1166.10L511.1 1225.15M601.1 1166.10L691.1 1225.15M691.1 1166.10L601.1 1225.15M691.1 1166.10L781.1 1225.15M781.1 1166.10L691.1 1225.15M781.1 1166.10L871.1 1225.15M871.1 1166.10L781.1 1225.15M871.1 1166.10L961.1 1225.15M961.1 1166.10L871.1 1225.15M961.1 1166.10L1051.1 1225.15M1051.1 1166.10L961.1 1225.15M1051.1 1166.10L1141.1 1225.15M1141.1 1166.10L1051.1 1225.15M1141.1 1166.10L1231.1 1225.15M1231.1 1166.10L1141.1 1225.15M1231.1 1166.10L1321.1 1225.15M1321.1 1166.10L1231.1 1225.15M1321.1 1166.10L1411.1 1225.15M1411.1 1166.10L1321.1 1225.15M1411.1 1166.10L1501.1 1225.15M1501.1 1166.10L1411.1 1225.15M1501.1 1166.10L1591.1 1225.15M1591.1 1166.10L1501.1 1225.15M1591.1 1166.10L1681.1 1225.15M1681.1 1166.10L1591.1 1225.15M1681.1 1166.10L1771.1 1225.15M1771.1 1166.10L1681.1 1225.15M1771.1 1166.10L1861.1 1225.15M1861.1 1166.10L1771.1 1225.15M331.1 1225.15L421.1 1284.20M421.1 1225.15L331.1 1284.20M421.1 1225.15L511.1 1284.20M511.1 1225.15L421.1 1284.20M511.1 1225.15L601.1 1284.20M601.1 1225.15L511.1 1284.20M601.1 1225.15L691.1 1284.20M691.1 1225.15L601.1 1284.20M691.1 1225.15L781.1 1284.20M781.1 1225.15L691.1 1284.20M781.1 1225.15L871.1 1284.20M871.1 1225.15L781.1 1284.20M871.1 1225.15L961.1 1284.20M961.1 1225.15L871.1 1284.20M961.1 1225.15L1051.1 1284.20M1051.1 1225.15L961.1 1284.20M1051.1 1225.15L1141.1 1284.20M1141.1 1225.15L1051.1 1284.20M1141.1 1225.15L1231.1 1284.20M1231.1 1225.15L1141.1 1284.20M1231.1 1225.15L1321.1 1284.20M1321.1 1225.15L1231.1 1284.20M1321.1 1225.15L1411.1 1284.20M1411.1 1225.15L1321.1 1284.20M1411.1 1225.15L1501.1 1284.20M1501.1 1225.15L1411.1 1284.20M1501.1 1225.15L1591.1 1284.20M1591.1 1225.15L1501.1 1284.20M1591.1 1225.15L1681.1 1284.20M1681.1 1225.15L1591.1 1284.20M1681.1 1225.15L1771.1 1284.20M1771.1 1225.15L1681.1 1284.20M1771.1 1225.15L1861.1 1284.20M1861.1 1225.15L1771.1 1284.20M331.1 1284.20L421.1 1343.25M421.1 1284.20L331.1 1343.25M421.1 1284.20L511.1 1343.25M511.1 1284.20L421.1 1343.25M511.1 1284.20L601.1 1343.25M601.1 1284.20L511.1 1343.25M601.1 1284.20L691.1 1343.25M691.1 1284.20L601.1 1343.25M691.1 1284.20L781.1 1343.25M781.1 1284.20L691.1 1343.25M781.1 1284.20L871.1 1343.25M871.1 1284.20L781.1 1343.25M871.1 1284.20L961.1 1343.25M961.1 1284.20L871.1 1343.25M961.1 1284.20L1051.1 1343.25M1051.1 1284.20L961.1 1343.25M1051.1 1284.20L1141.1 1343.25M1141.1 1284.20L1051.1 1343.25M1141.1 1284.20L1231.1 1343.25M1231.1 1284.20L1141.1 1343.25M1231.1 1284.20L1321.1 1343.25M1321.1 1284.20L1231.1 1343.25M1321.1 1284.20L1411.1 1343.25M1411.1 1284.20L1321.1 1343.25M1411.1 1284.20L1501.1 1343.25M1501.1 1284.20L1411.1 1343.25M1501.1 1284.20L1591.1 1343.25M1591.1 1284.20L1501.1 1343.25M1591.1 1284.20L1681.1 1343.25M1681.1 1284.20L1591.1 1343.25M1681.1 1284.20L1771.1 1343.25M1771.1 1284.20L1681.1 1343.25M1771.1 1284.20L1861.1 1343.25M1861.1 1284.20L1771.1 1343.25M331.1 1343.25L421.1 1402.30M421.1 1343.25L331.1 1402.30M421.1 1343.25L511.1 1402.30M511.1 1343.25L421.1 1402.30M511.1 1343.25L601.1 1402.30M601.1 1343.25L511.1 1402.30M601.1 1343.25L691.1 1402.30M691.1 1343.25L601.1 1402.30M691.1 1343.25L781.1 1402.30M781.1 1343.25L691.1 1402.30M781.1 1343.25L871.1 1402.30M871.1 1343.25L781.1 1402.30M871.1 1343.25L961.1 1402.30M961.1 1343.25L871.1 1402.30M961.1 1343.25L1051.1 1402.30M1051.1 1343.25L961.1 1402.30M1051.1 1343.25L1141.1 1402.30M1141.1 1343.25L1051.1 1402.30M1141.1 1343.25L1231.1 1402.30M1231.1 1343.25L1141.1 1402.30M1231.1 1343.25L1321.1 1402.30M1321.1 1343.25L1231.1 1402.30M1321.1 1343.25L1411.1 1402.30M1411.1 1343.25L1321.1 1402.30M1411.1 1343.25L1501.1 1402.30M1501.1 1343.25L1411.1 1402.30M1501.1 1343.25L1591.1 1402.30M1591.1 1343.25L1501.1 1402.30M1591.1 1343.25L1681.1 1402.30M1681.1 1343.25L1591.1 1402.30M1681.1 1343.25L1771.1 1402.30M1771.1 1343.25L1681.1 1402.30M1771.1 1343.25L1861.1 1402.30M1861.1 1343.25L1771.1 1402.30M331.1 1402.30L421.1 1461.35M421.1 1402.30L331.1 1461.35M421.1 1402.30L511.1 1461.35M511.1 1402.30L421.1 1461.35M511.1 1402.30L601.1 1461.35M601.1 1402.30L511.1 1461.35M601.1 1402.30L691.1 1461.35M691.1 1402.30L601.1 1461.35M691.1 1402.30L781.1 1461.35M781.1 1402.30L691.1 1461.35M781.1 1402.30L871.1 1461.35M871.1 1402.30L781.1 1461.35M871.1 1402.30L961.1 1461.35M961.1 1402.30L871.1 1461.35M961.1 1402.30L1051.1 1461.35M1051.1 1402.30L961.1 1461.35M1051.1 1402.30L1141.1 1461.35M1141.1 1402.30L1051.1 1461.35M1141.1 1402.30L1231.1 1461.35M1231.1 1402.30L1141.1 1461.35M1231.1 1402.30L1321.1 1461.35M1321.1 1402.30L1231.1 1461.35M1321.1 1402.30L1411.1 1461.35M1411.1 1402.30L1321.1 1461.35M1411.1 1402.30L1501.1 1461.35M1501.1 1402.30L1411.1 1461.35M1501.1 1402.30L1591.1 1461.35M1591.1 1402.30L1501.1 1461.35M1591.1 1402.30L1681.1 1461.35M1681.1 1402.30L1591.1 1461.35M1681.1 1402.30L1771.1 1461.35M1771.1 1402.30L1681.1 1461.35M1771.1 1402.30L1861.1 1461.35M1861.1 1402.30L1771.1 1461.35M331.1 1461.35L421.1 1520.40M421.1 1461.35L331.1 1520.40M421.1 1461.35L511.1 1520.40M511.1 1461.35L421.1 1520.40M511.1 1461.35L601.1 1520.40M601.1 1461.35L511.1 1520.40M601.1 1461.35L691.1 1520.40M691.1 1461.35L601.1 1520.40M691.1 1461.35L781.1 1520.40M781.1 1461.35L691.1 1520.40M781.1 1461.35L871.1 1520.40M871.1 1461.35L781.1 1520.40M871.1 1461.35L961.1 1520.40M961.1 1461.35L871.1 1520.40M961.1 1461.35L1051.1 1520.40M1051.1 1461.35L961.1 1520.40M1051.1 1461.35L1141.1 1520.40M1141.1 1461.35L1051.1 1520.40M1141.1 1461.35L1231.1 1520.40M1231.1 1461.35L1141.1 1520.40M1231.1 1461.35L1321.1 1520.40M1321.1 1461.35L1231.1 1520.40M1321.1 1461.35L1411.1 1520.40M1411.1 1461.35L1321.1 1520.40M1411.1 1461.35L1501.1 1520.40M1501.1 1461.35L1411.1 1520.40M1501.1 1461.35L1591.1 1520.40M1591.1 1461.35L1501.1 1520.40M1591.1 1461.35L1681.1 1520.40M1681.1 1461.35L1591.1 1520.40M1681.1 1461.35L1771.1 1520.40M1771.1 1461.35L1681.1 1520.40M1771.1 1461.35L1861.1 1520.40M1861.1 1461.35L1771.1 1520.40M331.1 1520.40L421.1 1579.45M421.1 1520.40L331.1 1579.45M421.1 1520.40L511.1 1579.45M511.1 1520.40L421.1 1579.45M511.1 1520.40L601.1 1579.45M601.1 1520.40L511.1 1579.45M601.1 1520.40L691.1 1579.45M691.1 1520.40L601.1 1579.45M691.1 1520.40L781.1 1579.45M781.1 1520.40L691.1 1579.45M781.1 1520.40L871.1 1579.45M871.1 1520.40L781.1 1579.45M871.1 1520.40L961.1 1579.45M961.1 1520.40L871.1 1579.45M961.1 1520.40L1051.1 1579.45M1051.1 1520.40L961.1 1579.45M1051.1 1520.40L1141.1 1579.45M1141.1 1520.40L1051.1 1579.45M1141.1 1520.40L1231.1 1579.45M1231.1 1520.40L1141.1 1579.45M1231.1 1520.40L1321.1 1579.45M1321.1 1520.40L1231.1 1579.45M1321.1 1520.40L1411.1 1579.45M1411.1 1520.40L1321.1 1579.45M1411.1 1520.40L1501.1 1579.45M1501.1 1520.40L1411.1 1579.45M1501.1 1520.40L1591.1 1579.45M1591.1 1520.40L1501.1 1579.45M1591.1 1520.40L1681.1 1579.45M1681.1 1520.40L1591.1 1579.45M1681.1 1520.40L1771.1 1579.45M1771.1 1520.40L1681.1 1579.45M1771.1 1520.40L1861.1 1579.45M1861.1 1520.40L1771.1 1579.45M331.1 1579.45L421.1 1638.50M421.1 1579.45L331.1 1638.50M421.1 1579.45L511.1 1638.50M511.1 1579.45L421.1 1638.50M511.1 1579.45L601.1 1638.50M601.1 1579.45L511.1 1638.50M601.1 1579.45L691.1 1638.50M691.1 1579.45L601.1 1638.50M691.1 1579.45L781.1 1638.50M781.1 1579.45L691.1 1638.50M781.1 1579.45L871.1 1638.50M871.1 1579.45L781.1 1638.50M871.1 1579.45L961.1 1638.50M961.1 1579.45L871.1 1638.50M961.1 1579.45L1051.1 1638.50M1051.1 1579.45L961.1 1638.50M1051.1 1579.45L1141.1 1638.50M1141.1 1579.45L1051.1 1638.50M1141.1 1579.45L1231.1 1638.50M1231.1 1579.45L1141.1 1638.50M1231.1 1579.45L1321.1 1638.50M1321.1 1579.45L1231.1 1638.50M1321.1 1579.45L1411.1 1638.50M1411.1 1579.45L1321.1 1638.50M1411.1 1579.45L1501.1 1638.50M1501.1 1579.45L1411.1 1638.50M1501.1 1579.45L1591.1 1638.50M1591.1 1579.45L1501.1 1638.50M1591.1 1579.45L1681.1 1638.50M1681.1 1579.45L1591.1 1638.50M1681.1 1579.45L1771.1 1638.50M1771.1 1579.45L1681.1 1638.50M1771.1 1579.45L1861.1 1638.50M1861.1 1579.45L1771.1 1638.50M331.1 1638.50L421.1 1697.55M421.1 1638.50L331.1 1697.55M421.1 1638.50L511.1 1697.55M511.1 1638.50L421.1 1697.55M511.1 1638.50L601.1 1697.55M601.1 1638.50L511.1 1697.55M601.1 1638.50L691.1 1697.55M691.1 1638.50L601.1 1697.55M691.1 1638.50L781.1 1697.55M781.1 1638.50L691.1 1697.55M781.1 1638.50L871.1 1697.55M871.1 1638.50L781.1 1697.55M871.1 1638.50L961.1 1697.55M961.1 1638.50L871.1 1697.55M961.1 1638.50L1051.1 1697.55M1051.1 1638.50L961.1 1697.55M1051.1 1638.50L1141.1 1697.55M1141.1 1638.50L1051.1 1697.55M1141.1 1638.50L1231.1 1697.55M1231.1 1638.50L1141.1 1697.55M1231.1 1638.50L1321.1 1697.55M1321.1 1638.50L1231.1 1697.55M1321.1 1638.50L1411.1 1697.55M1411.1 1638.50L1321.1 1697.55M1411.1 1638.50L1501.1 1697.55M1501.1 1638.50L1411.1 1697.55M1501.1 1638.50L1591.1 1697.55M1591.1 1638.50L1501.1 1697.55M1591.1 1638.50L1681.1 1697.55M1681.1 1638.50L1591.1 1697.55M1681.1 1638.50L1771.1 1697.55M1771.1 1638.50L1681.1 1697.55M1771.1 1638.50L1861.1 1697.55M1861.1 1638.50L1771.1 1697.55M331.1 1697.55L421.1 1756.60M421.1 1697.55L331.1 1756.60M421.1 1697.55L511.1 1756.60M511.1 1697.55L421.1 1756.60M511.1 1697.55L601.1 1756.60M601.1 1697.55L511.1 1756.60M601.1 1697.55L691.1 1756.60M691.1 1697.55L601.1 1756.60M691.1 1697.55L781.1 1756.60M781.1 1697.55L691.1 1756.60M781.1 1697.55L871.1 1756.60M871.1 1697.55L781.1 1756.60M871.1 1697.55L961.1 1756.60M961.1 1697.55L871.1 1756.60M961.1 1697.55L1051.1 1756.60M1051.1 1697.55L961.1 1756.60M1051.1 1697.55L1141.1 1756.60M1141.1 1697.55L1051.1 1756.60M1141.1 1697.55L1231.1 1756.60M1231.1 1697.55L1141.1 1756.60M1231.1 1697.55L1321.1 1756.60M1321.1 1697.55L1231.1 1756.60M1321.1 1697.55L1411.1 1756.60M1411.1 1697.55L1321.1 1756.60M1411.1 1697.55L1501.1 1756.60M1501.1 1697.55L1411.1 1756.60M1501.1 1697.55L1591.1 1756.60M1591.1 1697.55L1501.1 1756.60M1591.1 1697.55L1681.1 1756.60M1681.1 1697.55L1591.1 1756.60M1681.1 1697.55L1771.1 1756.60M1771.1 1697.55L1681.1 1756.60M1771.1 1697.55L1861.1 1756.60M1861.1 1697.55L1771.1 1756.60" stroke="#fff" stroke-opacity="0.09" stroke-width="0.7" stroke-dasharray="1.6 1.2" fill="none"/>
<path d="M421.1 339.4V1756.6M511.1 339.4V1756.6M601.1 339.4V1756.6M691.1 339.4V1756.6M781.1 339.4V1756.6M871.1 339.4V1756.6M961.1 339.4V1756.6M1051.1 339.4V1756.6M1141.1 339.4V1756.6M1231.1 339.4V1756.6M1321.1 339.4V1756.6M1411.1 339.4V1756.6M1501.1 339.4V1756.6M1591.1 339.4V1756.6M1681.1 339.4V1756.6M1771.1 339.4V1756.6" stroke="#d9d9d9" stroke-width="2.1" fill="none"/>
<path d="M331.1 398.45H1861.1M331.1 457.50H1861.1M331.1 516.55H1861.1M331.1 575.60H1861.1M331.1 634.65H1861.1M331.1 693.70H1861.1M331.1 752.75H1861.1M331.1 811.80H1861.1M331.1 870.85H1861.1M331.1 929.90H1861.1M331.1 988.95H1861.1M331.1 1048.00H1861.1M331.1 1107.05H1861.1M331.1 1166.10H1861.1M331.1 1225.15H1861.1M331.1 1284.20H1861.1M331.1 1343.25H1861.1M331.1 1402.30H1861.1M331.1 1461.35H1861.1M331.1 1520.40H1861.1M331.1 1579.45H1861.1M331.1 1638.50H1861.1M331.1 1697.55H1861.1" stroke="#d9d9d9" stroke-width="2.6" fill="none"/>
<path d="M3.5 3.0V1756.6M3.0 3.5H1861.1" stroke="#000" stroke-opacity="0.36" stroke-width="1" fill="none"/>
<path d="M3.0 1756.9H1862.1" stroke="#000" stroke-width="2.1" fill="none"/>
<path d="M331.1 3.0V339.4M421.1 3.0V339.4M511.1 3.0V339.4M601.1 3.0V339.4M691.1 3.0V339.4M781.1 3.0V339.4M871.1 3.0V339.4M961.1 3.0V339.4M1051.1 3.0V339.4M1141.1 3.0V339.4M1231.1 3.0V339.4M1321.1 3.0V339.4M1411.1 3.0V339.4M1501.1 3.0V339.4M1591.1 3.0V339.4M1681.1 3.0V339.4M1771.1 3.0V339.4M1861.1 3.0V339.4M331.1 339.4V1756.6M1861.1 339.4V1756.6M61.2 339.40V988.95M61.2 1048.00V1697.55" stroke="#000" stroke-width="2.1" fill="none"/>
<path d="M3.0 339.4H1862.1M61.2 398.45H331.1M61.2 457.50H331.1M61.2 516.55H331.1M61.2 575.60H331.1M61.2 634.65H331.1M61.2 693.70H331.1M61.2 752.75H331.1M61.2 811.80H331.1M61.2 870.85H331.1M61.2 929.90H331.1M3.0 988.95H331.1M61.2 1107.05H331.1M61.2 1166.10H331.1M61.2 1225.15H331.1M61.2 1284.20H331.1M61.2 1343.25H331.1M61.2 1402.30H331.1M61.2 1461.35H331.1M61.2 1520.40H331.1M61.2 1579.45H331.1M61.2 1638.50H331.1M3.0 1697.55H331.1" stroke="#000" stroke-width="2.6" fill="none"/>
<path d="M2.9 1048.20H1861.1" stroke="#000" stroke-width="6.8" fill="none"/>
<path d="M1853.1 1048.20H1860.7" stroke="#000" stroke-width="6.8" stroke-linecap="round" fill="none"/>
<text transform="translate(88.62 187.71) scale(0.9337 1)" font-size="49.44">Season</text>
<text transform="translate(390.57 331.70) rotate(-90) scale(0.9358 1)" font-size="42.96">ACCESS-ESM1-5</text>
<text transform="translate(480.57 262.08) rotate(-90) scale(0.9340 1)" font-size="42.96">CanESM5</text>
<text transform="translate(570.57 334.82) rotate(-90) scale(0.9358 1)" font-size="42.96">CanESM5-CanOE</text>
<text transform="translate(660.57 239.50) rotate(-90) scale(0.9326 1)" font-size="42.96">CESM2</text>
<text transform="translate(750.57 323.13) rotate(-90) scale(0.9356 1)" font-size="42.96">CESM2-WACCM</text>
<text transform="translate(840.57 306.46) rotate(-90) scale(0.9138 1)" font-size="42.96">CNRM-ESM2-1</text>
<text transform="translate(930.57 273.46) rotate(-90) scale(0.9344 1)" font-size="42.96">GFDL-CM4</text>
<text transform="translate(1020.57 285.85) rotate(-90) scale(0.9348 1)" font-size="42.96">GFDL-ESM4</text>
<text transform="translate(1110.57 309.73) rotate(-90) scale(0.9354 1)" font-size="42.96">IPSL-CM6A-LR</text>
<text transform="translate(1200.57 294.21) rotate(-90) scale(0.9350 1)" font-size="42.96">MIROC-ES2L</text>
<text transform="translate(1290.57 318.50) rotate(-90) scale(0.9355 1)" font-size="42.96">MPI-ESM1-2-LR</text>
<text transform="translate(1380.57 321.82) rotate(-90) scale(0.9356 1)" font-size="42.96">MPI-ESM1-2-HR</text>
<text transform="translate(1470.57 287.36) rotate(-90) scale(0.9348 1)" font-size="42.96">MRI-ESM2-0</text>
<text transform="translate(1560.57 292.10) rotate(-90) scale(0.9350 1)" font-size="42.96">NorESM2-LM</text>
<text transform="translate(1650.57 297.64) rotate(-90) scale(0.9351 1)" font-size="42.96">NorESM2-MM</text>
<text transform="translate(1740.57 300.86) rotate(-90) scale(0.9352 1)" font-size="42.96">UKESM1-0-LL</text>
<text transform="translate(1830.57 275.17) rotate(-90) scale(0.9344 1)" font-size="42.96">INM-CM4-8</text>
<text transform="translate(45.20 689.35) rotate(-90) scale(0.9225 1)" font-size="39.72">SD</text>
<text transform="translate(45.20 1427.65) rotate(-90) scale(0.9328 1)" font-size="39.72">CORR</text>
<text class="d" transform="translate(147.96 375.15) scale(1.5868 1)" font-size="43.55">u</text>
<text transform="translate(189.22 383.44) scale(1.0197 1)" font-size="25.92">10m</text>
<text class="d" stroke="#000" stroke-width="0.6" stroke-linejoin="round" transform="translate(154.11 434.57) scale(1.1327 1)" font-size="43.88">v</text>
<text transform="translate(186.02 442.49) scale(1.0176 1)" font-size="25.92">10m</text>
<text class="d" stroke="#000" stroke-width="0.6" stroke-linejoin="round" transform="translate(167.23 498.59) scale(0.9419 1)" font-size="47.63">t</text>
<text transform="translate(186.04 507.20) scale(1.0437 1)" font-size="26.00">2m</text>
<text class="d" stroke="#000" stroke-width="0.6" stroke-linejoin="round" transform="translate(160.09 553.04) scale(1.0424 1)" font-size="44.83">q</text>
<text transform="translate(191.55 560.05) scale(1.0350 1)" font-size="26.14">2m</text>
<text class="d" stroke="#000" stroke-width="0.6" stroke-linejoin="round" transform="translate(179.55 622.00) scale(1.1058 1)" font-size="45.48">P</text>
<text transform="translate(154.28 680.31) scale(0.9837 1)" font-size="44.08">rsds</text>
<text transform="translate(160.37 738.96) scale(0.9963 1)" font-size="43.67">rlds</text>
<text class="m" transform="translate(137.16 794.27) scale(1.0653 1)" font-size="47.61">θ</text>
<text transform="translate(164.80 802.48) scale(1.0090 1)" font-size="26.53">surface</text>
<text class="m" transform="translate(114.28 853.13) scale(1.1036 1)" font-size="47.46">θ</text>
<text transform="translate(142.40 861.54) scale(1.0132 1)" font-size="26.39">above1500</text>
<text class="m" transform="translate(135.56 912.44) scale(1.2584 1)" font-size="51.19">S</text>
<text transform="translate(168.60 920.48) scale(1.0067 1)" font-size="26.53">surface</text>
<text class="m" transform="translate(113.06 971.40) scale(1.2728 1)" font-size="50.45">S</text>
<text transform="translate(146.30 979.54) scale(1.0108 1)" font-size="26.39">above1500</text>
<text transform="translate(104.91 1032.45) scale(0.9334 1)" font-size="40.14">cRMSL</text>
<text class="d" transform="translate(147.96 1083.75) scale(1.5868 1)" font-size="43.55">u</text>
<text transform="translate(189.22 1092.04) scale(1.0197 1)" font-size="25.92">10m</text>
<text class="d" stroke="#000" stroke-width="0.6" stroke-linejoin="round" transform="translate(154.11 1143.17) scale(1.1327 1)" font-size="43.88">v</text>
<text transform="translate(186.02 1151.09) scale(1.0176 1)" font-size="25.92">10m</text>
<text class="d" stroke="#000" stroke-width="0.6" stroke-linejoin="round" transform="translate(167.23 1207.19) scale(0.9419 1)" font-size="47.63">t</text>
<text transform="translate(186.04 1215.80) scale(1.0437 1)" font-size="26.00">2m</text>
<text class="d" stroke="#000" stroke-width="0.6" stroke-linejoin="round" transform="translate(160.09 1261.64) scale(1.0424 1)" font-size="44.83">q</text>
<text transform="translate(191.55 1268.65) scale(1.0350 1)" font-size="26.14">2m</text>
<text class="d" stroke="#000" stroke-width="0.6" stroke-linejoin="round" transform="translate(179.55 1330.60) scale(1.1058 1)" font-size="45.48">P</text>
<text transform="translate(154.28 1388.91) scale(0.9837 1)" font-size="44.08">rsds</text>
<text transform="translate(160.37 1447.56) scale(0.9963 1)" font-size="43.67">rlds</text>
<text class="m" transform="translate(137.16 1502.87) scale(1.0653 1)" font-size="47.61">θ</text>
<text transform="translate(164.80 1511.08) scale(1.0090 1)" font-size="26.53">surface</text>
<text class="m" transform="translate(114.28 1561.73) scale(1.1036 1)" font-size="47.46">θ</text>
<text transform="translate(142.40 1570.14) scale(1.0132 1)" font-size="26.39">above1500</text>
<text class="m" transform="translate(135.56 1621.04) scale(1.2584 1)" font-size="51.19">S</text>
<text transform="translate(168.60 1629.08) scale(1.0067 1)" font-size="26.53">surface</text>
<text class="m" transform="translate(113.06 1680.00) scale(1.2728 1)" font-size="50.45">S</text>
<text transform="translate(146.30 1688.14) scale(1.0108 1)" font-size="26.39">above1500</text>
<text transform="translate(118.93 1741.44) scale(0.9141 1)" font-size="40.70">cVSC</text>
<path d="M3.1 1775.05H1861.85M3.1 2045.0H1861.85" stroke="#d4d4d4" stroke-width="2" fill="none"/>
<path d="M1861.0 1775.05V2045.0" stroke="#d4d4d4" stroke-width="1.7" fill="none"/>
<path d="M3.5 1775.05V2045.0" stroke="#d4d4d4" stroke-width="0.5" fill="none"/>
<path d="M15.5 1819.7L289.7 1999.8M289.7 1819.7L15.5 1999.8" stroke="#000" stroke-width="2.4" fill="none"/>
<path d="M14.2 1819.7H291.0M14.2 1999.8H291.0" stroke="#000" stroke-width="3.0" fill="none"/>
<path d="M15.5 1819.7V1999.8M289.7 1819.7V1999.8" stroke="#000" stroke-width="2.6" fill="none"/>
<text transform="translate(123.53 1860.68) scale(0.9615 1)" font-size="32.14">DJF</text>
<text transform="translate(127.24 1981.58) scale(0.9617 1)" font-size="31.57">JJA</text>
<text transform="translate(19.28 1921.50) scale(0.9739 1)" font-size="32.32">MAM</text>
<text transform="translate(218.51 1921.96) scale(0.9165 1)" font-size="33.80">SON</text>
<text transform="translate(302.40 1862.98) scale(0.9619 1)" font-size="32.24">SD/cRMSL</text>
<text transform="translate(302.26 1979.98) scale(0.9611 1)" font-size="32.11">CORR/cVSC</text>
<rect x="520.00" y="1815.5" width="41.32" height="32.5" fill="#1c6ab0" stroke="#000" stroke-width="2.2" stroke-linejoin="round"/>
<rect x="561.32" y="1815.5" width="41.32" height="32.5" fill="#2777b8" stroke="#000" stroke-width="2.2" stroke-linejoin="round"/>
<rect x="602.64" y="1815.5" width="41.32" height="32.5" fill="#3585bf" stroke="#000" stroke-width="2.2" stroke-linejoin="round"/>
<rect x="643.96" y="1815.5" width="41.32" height="32.5" fill="#4191c6" stroke="#000" stroke-width="2.2" stroke-linejoin="round"/>
<rect x="685.27" y="1815.5" width="41.32" height="32.5" fill="#529dcc" stroke="#000" stroke-width="2.2" stroke-linejoin="round"/>
<rect x="726.59" y="1815.5" width="41.32" height="32.5" fill="#63a8d3" stroke="#000" stroke-width="2.2" stroke-linejoin="round"/>
<rect x="767.91" y="1815.5" width="41.32" height="32.5" fill="#75b4d8" stroke="#000" stroke-width="2.2" stroke-linejoin="round"/>
<rect x="809.23" y="1815.5" width="41.32" height="32.5" fill="#8abfdd" stroke="#000" stroke-width="2.2" stroke-linejoin="round"/>
<rect x="850.55" y="1815.5" width="41.32" height="32.5" fill="#9dcae1" stroke="#000" stroke-width="2.2" stroke-linejoin="round"/>
<rect x="891.87" y="1815.5" width="41.32" height="32.5" fill="#aed1e7" stroke="#000" stroke-width="2.2" stroke-linejoin="round"/>
<rect x="933.19" y="1815.5" width="41.32" height="32.5" fill="#bed8ec" stroke="#000" stroke-width="2.2" stroke-linejoin="round"/>
<rect x="974.51" y="1815.5" width="41.32" height="32.5" fill="#cbdef1" stroke="#000" stroke-width="2.2" stroke-linejoin="round"/>
<rect x="1015.83" y="1815.5" width="41.32" height="32.5" fill="#d5e5f4" stroke="#000" stroke-width="2.2" stroke-linejoin="round"/>
<rect x="1057.14" y="1815.5" width="41.32" height="32.5" fill="#deebf7" stroke="#000" stroke-width="2.2" stroke-linejoin="round"/>
<rect x="1098.46" y="1815.5" width="41.32" height="32.5" fill="#e8f1fa" stroke="#000" stroke-width="2.2" stroke-linejoin="round"/>
<rect x="1139.78" y="1815.5" width="41.32" height="32.5" fill="#ffffff" stroke="#000" stroke-width="2.2" stroke-linejoin="round"/>
<rect x="1181.10" y="1815.5" width="41.32" height="32.5" fill="#ffffff" stroke="#000" stroke-width="2.2" stroke-linejoin="round"/>
<rect x="1222.42" y="1815.5" width="41.32" height="32.5" fill="#fee8de" stroke="#000" stroke-width="2.2" stroke-linejoin="round"/>
<rect x="1263.74" y="1815.5" width="41.32" height="32.5" fill="#fee0d2" stroke="#000" stroke-width="2.2" stroke-linejoin="round"/>
<rect x="1305.06" y="1815.5" width="41.32" height="32.5" fill="#fdd2bf" stroke="#000" stroke-width="2.2" stroke-linejoin="round"/>
<rect x="1346.38" y="1815.5" width="41.32" height="32.5" fill="#fcc3ab" stroke="#000" stroke-width="2.2" stroke-linejoin="round"/>
<rect x="1387.69" y="1815.5" width="41.32" height="32.5" fill="#fcb398" stroke="#000" stroke-width="2.2" stroke-linejoin="round"/>
<rect x="1429.01" y="1815.5" width="41.32" height="32.5" fill="#fca285" stroke="#000" stroke-width="2.2" stroke-linejoin="round"/>
<rect x="1470.33" y="1815.5" width="41.32" height="32.5" fill="#fc9272" stroke="#000" stroke-width="2.2" stroke-linejoin="round"/>
<rect x="1511.65" y="1815.5" width="41.32" height="32.5" fill="#fc8262" stroke="#000" stroke-width="2.2" stroke-linejoin="round"/>
<rect x="1552.97" y="1815.5" width="41.32" height="32.5" fill="#fb7252" stroke="#000" stroke-width="2.2" stroke-linejoin="round"/>
<rect x="1594.29" y="1815.5" width="41.32" height="32.5" fill="#f96044" stroke="#000" stroke-width="2.2" stroke-linejoin="round"/>
<rect x="1635.61" y="1815.5" width="41.32" height="32.5" fill="#f44d38" stroke="#000" stroke-width="2.2" stroke-linejoin="round"/>
<rect x="1676.92" y="1815.5" width="41.32" height="32.5" fill="#ee3a2c" stroke="#000" stroke-width="2.2" stroke-linejoin="round"/>
<rect x="1718.24" y="1815.5" width="41.32" height="32.5" fill="#e12d26" stroke="#000" stroke-width="2.2" stroke-linejoin="round"/>
<rect x="1759.56" y="1815.5" width="41.32" height="32.5" fill="#d21f20" stroke="#000" stroke-width="2.2" stroke-linejoin="round"/>
<rect x="1800.88" y="1815.5" width="41.32" height="32.5" fill="#c3161b" stroke="#000" stroke-width="2.2" stroke-linejoin="round"/>
<text class="b" transform="translate(602.64 1877.90) scale(0.9300 1)" font-size="29.80" text-anchor="middle">0.533</text>
<text class="b" transform="translate(685.27 1877.90) scale(0.9300 1)" font-size="29.80" text-anchor="middle">0.600</text>
<text class="b" transform="translate(767.91 1877.90) scale(0.9300 1)" font-size="29.80" text-anchor="middle">0.667</text>
<text class="b" transform="translate(850.55 1877.90) scale(0.9300 1)" font-size="29.80" text-anchor="middle">0.733</text>
<text class="b" transform="translate(933.19 1877.90) scale(0.9300 1)" font-size="29.80" text-anchor="middle">0.800</text>
<text class="b" transform="translate(1015.83 1877.90) scale(0.9300 1)" font-size="29.80" text-anchor="middle">0.867</text>
<text class="b" transform="translate(1098.46 1877.90) scale(0.9300 1)" font-size="29.80" text-anchor="middle">0.933</text>
<text class="b" transform="translate(1181.10 1877.90) scale(0.9300 1)" font-size="29.80" text-anchor="middle">1.000</text>
<text class="b" transform="translate(1263.74 1877.90) scale(0.9300 1)" font-size="29.80" text-anchor="middle">1.067</text>
<text class="b" transform="translate(1346.38 1877.90) scale(0.9300 1)" font-size="29.80" text-anchor="middle">1.133</text>
<text class="b" transform="translate(1429.01 1877.90) scale(0.9300 1)" font-size="29.80" text-anchor="middle">1.200</text>
<text class="b" transform="translate(1511.65 1877.90) scale(0.9300 1)" font-size="29.80" text-anchor="middle">1.267</text>
<text class="b" transform="translate(1594.29 1877.90) scale(0.9300 1)" font-size="29.80" text-anchor="middle">1.333</text>
<text class="b" transform="translate(1676.92 1877.90) scale(0.9300 1)" font-size="29.80" text-anchor="middle">1.400</text>
<text class="b" transform="translate(1759.56 1877.90) scale(0.9300 1)" font-size="29.80" text-anchor="middle">1.467</text>
<rect x="520.00" y="1935.6" width="120.20" height="34.6" fill="#0a9619" stroke="#000" stroke-width="2.2" stroke-linejoin="round"/>
<rect x="640.20" y="1935.6" width="120.20" height="34.6" fill="#1ea524" stroke="#000" stroke-width="2.2" stroke-linejoin="round"/>
<rect x="760.40" y="1935.6" width="120.20" height="34.6" fill="#30ac34" stroke="#000" stroke-width="2.2" stroke-linejoin="round"/>
<rect x="880.60" y="1935.6" width="120.20" height="34.6" fill="#46b446" stroke="#000" stroke-width="2.2" stroke-linejoin="round"/>
<rect x="1000.80" y="1935.6" width="120.20" height="34.6" fill="#60c058" stroke="#000" stroke-width="2.2" stroke-linejoin="round"/>
<rect x="1121.00" y="1935.6" width="120.20" height="34.6" fill="#74c66b" stroke="#000" stroke-width="2.2" stroke-linejoin="round"/>
<rect x="1241.20" y="1935.6" width="120.20" height="34.6" fill="#8dd07e" stroke="#000" stroke-width="2.2" stroke-linejoin="round"/>
<rect x="1361.40" y="1935.6" width="120.20" height="34.6" fill="#a6db9d" stroke="#000" stroke-width="2.2" stroke-linejoin="round"/>
<rect x="1481.60" y="1935.6" width="120.20" height="34.6" fill="#bfe5b6" stroke="#000" stroke-width="2.2" stroke-linejoin="round"/>
<rect x="1601.80" y="1935.6" width="120.20" height="34.6" fill="#d9f0d3" stroke="#000" stroke-width="2.2" stroke-linejoin="round"/>
<rect x="1722.00" y="1935.6" width="120.20" height="34.6" fill="#f0f8ee" stroke="#000" stroke-width="2.2" stroke-linejoin="round"/>
<text class="b" transform="translate(640.20 2000.90) scale(0.9300 1)" font-size="29.80" text-anchor="middle">0.775</text>
<text class="b" transform="translate(760.40 2000.90) scale(0.9300 1)" font-size="29.80" text-anchor="middle">0.800</text>
<text class="b" transform="translate(880.60 2000.90) scale(0.9300 1)" font-size="29.80" text-anchor="middle">0.825</text>
<text class="b" transform="translate(1000.80 2000.90) scale(0.9300 1)" font-size="29.80" text-anchor="middle">0.850</text>
<text class="b" transform="translate(1121.00 2000.90) scale(0.9300 1)" font-size="29.80" text-anchor="middle">0.875</text>
<text class="b" transform="translate(1241.20 2000.90) scale(0.9300 1)" font-size="29.80" text-anchor="middle">0.900</text>
<text class="b" transform="translate(1361.40 2000.90) scale(0.9300 1)" font-size="29.80" text-anchor="middle">0.925</text>
<text class="b" transform="translate(1481.60 2000.90) scale(0.9300 1)" font-size="29.80" text-anchor="middle">0.950</text>
<text class="b" transform="translate(1601.80 2000.90) scale(0.9300 1)" font-size="29.80" text-anchor="middle">0.975</text>
<text class="b" transform="translate(1722.00 2000.90) scale(0.9300 1)" font-size="29.80" text-anchor="middle">0.990</text>
</g>
</svg></body></html>
